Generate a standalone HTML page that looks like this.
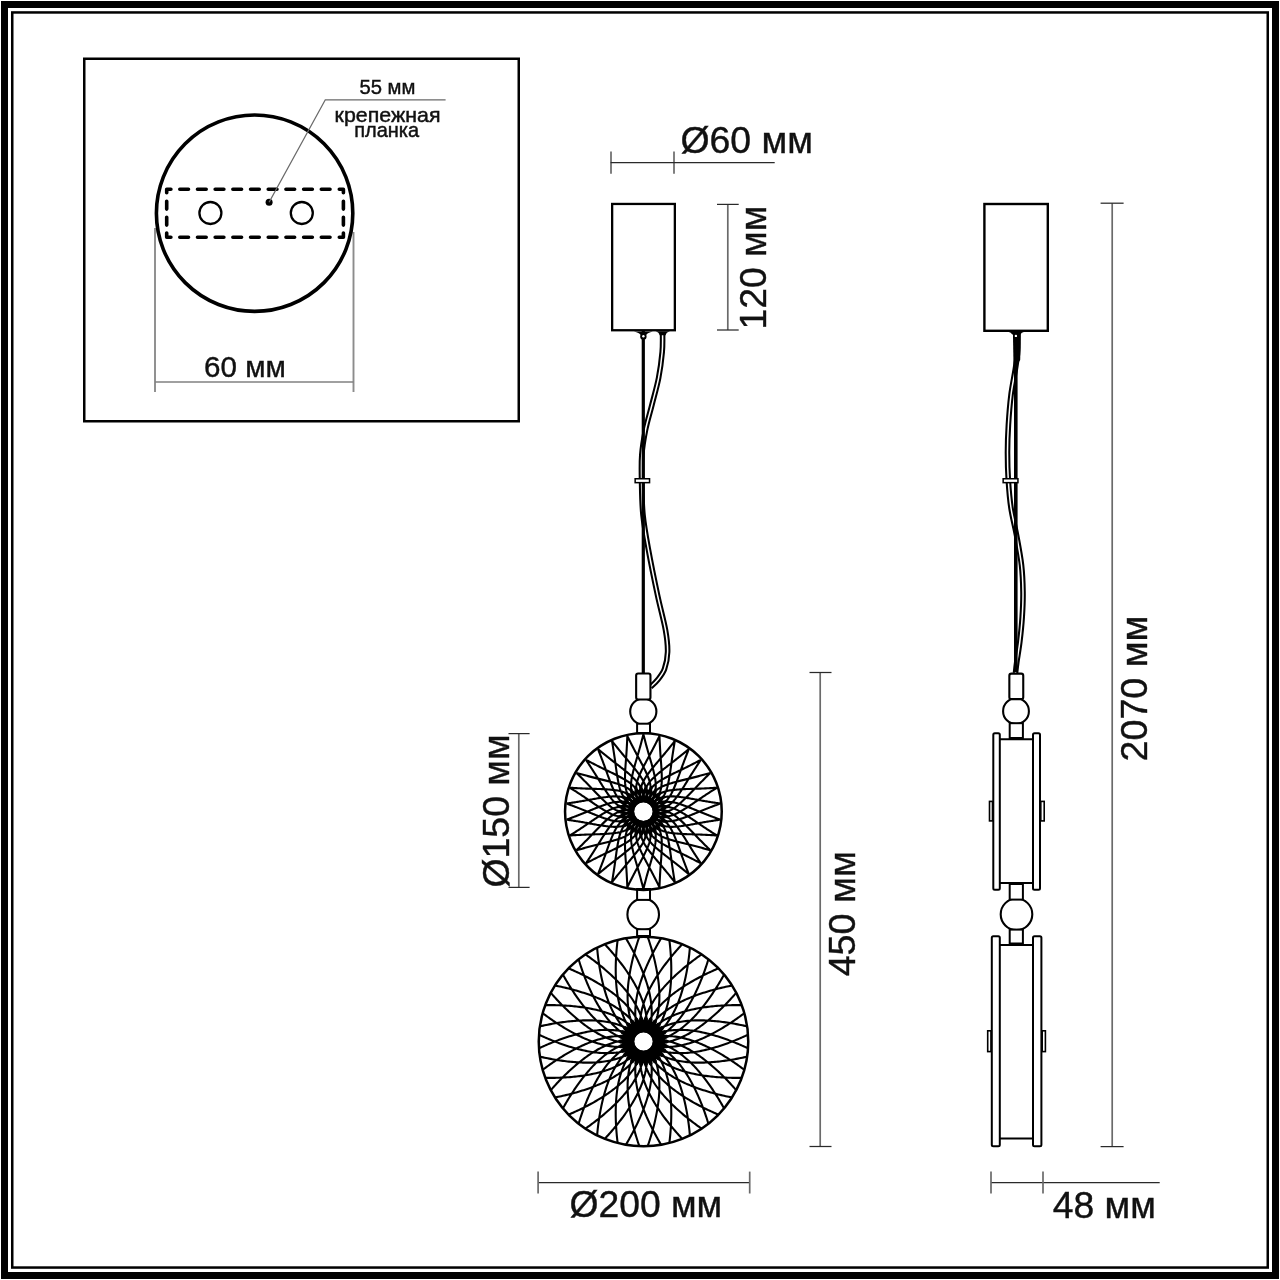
<!DOCTYPE html>
<html><head><meta charset="utf-8"><style>
html,body{margin:0;padding:0;background:#fff;width:1280px;height:1280px;overflow:hidden}
svg{display:block}
text{font-family:"Liberation Sans",sans-serif;fill:#111}
svg{will-change:transform}
</style></head><body>
<svg width="1280" height="1280" viewBox="0 0 1280 1280">
<rect width="1280" height="1280" fill="#fff"/>
<rect x="4.50" y="4.50" width="1271.00" height="1271.00" rx="0" fill="none" stroke="#000" stroke-width="7"/>
<rect x="12.25" y="12.45" width="1255.50" height="1255.10" rx="0" fill="none" stroke="#000" stroke-width="2.5"/>
<rect x="84.25" y="58.75" width="434.50" height="362.50" rx="0" fill="none" stroke="#000" stroke-width="2.5"/>
<line x1="155" y1="228" x2="155" y2="392" stroke="#8c8c8c" stroke-width="1.9" stroke-linecap="butt"/>
<line x1="353.5" y1="232" x2="353.5" y2="392" stroke="#8c8c8c" stroke-width="1.9" stroke-linecap="butt"/>
<line x1="155" y1="382" x2="353.5" y2="382" stroke="#808080" stroke-width="1.5" stroke-linecap="butt"/>
<circle cx="254.6" cy="213.2" r="98.2" fill="none" stroke="#000" stroke-width="3.6"/>
<path d="M179.80,189.2H188.50M179.80,237.3H188.50M197.49,189.2H206.19M197.49,237.3H206.19M215.18,189.2H223.88M215.18,237.3H223.88M232.87,189.2H241.57M232.87,237.3H241.57M250.56,189.2H259.26M250.56,237.3H259.26M268.25,189.2H276.95M268.25,237.3H276.95M285.94,189.2H294.64M285.94,237.3H294.64M303.63,189.2H312.33M303.63,237.3H312.33M321.32,189.2H330.02M321.32,237.3H330.02M166.7,201.30V209.10M343.4,201.30V209.10M166.7,217.30V225.10M343.4,217.30V225.10M170.89999999999998,189.2H166.7V192.79999999999998M339.3,189.2H343.4V192.79999999999998M170.89999999999998,237.3H166.7V233.0M339.3,237.3H343.4V233.0" fill="none" stroke="#000" stroke-width="3.6" stroke-linecap="round" stroke-linejoin="round"/>
<circle cx="210.4" cy="213" r="11" fill="none" stroke="#000" stroke-width="2.3"/>
<circle cx="301.8" cy="213" r="11" fill="none" stroke="#000" stroke-width="2.3"/>
<circle cx="269.1" cy="202.3" r="3.5" fill="#000"/>
<polyline points="269.1,202.3 325.3,99.8 445.6,99.8" fill="none" stroke="#6a6a6a" stroke-width="1.3"/>
<text transform="translate(359.49,94.00) scale(0.9724,1)" font-size="20.80" stroke="#111" stroke-width="0.45">55 мм</text>
<text transform="translate(334.60,121.60) scale(1.0794,1)" font-size="19.80" stroke="#111" stroke-width="0.45">крепежная</text>
<text transform="translate(354.20,136.80) scale(0.9852,1)" font-size="20.30" stroke="#111" stroke-width="0.45">планка</text>
<text transform="translate(204.12,376.90) scale(0.9928,1)" font-size="29.80" stroke="#111" stroke-width="0.4">60 мм</text>
<line x1="611" y1="151.4" x2="611" y2="173.8" stroke="#6a6a6a" stroke-width="1.7" stroke-linecap="butt"/>
<line x1="674" y1="151.4" x2="674" y2="173.8" stroke="#6a6a6a" stroke-width="1.7" stroke-linecap="butt"/>
<line x1="610.6" y1="162.5" x2="774.7" y2="162.5" stroke="#2a2a2a" stroke-width="1.25" stroke-linecap="butt"/>
<text transform="translate(680.40,152.75) scale(0.9903,1)" font-size="37.80" stroke="#111" stroke-width="0.4">Ø60 мм</text>
<rect x="612.15" y="203.95" width="62.70" height="126.30" rx="0" fill="none" stroke="#000" stroke-width="2.3"/>
<line x1="727.8" y1="204.4" x2="727.8" y2="330" stroke="#6a6a6a" stroke-width="1.7" stroke-linecap="butt"/>
<line x1="717" y1="204.4" x2="738.7" y2="204.4" stroke="#2a2a2a" stroke-width="1.25" stroke-linecap="butt"/>
<line x1="717" y1="330" x2="738.7" y2="330" stroke="#2a2a2a" stroke-width="1.25" stroke-linecap="butt"/>
<text transform="translate(765.90,329.49) rotate(-90) scale(0.9873,1)" font-size="37.80" stroke="#111" stroke-width="0.4">120 мм</text>
<path d="M633.9,331.4 Q639.5,332.59999999999997 640.3,334.79999999999995 L646.5,334.79999999999995 Q647.3,332.59999999999997 652.9,331.4 Z" fill="#000"/>
<circle cx="643.4" cy="336.4" r="3.2" fill="#000"/>
<path d="M662.60,334.00C662.53,337.00 662.87,344.67 662.20,352.00C661.53,359.33 660.32,369.17 658.60,378.00C656.88,386.83 654.08,396.33 651.90,405.00C649.72,413.67 647.18,421.67 645.50,430.00C643.82,438.33 642.45,446.33 641.80,455.00C641.15,463.67 641.40,472.00 641.60,482.00C641.80,492.00 641.85,503.67 643.00,515.00C644.15,526.33 646.08,536.67 648.50,550.00C650.92,563.33 654.67,581.67 657.50,595.00C660.33,608.33 663.82,620.50 665.50,630.00C667.18,639.50 667.77,645.50 667.60,652.00C667.43,658.50 666.18,664.33 664.50,669.00C662.82,673.67 659.83,677.00 657.50,680.00C655.17,683.00 651.67,685.83 650.50,687.00" fill="none" stroke="#000" stroke-width="5.6"/>
<path d="M662.60,334.00C662.53,337.00 662.87,344.67 662.20,352.00C661.53,359.33 660.32,369.17 658.60,378.00C656.88,386.83 654.08,396.33 651.90,405.00C649.72,413.67 647.18,421.67 645.50,430.00C643.82,438.33 642.45,446.33 641.80,455.00C641.15,463.67 641.40,472.00 641.60,482.00C641.80,492.00 641.85,503.67 643.00,515.00C644.15,526.33 646.08,536.67 648.50,550.00C650.92,563.33 654.67,581.67 657.50,595.00C660.33,608.33 663.82,620.50 665.50,630.00C667.18,639.50 667.77,645.50 667.60,652.00C667.43,658.50 666.18,664.33 664.50,669.00C662.82,673.67 659.83,677.00 657.50,680.00C655.17,683.00 651.67,685.83 650.50,687.00" fill="none" stroke="#fff" stroke-width="1.5"/>
<line x1="643.3" y1="331" x2="643.3" y2="673" stroke="#000" stroke-width="3.2" stroke-linecap="butt"/>
<path d="M655.5,331.2 Q659.2,332.2 659.6,335.2 L665.6,335.2 Q666.1,332.2 670,331.2 Z" fill="#000"/>
<circle cx="643.4" cy="336.2" r="1.2" fill="#fff"/>
<rect x="635.15" y="478.75" width="14.40" height="3.90" rx="0" fill="#fff" stroke="#000" stroke-width="1.5"/>
<circle cx="643.3" cy="711.6" r="13.1" fill="#fff" stroke="#000" stroke-width="2.1"/>
<circle cx="643.2" cy="914.4" r="15.8" fill="#fff" stroke="#000" stroke-width="2.1"/>
<rect x="636.15" y="673.45" width="14.30" height="26.10" rx="2" fill="#fff" stroke="#000" stroke-width="2.1"/>
<rect x="637.10" y="723.70" width="12.90" height="9.30" rx="0" fill="#fff" stroke="#000" stroke-width="2.0"/>
<rect x="637.10" y="889.00" width="12.90" height="10.90" rx="0" fill="#fff" stroke="#000" stroke-width="2.0"/>
<rect x="637.10" y="929.20" width="12.90" height="6.80" rx="0" fill="#fff" stroke="#000" stroke-width="2.0"/>
<clipPath id="clip643811"><circle cx="643.4" cy="811.6" r="78.35"/></clipPath>
<g clip-path="url(#clip643811)" fill="none" stroke="#000" stroke-width="2.1" stroke-linejoin="round"><path d="M643.40,734.30 L643.64,735.26 L643.88,736.22 L644.13,737.18 L644.38,738.15 L644.63,739.11 L644.88,740.08 L645.14,741.04 L645.39,742.01 L645.65,742.98 L645.91,743.95 L646.17,744.92 L646.44,745.89 L646.70,746.86 L646.97,747.84 L647.24,748.82 L647.52,749.80 L647.79,750.78 L648.07,751.76 L648.36,752.75 L648.64,753.74 L648.93,754.73 L649.22,755.72 L649.51,756.72 L649.80,757.72 L650.10,758.72 L650.39,759.73 L650.69,760.74 L650.98,761.75 L651.28,762.77 L651.57,763.79 L651.86,764.82 L652.15,765.85 L652.43,766.88 L652.71,767.92 L652.98,768.96 L653.25,770.01 L653.51,771.06 L653.76,772.12 L654.01,773.18 L654.25,774.24 L654.49,775.32 L654.71,776.39 L654.93,777.47 L655.14,778.56 L655.32,779.65 L655.47,780.74 L655.59,781.82 L655.68,782.90 L655.74,783.97 L655.77,785.04 L655.77,786.10 L655.74,787.16 L655.69,788.21 L655.60,789.25 L655.48,790.28 L655.33,791.31 L655.15,792.32 L654.92,793.31 L654.66,794.28 L654.37,795.23 L654.03,796.17 L653.67,797.08 L653.28,797.98 L652.85,798.86 L652.39,799.72 L651.91,800.56 L651.40,801.37 L650.86,802.17 L650.29,802.95 L649.71,803.71 L649.11,804.46 L648.51,805.21 L647.91,805.96 L647.31,806.71 L646.71,807.46 L646.11,808.21 L645.51,808.96 L644.91,809.71 L644.31,810.46 L643.71,811.21M643.40,734.30 L643.16,735.26 L642.92,736.22 L642.67,737.18 L642.42,738.15 L642.17,739.11 L641.92,740.08 L641.66,741.04 L641.41,742.01 L641.15,742.98 L640.89,743.95 L640.63,744.92 L640.36,745.89 L640.10,746.86 L639.83,747.84 L639.56,748.82 L639.28,749.80 L639.01,750.78 L638.73,751.76 L638.44,752.75 L638.16,753.74 L637.87,754.73 L637.58,755.72 L637.29,756.72 L637.00,757.72 L636.70,758.72 L636.41,759.73 L636.11,760.74 L635.82,761.75 L635.52,762.77 L635.23,763.79 L634.94,764.82 L634.65,765.85 L634.37,766.88 L634.09,767.92 L633.82,768.96 L633.55,770.01 L633.29,771.06 L633.04,772.12 L632.79,773.18 L632.55,774.24 L632.31,775.32 L632.09,776.39 L631.87,777.47 L631.66,778.56 L631.48,779.65 L631.33,780.74 L631.21,781.82 L631.12,782.90 L631.06,783.97 L631.03,785.04 L631.03,786.10 L631.06,787.16 L631.11,788.21 L631.20,789.25 L631.32,790.28 L631.47,791.31 L631.65,792.32 L631.88,793.31 L632.14,794.28 L632.43,795.23 L632.77,796.17 L633.13,797.08 L633.52,797.98 L633.95,798.86 L634.41,799.72 L634.89,800.56 L635.40,801.37 L635.94,802.17 L636.51,802.95 L637.09,803.71 L637.69,804.46 L638.29,805.21 L638.89,805.96 L639.49,806.71 L640.09,807.46 L640.69,808.21 L641.29,808.96 L641.89,809.71 L642.49,810.46 L643.09,811.21M659.47,735.99 L659.51,736.98 L659.55,737.97 L659.59,738.96 L659.63,739.95 L659.67,740.95 L659.72,741.95 L659.77,742.94 L659.82,743.94 L659.87,744.94 L659.92,745.95 L659.98,746.95 L660.03,747.96 L660.09,748.96 L660.15,749.98 L660.21,750.99 L660.28,752.00 L660.34,753.02 L660.41,754.04 L660.48,755.06 L660.56,756.09 L660.63,757.12 L660.71,758.15 L660.79,759.19 L660.87,760.23 L660.95,761.27 L661.02,762.32 L661.10,763.37 L661.18,764.42 L661.26,765.48 L661.33,766.54 L661.40,767.60 L661.47,768.67 L661.53,769.74 L661.58,770.81 L661.63,771.89 L661.68,772.96 L661.72,774.05 L661.75,775.13 L661.77,776.22 L661.78,777.32 L661.79,778.41 L661.79,779.51 L661.77,780.62 L661.75,781.72 L661.70,782.83 L661.63,783.92 L661.52,785.00 L661.38,786.08 L661.22,787.14 L661.03,788.19 L660.80,789.23 L660.56,790.26 L660.28,791.27 L659.98,792.27 L659.65,793.26 L659.29,794.23 L658.90,795.18 L658.48,796.10 L658.02,797.00 L657.53,797.87 L657.01,798.72 L656.46,799.54 L655.89,800.33 L655.29,801.10 L654.67,801.85 L654.02,802.57 L653.35,803.26 L652.65,803.93 L651.94,804.57 L651.21,805.19 L650.47,805.80 L649.72,806.41 L648.98,807.02 L648.24,807.63 L647.50,808.24 L646.76,808.85 L646.01,809.45 L645.27,810.06 L644.53,810.67 L643.79,811.28M659.47,735.99 L659.04,736.88 L658.60,737.77 L658.16,738.66 L657.72,739.55 L657.27,740.44 L656.82,741.33 L656.37,742.22 L655.92,743.11 L655.47,744.01 L655.01,744.90 L654.55,745.80 L654.09,746.69 L653.63,747.59 L653.16,748.49 L652.70,749.39 L652.22,750.29 L651.75,751.19 L651.27,752.10 L650.79,753.00 L650.30,753.91 L649.82,754.82 L649.33,755.73 L648.83,756.65 L648.34,757.56 L647.84,758.48 L647.34,759.41 L646.85,760.33 L646.34,761.27 L645.84,762.20 L645.35,763.14 L644.85,764.08 L644.36,765.03 L643.87,765.98 L643.38,766.94 L642.90,767.90 L642.42,768.87 L641.94,769.84 L641.47,770.82 L641.01,771.81 L640.55,772.80 L640.10,773.80 L639.65,774.81 L639.22,775.82 L638.79,776.84 L638.38,777.87 L638.01,778.90 L637.66,779.93 L637.35,780.97 L637.07,782.01 L636.82,783.05 L636.60,784.09 L636.41,785.13 L636.25,786.17 L636.12,787.20 L636.02,788.24 L635.95,789.27 L635.92,790.29 L635.93,791.31 L635.99,792.31 L636.08,793.31 L636.21,794.29 L636.37,795.27 L636.57,796.23 L636.80,797.17 L637.07,798.11 L637.37,799.03 L637.71,799.93 L638.07,800.83 L638.46,801.70 L638.87,802.57 L639.30,803.43 L639.73,804.29 L640.16,805.14 L640.59,806.00 L641.02,806.86 L641.45,807.72 L641.88,808.58 L642.31,809.43 L642.74,810.29 L643.18,811.15M674.84,740.98 L674.67,741.96 L674.50,742.94 L674.33,743.91 L674.17,744.89 L674.01,745.88 L673.84,746.86 L673.68,747.85 L673.53,748.84 L673.37,749.83 L673.21,750.82 L673.06,751.81 L672.90,752.81 L672.75,753.80 L672.59,754.80 L672.45,755.81 L672.30,756.81 L672.15,757.82 L672.01,758.84 L671.87,759.85 L671.72,760.87 L671.58,761.89 L671.44,762.92 L671.30,763.95 L671.17,764.98 L671.03,766.02 L670.89,767.06 L670.75,768.10 L670.60,769.15 L670.46,770.20 L670.31,771.25 L670.16,772.30 L670.00,773.36 L669.84,774.42 L669.67,775.48 L669.49,776.54 L669.31,777.61 L669.12,778.68 L668.93,779.75 L668.72,780.82 L668.51,781.89 L668.29,782.96 L668.06,784.04 L667.81,785.11 L667.56,786.19 L667.28,787.26 L666.98,788.31 L666.65,789.35 L666.30,790.38 L665.91,791.38 L665.51,792.37 L665.07,793.34 L664.62,794.29 L664.14,795.23 L663.63,796.14 L663.11,797.04 L662.56,797.92 L661.98,798.76 L661.37,799.57 L660.73,800.36 L660.07,801.11 L659.39,801.83 L658.69,802.52 L657.96,803.18 L657.21,803.81 L656.45,804.40 L655.67,804.97 L654.86,805.51 L654.05,806.02 L653.22,806.50 L652.37,806.95 L651.52,807.40 L650.67,807.84 L649.81,808.28 L648.96,808.72 L648.11,809.16 L647.26,809.60 L646.40,810.04 L645.55,810.49 L644.70,810.93 L643.85,811.37M674.84,740.98 L674.23,741.76 L673.62,742.54 L673.00,743.32 L672.38,744.10 L671.76,744.88 L671.14,745.66 L670.51,746.44 L669.89,747.21 L669.26,747.99 L668.62,748.77 L667.99,749.55 L667.35,750.34 L666.71,751.12 L666.07,751.90 L665.43,752.68 L664.78,753.47 L664.12,754.25 L663.47,755.03 L662.81,755.82 L662.15,756.61 L661.48,757.40 L660.81,758.19 L660.14,758.98 L659.47,759.77 L658.79,760.57 L658.11,761.37 L657.43,762.17 L656.75,762.98 L656.06,763.79 L655.38,764.60 L654.70,765.42 L654.02,766.25 L653.34,767.08 L652.67,767.91 L651.99,768.75 L651.32,769.60 L650.66,770.45 L649.99,771.31 L649.33,772.18 L648.68,773.06 L648.03,773.94 L647.39,774.83 L646.75,775.73 L646.12,776.64 L645.51,777.56 L644.92,778.49 L644.37,779.43 L643.85,780.38 L643.36,781.34 L642.90,782.30 L642.47,783.27 L642.06,784.25 L641.69,785.23 L641.35,786.22 L641.03,787.21 L640.75,788.21 L640.51,789.20 L640.31,790.20 L640.16,791.19 L640.04,792.19 L639.96,793.18 L639.92,794.16 L639.92,795.14 L639.95,796.12 L640.02,797.09 L640.12,798.05 L640.26,799.01 L640.42,799.95 L640.62,800.89 L640.85,801.83 L641.09,802.75 L641.33,803.68 L641.58,804.61 L641.82,805.54 L642.06,806.47 L642.30,807.40 L642.55,808.33 L642.79,809.26 L643.03,810.19 L643.27,811.11M688.84,749.06 L688.47,749.98 L688.10,750.90 L687.73,751.82 L687.37,752.75 L687.00,753.68 L686.64,754.61 L686.28,755.54 L685.92,756.47 L685.56,757.41 L685.20,758.34 L684.84,759.28 L684.48,760.22 L684.12,761.17 L683.77,762.11 L683.41,763.07 L683.06,764.02 L682.70,764.98 L682.35,765.94 L682.00,766.90 L681.65,767.87 L681.30,768.84 L680.95,769.81 L680.60,770.79 L680.25,771.77 L679.90,772.76 L679.55,773.75 L679.19,774.74 L678.84,775.73 L678.48,776.73 L678.11,777.73 L677.74,778.73 L677.37,779.73 L676.99,780.73 L676.60,781.73 L676.21,782.74 L675.81,783.74 L675.41,784.74 L674.99,785.75 L674.57,786.75 L674.14,787.76 L673.70,788.76 L673.25,789.77 L672.79,790.77 L672.31,791.77 L671.82,792.76 L671.31,793.73 L670.77,794.67 L670.21,795.60 L669.63,796.50 L669.02,797.39 L668.40,798.25 L667.75,799.08 L667.09,799.90 L666.40,800.69 L665.70,801.46 L664.98,802.20 L664.24,802.90 L663.48,803.57 L662.69,804.21 L661.89,804.80 L661.07,805.37 L660.24,805.89 L659.39,806.39 L658.53,806.85 L657.66,807.27 L656.78,807.67 L655.88,808.03 L654.98,808.35 L654.06,808.65 L653.14,808.92 L652.21,809.18 L651.29,809.43 L650.36,809.68 L649.44,809.94 L648.51,810.19 L647.59,810.45 L646.66,810.70 L645.74,810.96 L644.81,811.21 L643.88,811.47M688.84,749.06 L688.08,749.70 L687.31,750.33 L686.55,750.97 L685.78,751.60 L685.01,752.23 L684.24,752.86 L683.47,753.50 L682.69,754.13 L681.91,754.76 L681.13,755.39 L680.35,756.02 L679.57,756.65 L678.78,757.29 L677.99,757.92 L677.20,758.55 L676.40,759.18 L675.60,759.81 L674.79,760.44 L673.98,761.07 L673.17,761.71 L672.35,762.34 L671.54,762.97 L670.71,763.61 L669.89,764.24 L669.06,764.88 L668.23,765.52 L667.40,766.17 L666.56,766.81 L665.73,767.46 L664.89,768.12 L664.05,768.78 L663.22,769.44 L662.38,770.12 L661.55,770.79 L660.71,771.47 L659.88,772.16 L659.05,772.86 L658.22,773.57 L657.40,774.28 L656.58,775.00 L655.76,775.73 L654.94,776.47 L654.13,777.21 L653.32,777.97 L652.54,778.75 L651.77,779.53 L651.04,780.34 L650.33,781.16 L649.65,781.99 L649.00,782.84 L648.38,783.70 L647.78,784.57 L647.21,785.45 L646.67,786.35 L646.16,787.25 L645.67,788.17 L645.23,789.09 L644.83,790.03 L644.47,790.97 L644.15,791.91 L643.87,792.86 L643.62,793.82 L643.41,794.78 L643.24,795.74 L643.11,796.70 L643.01,797.66 L642.94,798.63 L642.91,799.59 L642.91,800.55 L642.94,801.51 L642.98,802.47 L643.03,803.43 L643.07,804.39 L643.11,805.34 L643.16,806.30 L643.20,807.26 L643.25,808.22 L643.29,809.18 L643.33,810.14 L643.38,811.10M700.85,759.88 L700.29,760.70 L699.74,761.52 L699.19,762.35 L698.64,763.18 L698.09,764.01 L697.54,764.84 L697.00,765.68 L696.45,766.51 L695.90,767.36 L695.36,768.20 L694.81,769.04 L694.26,769.89 L693.72,770.74 L693.17,771.59 L692.63,772.44 L692.08,773.30 L691.54,774.17 L691.00,775.03 L690.45,775.90 L689.91,776.78 L689.36,777.65 L688.82,778.53 L688.27,779.42 L687.73,780.31 L687.18,781.20 L686.63,782.09 L686.07,782.98 L685.52,783.88 L684.96,784.78 L684.40,785.68 L683.83,786.58 L683.25,787.49 L682.67,788.39 L682.09,789.29 L681.50,790.19 L680.90,791.09 L680.29,791.98 L679.68,792.88 L679.05,793.78 L678.42,794.67 L677.78,795.56 L677.13,796.45 L676.48,797.33 L675.81,798.21 L675.12,799.08 L674.41,799.92 L673.69,800.73 L672.95,801.52 L672.19,802.29 L671.42,803.02 L670.63,803.73 L669.82,804.42 L669.00,805.08 L668.17,805.71 L667.32,806.31 L666.47,806.89 L665.59,807.43 L664.71,807.92 L663.81,808.38 L662.90,808.80 L661.98,809.18 L661.06,809.52 L660.13,809.83 L659.19,810.10 L658.25,810.33 L657.30,810.53 L656.35,810.70 L655.40,810.83 L654.44,810.93 L653.48,811.00 L652.53,811.06 L651.57,811.12 L650.61,811.17 L649.65,811.23 L648.69,811.29 L647.73,811.34 L646.78,811.40 L645.82,811.46 L644.86,811.51 L643.90,811.57M700.85,759.88 L699.97,760.34 L699.09,760.80 L698.21,761.26 L697.33,761.72 L696.45,762.18 L695.56,762.64 L694.67,763.10 L693.78,763.55 L692.89,764.01 L692.00,764.46 L691.10,764.92 L690.20,765.37 L689.30,765.83 L688.39,766.28 L687.49,766.74 L686.57,767.19 L685.66,767.64 L684.74,768.09 L683.82,768.54 L682.89,768.99 L681.96,769.44 L681.03,769.89 L680.10,770.34 L679.16,770.79 L678.21,771.24 L677.27,771.69 L676.32,772.15 L675.37,772.61 L674.41,773.07 L673.46,773.54 L672.50,774.01 L671.55,774.49 L670.59,774.97 L669.63,775.46 L668.68,775.95 L667.72,776.45 L666.76,776.96 L665.81,777.48 L664.85,778.00 L663.90,778.54 L662.95,779.08 L661.99,779.63 L661.05,780.20 L660.10,780.77 L659.17,781.36 L658.26,781.98 L657.37,782.61 L656.51,783.27 L655.67,783.94 L654.86,784.63 L654.07,785.34 L653.30,786.07 L652.56,786.82 L651.85,787.58 L651.16,788.36 L650.50,789.15 L649.87,789.97 L649.28,790.79 L648.74,791.64 L648.23,792.50 L647.75,793.37 L647.31,794.25 L646.91,795.15 L646.54,796.05 L646.21,796.97 L645.91,797.89 L645.65,798.81 L645.42,799.75 L645.22,800.69 L645.05,801.63 L644.89,802.58 L644.73,803.53 L644.58,804.47 L644.42,805.42 L644.26,806.37 L644.11,807.32 L643.95,808.26 L643.79,809.21 L643.64,810.16 L643.48,811.10M710.34,772.95 L709.63,773.64 L708.92,774.33 L708.21,775.02 L707.50,775.72 L706.79,776.42 L706.08,777.12 L705.37,777.82 L704.66,778.53 L703.96,779.24 L703.25,779.95 L702.54,780.66 L701.83,781.37 L701.11,782.09 L700.40,782.81 L699.69,783.54 L698.98,784.26 L698.27,784.99 L697.56,785.73 L696.85,786.47 L696.13,787.21 L695.42,787.95 L694.70,788.70 L693.98,789.45 L693.26,790.21 L692.54,790.96 L691.82,791.72 L691.09,792.48 L690.36,793.24 L689.63,794.01 L688.89,794.77 L688.14,795.54 L687.40,796.30 L686.64,797.06 L685.88,797.82 L685.12,798.58 L684.34,799.33 L683.56,800.08 L682.78,800.83 L681.98,801.58 L681.18,802.32 L680.37,803.06 L679.55,803.79 L678.72,804.52 L677.88,805.24 L677.03,805.95 L676.17,806.62 L675.29,807.27 L674.40,807.89 L673.50,808.48 L672.59,809.04 L671.67,809.57 L670.74,810.07 L669.80,810.54 L668.85,810.99 L667.90,811.40 L666.94,811.79 L665.98,812.13 L665.01,812.43 L664.03,812.69 L663.06,812.91 L662.08,813.09 L661.11,813.24 L660.13,813.34 L659.16,813.41 L658.19,813.45 L657.22,813.45 L656.25,813.41 L655.29,813.34 L654.34,813.24 L653.39,813.11 L652.44,812.97 L651.49,812.83 L650.54,812.68 L649.59,812.54 L648.64,812.39 L647.69,812.25 L646.74,812.11 L645.79,811.96 L644.85,811.82 L643.90,811.68M710.34,772.95 L709.39,773.22 L708.44,773.49 L707.48,773.76 L706.52,774.03 L705.56,774.29 L704.60,774.55 L703.64,774.82 L702.67,775.08 L701.70,775.34 L700.73,775.60 L699.76,775.86 L698.79,776.12 L697.81,776.37 L696.83,776.63 L695.85,776.88 L694.87,777.13 L693.88,777.38 L692.88,777.63 L691.89,777.88 L690.89,778.13 L689.89,778.37 L688.88,778.62 L687.87,778.87 L686.86,779.11 L685.84,779.36 L684.83,779.61 L683.80,779.86 L682.78,780.11 L681.75,780.36 L680.72,780.62 L679.68,780.88 L678.65,781.15 L677.61,781.42 L676.58,781.70 L675.54,781.99 L674.50,782.28 L673.45,782.58 L672.41,782.88 L671.37,783.20 L670.32,783.52 L669.28,783.86 L668.23,784.20 L667.19,784.55 L666.14,784.92 L665.11,785.30 L664.09,785.71 L663.09,786.15 L662.12,786.61 L661.16,787.10 L660.21,787.60 L659.29,788.14 L658.39,788.69 L657.52,789.27 L656.66,789.86 L655.82,790.48 L655.01,791.12 L654.23,791.78 L653.48,792.47 L652.77,793.19 L652.09,793.92 L651.45,794.67 L650.84,795.45 L650.26,796.24 L649.71,797.05 L649.19,797.87 L648.71,798.71 L648.26,799.56 L647.84,800.43 L647.45,801.31 L647.08,802.19 L646.73,803.09 L646.38,803.98 L646.03,804.88 L645.68,805.77 L645.33,806.66 L644.98,807.56 L644.63,808.45 L644.28,809.34 L643.93,810.24 L643.58,811.13M716.92,787.71 L716.08,788.24 L715.24,788.77 L714.40,789.30 L713.56,789.83 L712.72,790.37 L711.88,790.91 L711.04,791.45 L710.20,791.99 L709.36,792.54 L708.52,793.08 L707.68,793.63 L706.83,794.18 L705.99,794.74 L705.14,795.29 L704.30,795.85 L703.45,796.42 L702.60,796.98 L701.75,797.55 L700.90,798.13 L700.05,798.70 L699.20,799.28 L698.34,799.87 L697.48,800.45 L696.62,801.04 L695.76,801.63 L694.89,802.22 L694.02,802.81 L693.15,803.41 L692.27,804.01 L691.39,804.60 L690.51,805.19 L689.62,805.78 L688.72,806.37 L687.82,806.95 L686.91,807.53 L686.00,808.11 L685.08,808.69 L684.15,809.25 L683.22,809.82 L682.28,810.38 L681.34,810.93 L680.38,811.48 L679.42,812.02 L678.45,812.55 L677.47,813.06 L676.48,813.54 L675.49,813.99 L674.49,814.41 L673.49,814.80 L672.48,815.16 L671.47,815.49 L670.46,815.79 L669.44,816.06 L668.42,816.29 L667.41,816.50 L666.39,816.68 L665.37,816.81 L664.36,816.91 L663.35,816.96 L662.36,816.97 L661.36,816.95 L660.38,816.88 L659.40,816.78 L658.44,816.65 L657.48,816.48 L656.53,816.28 L655.60,816.04 L654.67,815.78 L653.76,815.48 L652.85,815.16 L651.96,814.82 L651.06,814.48 L650.16,814.14 L649.26,813.81 L648.36,813.47 L647.46,813.13 L646.57,812.79 L645.67,812.45 L644.77,812.11 L643.87,811.78M716.92,787.71 L715.93,787.78 L714.94,787.85 L713.95,787.91 L712.96,787.97 L711.96,788.03 L710.97,788.09 L709.97,788.15 L708.97,788.20 L707.97,788.25 L706.97,788.31 L705.96,788.36 L704.96,788.41 L703.95,788.46 L702.94,788.50 L701.92,788.55 L700.91,788.59 L699.89,788.63 L698.87,788.66 L697.84,788.70 L696.81,788.73 L695.78,788.77 L694.75,788.80 L693.71,788.83 L692.67,788.86 L691.62,788.89 L690.57,788.92 L689.52,788.95 L688.46,788.98 L687.40,789.02 L686.34,789.05 L685.28,789.10 L684.21,789.14 L683.14,789.19 L682.07,789.25 L680.99,789.31 L679.91,789.38 L678.83,789.46 L677.75,789.54 L676.66,789.63 L675.57,789.73 L674.48,789.84 L673.39,789.96 L672.29,790.09 L671.19,790.23 L670.10,790.39 L669.02,790.58 L667.96,790.80 L666.90,791.05 L665.86,791.32 L664.84,791.62 L663.83,791.95 L662.83,792.31 L661.85,792.69 L660.89,793.09 L659.94,793.52 L659.01,793.98 L658.11,794.47 L657.24,794.99 L656.39,795.54 L655.58,796.11 L654.79,796.72 L654.03,797.35 L653.30,798.00 L652.60,798.68 L651.92,799.37 L651.27,800.09 L650.66,800.84 L650.06,801.59 L649.50,802.37 L648.96,803.16 L648.43,803.97 L647.90,804.77 L647.37,805.57 L646.85,806.37 L646.32,807.17 L645.79,807.97 L645.26,808.78 L644.73,809.58 L644.20,810.38 L643.68,811.18M720.28,803.52 L719.35,803.86 L718.42,804.20 L717.49,804.55 L716.55,804.89 L715.62,805.24 L714.69,805.60 L713.75,805.95 L712.82,806.31 L711.88,806.67 L710.95,807.03 L710.01,807.39 L709.07,807.75 L708.13,808.12 L707.18,808.49 L706.24,808.86 L705.30,809.23 L704.35,809.61 L703.40,809.99 L702.45,810.38 L701.49,810.77 L700.54,811.15 L699.58,811.55 L698.62,811.94 L697.66,812.34 L696.69,812.73 L695.72,813.13 L694.74,813.53 L693.77,813.93 L692.79,814.33 L691.80,814.73 L690.81,815.13 L689.82,815.52 L688.82,815.90 L687.81,816.29 L686.81,816.67 L685.79,817.04 L684.77,817.41 L683.75,817.78 L682.72,818.14 L681.69,818.49 L680.64,818.83 L679.60,819.17 L678.54,819.50 L677.48,819.82 L676.42,820.12 L675.36,820.38 L674.29,820.61 L673.23,820.82 L672.17,820.99 L671.11,821.13 L670.05,821.24 L669.00,821.32 L667.95,821.37 L666.90,821.39 L665.86,821.39 L664.83,821.35 L663.81,821.27 L662.80,821.15 L661.80,820.99 L660.82,820.79 L659.86,820.56 L658.91,820.30 L657.98,820.00 L657.06,819.67 L656.16,819.30 L655.27,818.91 L654.41,818.48 L653.56,818.03 L652.73,817.55 L651.91,817.05 L651.10,816.53 L650.29,816.01 L649.48,815.49 L648.67,814.98 L647.87,814.46 L647.06,813.94 L646.25,813.42 L645.44,812.91 L644.63,812.39 L643.82,811.87M720.28,803.52 L719.30,803.38 L718.31,803.24 L717.33,803.10 L716.35,802.95 L715.36,802.80 L714.38,802.65 L713.39,802.50 L712.40,802.34 L711.41,802.19 L710.42,802.03 L709.43,801.87 L708.43,801.71 L707.44,801.55 L706.44,801.39 L705.44,801.22 L704.43,801.05 L703.43,800.87 L702.42,800.70 L701.41,800.52 L700.40,800.34 L699.38,800.16 L698.36,799.97 L697.34,799.79 L696.32,799.60 L695.29,799.41 L694.26,799.22 L693.22,799.03 L692.18,798.85 L691.14,798.66 L690.09,798.48 L689.04,798.29 L687.99,798.12 L686.93,797.95 L685.87,797.78 L684.80,797.62 L683.73,797.46 L682.66,797.31 L681.58,797.17 L680.50,797.03 L679.42,796.90 L678.33,796.78 L677.23,796.67 L676.13,796.57 L675.03,796.47 L673.93,796.41 L672.83,796.37 L671.74,796.36 L670.66,796.38 L669.59,796.44 L668.52,796.52 L667.46,796.63 L666.42,796.77 L665.38,796.94 L664.35,797.13 L663.34,797.36 L662.33,797.61 L661.35,797.90 L660.39,798.23 L659.45,798.59 L658.53,798.98 L657.64,799.41 L656.76,799.87 L655.91,800.36 L655.08,800.87 L654.28,801.41 L653.49,801.98 L652.74,802.58 L652.00,803.20 L651.28,803.84 L650.59,804.50 L649.91,805.18 L649.22,805.85 L648.54,806.53 L647.86,807.20 L647.17,807.88 L646.49,808.55 L645.81,809.22 L645.12,809.90 L644.44,810.57 L643.76,811.25M720.28,819.68 L719.30,819.82 L718.31,819.96 L717.33,820.10 L716.35,820.25 L715.36,820.40 L714.38,820.55 L713.39,820.70 L712.40,820.86 L711.41,821.01 L710.42,821.17 L709.43,821.33 L708.43,821.49 L707.44,821.65 L706.44,821.81 L705.44,821.98 L704.43,822.15 L703.43,822.33 L702.42,822.50 L701.41,822.68 L700.40,822.86 L699.38,823.04 L698.36,823.23 L697.34,823.41 L696.32,823.60 L695.29,823.79 L694.26,823.98 L693.22,824.17 L692.18,824.35 L691.14,824.54 L690.09,824.72 L689.04,824.91 L687.99,825.08 L686.93,825.25 L685.87,825.42 L684.80,825.58 L683.73,825.74 L682.66,825.89 L681.58,826.03 L680.50,826.17 L679.42,826.30 L678.33,826.42 L677.23,826.53 L676.13,826.63 L675.03,826.73 L673.93,826.79 L672.83,826.83 L671.74,826.84 L670.66,826.82 L669.59,826.76 L668.52,826.68 L667.46,826.57 L666.42,826.43 L665.38,826.26 L664.35,826.07 L663.34,825.84 L662.33,825.59 L661.35,825.30 L660.39,824.97 L659.45,824.61 L658.53,824.22 L657.64,823.79 L656.76,823.33 L655.91,822.84 L655.08,822.33 L654.28,821.79 L653.49,821.22 L652.74,820.62 L652.00,820.00 L651.28,819.36 L650.59,818.70 L649.91,818.02 L649.22,817.35 L648.54,816.67 L647.86,816.00 L647.17,815.32 L646.49,814.65 L645.81,813.98 L645.12,813.30 L644.44,812.63 L643.76,811.95M720.28,819.68 L719.35,819.34 L718.42,819.00 L717.49,818.65 L716.55,818.31 L715.62,817.96 L714.69,817.60 L713.75,817.25 L712.82,816.89 L711.88,816.53 L710.95,816.17 L710.01,815.81 L709.07,815.45 L708.13,815.08 L707.18,814.71 L706.24,814.34 L705.30,813.97 L704.35,813.59 L703.40,813.21 L702.45,812.82 L701.49,812.43 L700.54,812.05 L699.58,811.65 L698.62,811.26 L697.66,810.86 L696.69,810.47 L695.72,810.07 L694.74,809.67 L693.77,809.27 L692.79,808.87 L691.80,808.47 L690.81,808.07 L689.82,807.68 L688.82,807.30 L687.81,806.91 L686.81,806.53 L685.79,806.16 L684.77,805.79 L683.75,805.42 L682.72,805.06 L681.69,804.71 L680.64,804.37 L679.60,804.03 L678.54,803.70 L677.48,803.38 L676.42,803.08 L675.36,802.82 L674.29,802.59 L673.23,802.38 L672.17,802.21 L671.11,802.07 L670.05,801.96 L669.00,801.88 L667.95,801.83 L666.90,801.81 L665.86,801.81 L664.83,801.85 L663.81,801.93 L662.80,802.05 L661.80,802.21 L660.82,802.41 L659.86,802.64 L658.91,802.90 L657.98,803.20 L657.06,803.53 L656.16,803.90 L655.27,804.29 L654.41,804.72 L653.56,805.17 L652.73,805.65 L651.91,806.15 L651.10,806.67 L650.29,807.19 L649.48,807.71 L648.67,808.22 L647.87,808.74 L647.06,809.26 L646.25,809.78 L645.44,810.29 L644.63,810.81 L643.82,811.33M716.92,835.49 L715.93,835.42 L714.94,835.35 L713.95,835.29 L712.96,835.23 L711.96,835.17 L710.97,835.11 L709.97,835.05 L708.97,835.00 L707.97,834.95 L706.97,834.89 L705.96,834.84 L704.96,834.79 L703.95,834.74 L702.94,834.70 L701.92,834.65 L700.91,834.61 L699.89,834.57 L698.87,834.54 L697.84,834.50 L696.81,834.47 L695.78,834.43 L694.75,834.40 L693.71,834.37 L692.67,834.34 L691.62,834.31 L690.57,834.28 L689.52,834.25 L688.46,834.22 L687.40,834.18 L686.34,834.15 L685.28,834.10 L684.21,834.06 L683.14,834.01 L682.07,833.95 L680.99,833.89 L679.91,833.82 L678.83,833.74 L677.75,833.66 L676.66,833.57 L675.57,833.47 L674.48,833.36 L673.39,833.24 L672.29,833.11 L671.19,832.97 L670.10,832.81 L669.02,832.62 L667.96,832.40 L666.90,832.15 L665.86,831.88 L664.84,831.58 L663.83,831.25 L662.83,830.89 L661.85,830.51 L660.89,830.11 L659.94,829.68 L659.01,829.22 L658.11,828.73 L657.24,828.21 L656.39,827.66 L655.58,827.09 L654.79,826.48 L654.03,825.85 L653.30,825.20 L652.60,824.52 L651.92,823.83 L651.27,823.11 L650.66,822.36 L650.06,821.61 L649.50,820.83 L648.96,820.04 L648.43,819.23 L647.90,818.43 L647.37,817.63 L646.85,816.83 L646.32,816.03 L645.79,815.23 L645.26,814.42 L644.73,813.62 L644.20,812.82 L643.68,812.02M716.92,835.49 L716.08,834.96 L715.24,834.43 L714.40,833.90 L713.56,833.37 L712.72,832.83 L711.88,832.29 L711.04,831.75 L710.20,831.21 L709.36,830.66 L708.52,830.12 L707.68,829.57 L706.83,829.02 L705.99,828.46 L705.14,827.91 L704.30,827.35 L703.45,826.78 L702.60,826.22 L701.75,825.65 L700.90,825.07 L700.05,824.50 L699.20,823.92 L698.34,823.33 L697.48,822.75 L696.62,822.16 L695.76,821.57 L694.89,820.98 L694.02,820.39 L693.15,819.79 L692.27,819.19 L691.39,818.60 L690.51,818.01 L689.62,817.42 L688.72,816.83 L687.82,816.25 L686.91,815.67 L686.00,815.09 L685.08,814.51 L684.15,813.95 L683.22,813.38 L682.28,812.82 L681.34,812.27 L680.38,811.72 L679.42,811.18 L678.45,810.65 L677.47,810.14 L676.48,809.66 L675.49,809.21 L674.49,808.79 L673.49,808.40 L672.48,808.04 L671.47,807.71 L670.46,807.41 L669.44,807.14 L668.42,806.91 L667.41,806.70 L666.39,806.52 L665.37,806.39 L664.36,806.29 L663.35,806.24 L662.36,806.23 L661.36,806.25 L660.38,806.32 L659.40,806.42 L658.44,806.55 L657.48,806.72 L656.53,806.92 L655.60,807.16 L654.67,807.42 L653.76,807.72 L652.85,808.04 L651.96,808.38 L651.06,808.72 L650.16,809.06 L649.26,809.39 L648.36,809.73 L647.46,810.07 L646.57,810.41 L645.67,810.75 L644.77,811.09 L643.87,811.42M710.34,850.25 L709.39,849.98 L708.44,849.71 L707.48,849.44 L706.52,849.17 L705.56,848.91 L704.60,848.65 L703.64,848.38 L702.67,848.12 L701.70,847.86 L700.73,847.60 L699.76,847.34 L698.79,847.08 L697.81,846.83 L696.83,846.57 L695.85,846.32 L694.87,846.07 L693.88,845.82 L692.88,845.57 L691.89,845.32 L690.89,845.07 L689.89,844.83 L688.88,844.58 L687.87,844.33 L686.86,844.09 L685.84,843.84 L684.83,843.59 L683.80,843.34 L682.78,843.09 L681.75,842.84 L680.72,842.58 L679.68,842.32 L678.65,842.05 L677.61,841.78 L676.58,841.50 L675.54,841.21 L674.50,840.92 L673.45,840.62 L672.41,840.32 L671.37,840.00 L670.32,839.68 L669.28,839.34 L668.23,839.00 L667.19,838.65 L666.14,838.28 L665.11,837.90 L664.09,837.49 L663.09,837.05 L662.12,836.59 L661.16,836.10 L660.21,835.60 L659.29,835.06 L658.39,834.51 L657.52,833.93 L656.66,833.34 L655.82,832.72 L655.01,832.08 L654.23,831.42 L653.48,830.73 L652.77,830.01 L652.09,829.28 L651.45,828.53 L650.84,827.75 L650.26,826.96 L649.71,826.15 L649.19,825.33 L648.71,824.49 L648.26,823.64 L647.84,822.77 L647.45,821.89 L647.08,821.01 L646.73,820.11 L646.38,819.22 L646.03,818.32 L645.68,817.43 L645.33,816.54 L644.98,815.64 L644.63,814.75 L644.28,813.86 L643.93,812.96 L643.58,812.07M710.34,850.25 L709.63,849.56 L708.92,848.87 L708.21,848.18 L707.50,847.48 L706.79,846.78 L706.08,846.08 L705.37,845.38 L704.66,844.67 L703.96,843.96 L703.25,843.25 L702.54,842.54 L701.83,841.83 L701.11,841.11 L700.40,840.39 L699.69,839.66 L698.98,838.94 L698.27,838.21 L697.56,837.47 L696.85,836.73 L696.13,835.99 L695.42,835.25 L694.70,834.50 L693.98,833.75 L693.26,832.99 L692.54,832.24 L691.82,831.48 L691.09,830.72 L690.36,829.96 L689.63,829.19 L688.89,828.43 L688.14,827.66 L687.40,826.90 L686.64,826.14 L685.88,825.38 L685.12,824.62 L684.34,823.87 L683.56,823.12 L682.78,822.37 L681.98,821.62 L681.18,820.88 L680.37,820.14 L679.55,819.41 L678.72,818.68 L677.88,817.96 L677.03,817.25 L676.17,816.58 L675.29,815.93 L674.40,815.31 L673.50,814.72 L672.59,814.16 L671.67,813.63 L670.74,813.13 L669.80,812.66 L668.85,812.21 L667.90,811.80 L666.94,811.41 L665.98,811.07 L665.01,810.77 L664.03,810.51 L663.06,810.29 L662.08,810.11 L661.11,809.96 L660.13,809.86 L659.16,809.79 L658.19,809.75 L657.22,809.75 L656.25,809.79 L655.29,809.86 L654.34,809.96 L653.39,810.09 L652.44,810.23 L651.49,810.37 L650.54,810.52 L649.59,810.66 L648.64,810.81 L647.69,810.95 L646.74,811.09 L645.79,811.24 L644.85,811.38 L643.90,811.52M700.85,863.32 L699.97,862.86 L699.09,862.40 L698.21,861.94 L697.33,861.48 L696.45,861.02 L695.56,860.56 L694.67,860.10 L693.78,859.65 L692.89,859.19 L692.00,858.74 L691.10,858.28 L690.20,857.83 L689.30,857.37 L688.39,856.92 L687.49,856.46 L686.57,856.01 L685.66,855.56 L684.74,855.11 L683.82,854.66 L682.89,854.21 L681.96,853.76 L681.03,853.31 L680.10,852.86 L679.16,852.41 L678.21,851.96 L677.27,851.51 L676.32,851.05 L675.37,850.59 L674.41,850.13 L673.46,849.66 L672.50,849.19 L671.55,848.71 L670.59,848.23 L669.63,847.74 L668.68,847.25 L667.72,846.75 L666.76,846.24 L665.81,845.72 L664.85,845.20 L663.90,844.66 L662.95,844.12 L661.99,843.57 L661.05,843.00 L660.10,842.43 L659.17,841.84 L658.26,841.22 L657.37,840.59 L656.51,839.93 L655.67,839.26 L654.86,838.57 L654.07,837.86 L653.30,837.13 L652.56,836.38 L651.85,835.62 L651.16,834.84 L650.50,834.05 L649.87,833.23 L649.28,832.41 L648.74,831.56 L648.23,830.70 L647.75,829.83 L647.31,828.95 L646.91,828.05 L646.54,827.15 L646.21,826.23 L645.91,825.31 L645.65,824.39 L645.42,823.45 L645.22,822.51 L645.05,821.57 L644.89,820.62 L644.73,819.67 L644.58,818.73 L644.42,817.78 L644.26,816.83 L644.11,815.88 L643.95,814.94 L643.79,813.99 L643.64,813.04 L643.48,812.10M700.85,863.32 L700.29,862.50 L699.74,861.68 L699.19,860.85 L698.64,860.02 L698.09,859.19 L697.54,858.36 L697.00,857.52 L696.45,856.69 L695.90,855.84 L695.36,855.00 L694.81,854.16 L694.26,853.31 L693.72,852.46 L693.17,851.61 L692.63,850.76 L692.08,849.90 L691.54,849.03 L691.00,848.17 L690.45,847.30 L689.91,846.42 L689.36,845.55 L688.82,844.67 L688.27,843.78 L687.73,842.89 L687.18,842.00 L686.63,841.11 L686.07,840.22 L685.52,839.32 L684.96,838.42 L684.40,837.52 L683.83,836.62 L683.25,835.71 L682.67,834.81 L682.09,833.91 L681.50,833.01 L680.90,832.11 L680.29,831.22 L679.68,830.32 L679.05,829.42 L678.42,828.53 L677.78,827.64 L677.13,826.75 L676.48,825.87 L675.81,824.99 L675.12,824.12 L674.41,823.28 L673.69,822.47 L672.95,821.68 L672.19,820.91 L671.42,820.18 L670.63,819.47 L669.82,818.78 L669.00,818.12 L668.17,817.49 L667.32,816.89 L666.47,816.31 L665.59,815.77 L664.71,815.28 L663.81,814.82 L662.90,814.40 L661.98,814.02 L661.06,813.68 L660.13,813.37 L659.19,813.10 L658.25,812.87 L657.30,812.67 L656.35,812.50 L655.40,812.37 L654.44,812.27 L653.48,812.20 L652.53,812.14 L651.57,812.08 L650.61,812.03 L649.65,811.97 L648.69,811.91 L647.73,811.86 L646.78,811.80 L645.82,811.74 L644.86,811.69 L643.90,811.63M688.84,874.14 L688.08,873.50 L687.31,872.87 L686.55,872.23 L685.78,871.60 L685.01,870.97 L684.24,870.34 L683.47,869.70 L682.69,869.07 L681.91,868.44 L681.13,867.81 L680.35,867.18 L679.57,866.55 L678.78,865.91 L677.99,865.28 L677.20,864.65 L676.40,864.02 L675.60,863.39 L674.79,862.76 L673.98,862.13 L673.17,861.49 L672.35,860.86 L671.54,860.23 L670.71,859.59 L669.89,858.96 L669.06,858.32 L668.23,857.68 L667.40,857.03 L666.56,856.39 L665.73,855.74 L664.89,855.08 L664.05,854.42 L663.22,853.76 L662.38,853.08 L661.55,852.41 L660.71,851.73 L659.88,851.04 L659.05,850.34 L658.22,849.63 L657.40,848.92 L656.58,848.20 L655.76,847.47 L654.94,846.73 L654.13,845.99 L653.32,845.23 L652.54,844.45 L651.77,843.67 L651.04,842.86 L650.33,842.04 L649.65,841.21 L649.00,840.36 L648.38,839.50 L647.78,838.63 L647.21,837.75 L646.67,836.85 L646.16,835.95 L645.67,835.03 L645.23,834.11 L644.83,833.17 L644.47,832.23 L644.15,831.29 L643.87,830.34 L643.62,829.38 L643.41,828.42 L643.24,827.46 L643.11,826.50 L643.01,825.54 L642.94,824.57 L642.91,823.61 L642.91,822.65 L642.94,821.69 L642.98,820.73 L643.03,819.77 L643.07,818.81 L643.11,817.86 L643.16,816.90 L643.20,815.94 L643.25,814.98 L643.29,814.02 L643.33,813.06 L643.38,812.10M688.84,874.14 L688.47,873.22 L688.10,872.30 L687.73,871.38 L687.37,870.45 L687.00,869.52 L686.64,868.59 L686.28,867.66 L685.92,866.73 L685.56,865.79 L685.20,864.86 L684.84,863.92 L684.48,862.98 L684.12,862.03 L683.77,861.09 L683.41,860.13 L683.06,859.18 L682.70,858.22 L682.35,857.26 L682.00,856.30 L681.65,855.33 L681.30,854.36 L680.95,853.39 L680.60,852.41 L680.25,851.43 L679.90,850.44 L679.55,849.45 L679.19,848.46 L678.84,847.47 L678.48,846.47 L678.11,845.47 L677.74,844.47 L677.37,843.47 L676.99,842.47 L676.60,841.47 L676.21,840.46 L675.81,839.46 L675.41,838.46 L674.99,837.45 L674.57,836.45 L674.14,835.44 L673.70,834.44 L673.25,833.43 L672.79,832.43 L672.31,831.43 L671.82,830.44 L671.31,829.47 L670.77,828.53 L670.21,827.60 L669.63,826.70 L669.02,825.81 L668.40,824.95 L667.75,824.12 L667.09,823.30 L666.40,822.51 L665.70,821.74 L664.98,821.00 L664.24,820.30 L663.48,819.63 L662.69,818.99 L661.89,818.40 L661.07,817.83 L660.24,817.31 L659.39,816.81 L658.53,816.35 L657.66,815.93 L656.78,815.53 L655.88,815.17 L654.98,814.85 L654.06,814.55 L653.14,814.28 L652.21,814.02 L651.29,813.77 L650.36,813.52 L649.44,813.26 L648.51,813.01 L647.59,812.75 L646.66,812.50 L645.74,812.24 L644.81,811.99 L643.88,811.73M674.84,882.22 L674.23,881.44 L673.62,880.66 L673.00,879.88 L672.38,879.10 L671.76,878.32 L671.14,877.54 L670.51,876.76 L669.89,875.99 L669.26,875.21 L668.62,874.43 L667.99,873.65 L667.35,872.86 L666.71,872.08 L666.07,871.30 L665.43,870.52 L664.78,869.73 L664.12,868.95 L663.47,868.17 L662.81,867.38 L662.15,866.59 L661.48,865.80 L660.81,865.01 L660.14,864.22 L659.47,863.43 L658.79,862.63 L658.11,861.83 L657.43,861.03 L656.75,860.22 L656.06,859.41 L655.38,858.60 L654.70,857.78 L654.02,856.95 L653.34,856.12 L652.67,855.29 L651.99,854.45 L651.32,853.60 L650.66,852.75 L649.99,851.89 L649.33,851.02 L648.68,850.14 L648.03,849.26 L647.39,848.37 L646.75,847.47 L646.12,846.56 L645.51,845.64 L644.92,844.71 L644.37,843.77 L643.85,842.82 L643.36,841.86 L642.90,840.90 L642.47,839.93 L642.06,838.95 L641.69,837.97 L641.35,836.98 L641.03,835.99 L640.75,834.99 L640.51,834.00 L640.31,833.00 L640.16,832.01 L640.04,831.01 L639.96,830.02 L639.92,829.04 L639.92,828.06 L639.95,827.08 L640.02,826.11 L640.12,825.15 L640.26,824.19 L640.42,823.25 L640.62,822.31 L640.85,821.37 L641.09,820.45 L641.33,819.52 L641.58,818.59 L641.82,817.66 L642.06,816.73 L642.30,815.80 L642.55,814.87 L642.79,813.94 L643.03,813.01 L643.27,812.09M674.84,882.22 L674.67,881.24 L674.50,880.26 L674.33,879.29 L674.17,878.31 L674.01,877.32 L673.84,876.34 L673.68,875.35 L673.53,874.36 L673.37,873.37 L673.21,872.38 L673.06,871.39 L672.90,870.39 L672.75,869.40 L672.59,868.40 L672.45,867.39 L672.30,866.39 L672.15,865.38 L672.01,864.36 L671.87,863.35 L671.72,862.33 L671.58,861.31 L671.44,860.28 L671.30,859.25 L671.17,858.22 L671.03,857.18 L670.89,856.14 L670.75,855.10 L670.60,854.05 L670.46,853.00 L670.31,851.95 L670.16,850.90 L670.00,849.84 L669.84,848.78 L669.67,847.72 L669.49,846.66 L669.31,845.59 L669.12,844.52 L668.93,843.45 L668.72,842.38 L668.51,841.31 L668.29,840.24 L668.06,839.16 L667.81,838.09 L667.56,837.01 L667.28,835.94 L666.98,834.89 L666.65,833.85 L666.30,832.82 L665.91,831.82 L665.51,830.83 L665.07,829.86 L664.62,828.91 L664.14,827.97 L663.63,827.06 L663.11,826.16 L662.56,825.28 L661.98,824.44 L661.37,823.63 L660.73,822.84 L660.07,822.09 L659.39,821.37 L658.69,820.68 L657.96,820.02 L657.21,819.39 L656.45,818.80 L655.67,818.23 L654.86,817.69 L654.05,817.18 L653.22,816.70 L652.37,816.25 L651.52,815.80 L650.67,815.36 L649.81,814.92 L648.96,814.48 L648.11,814.04 L647.26,813.60 L646.40,813.16 L645.55,812.71 L644.70,812.27 L643.85,811.83M659.47,887.21 L659.04,886.32 L658.60,885.43 L658.16,884.54 L657.72,883.65 L657.27,882.76 L656.82,881.87 L656.37,880.98 L655.92,880.09 L655.47,879.19 L655.01,878.30 L654.55,877.40 L654.09,876.51 L653.63,875.61 L653.16,874.71 L652.70,873.81 L652.22,872.91 L651.75,872.01 L651.27,871.10 L650.79,870.20 L650.30,869.29 L649.82,868.38 L649.33,867.47 L648.83,866.55 L648.34,865.64 L647.84,864.72 L647.34,863.79 L646.85,862.87 L646.34,861.93 L645.84,861.00 L645.35,860.06 L644.85,859.12 L644.36,858.17 L643.87,857.22 L643.38,856.26 L642.90,855.30 L642.42,854.33 L641.94,853.36 L641.47,852.38 L641.01,851.39 L640.55,850.40 L640.10,849.40 L639.65,848.39 L639.22,847.38 L638.79,846.36 L638.38,845.33 L638.01,844.30 L637.66,843.27 L637.35,842.23 L637.07,841.19 L636.82,840.15 L636.60,839.11 L636.41,838.07 L636.25,837.03 L636.12,836.00 L636.02,834.96 L635.95,833.93 L635.92,832.91 L635.93,831.89 L635.99,830.89 L636.08,829.89 L636.21,828.91 L636.37,827.93 L636.57,826.97 L636.80,826.03 L637.07,825.09 L637.37,824.17 L637.71,823.27 L638.07,822.37 L638.46,821.50 L638.87,820.63 L639.30,819.77 L639.73,818.91 L640.16,818.06 L640.59,817.20 L641.02,816.34 L641.45,815.48 L641.88,814.62 L642.31,813.77 L642.74,812.91 L643.18,812.05M659.47,887.21 L659.51,886.22 L659.55,885.23 L659.59,884.24 L659.63,883.25 L659.67,882.25 L659.72,881.25 L659.77,880.26 L659.82,879.26 L659.87,878.26 L659.92,877.25 L659.98,876.25 L660.03,875.24 L660.09,874.24 L660.15,873.22 L660.21,872.21 L660.28,871.20 L660.34,870.18 L660.41,869.16 L660.48,868.14 L660.56,867.11 L660.63,866.08 L660.71,865.05 L660.79,864.01 L660.87,862.97 L660.95,861.93 L661.02,860.88 L661.10,859.83 L661.18,858.78 L661.26,857.72 L661.33,856.66 L661.40,855.60 L661.47,854.53 L661.53,853.46 L661.58,852.39 L661.63,851.31 L661.68,850.24 L661.72,849.15 L661.75,848.07 L661.77,846.98 L661.78,845.88 L661.79,844.79 L661.79,843.69 L661.77,842.58 L661.75,841.48 L661.70,840.37 L661.63,839.28 L661.52,838.20 L661.38,837.12 L661.22,836.06 L661.03,835.01 L660.80,833.97 L660.56,832.94 L660.28,831.93 L659.98,830.93 L659.65,829.94 L659.29,828.97 L658.90,828.02 L658.48,827.10 L658.02,826.20 L657.53,825.33 L657.01,824.48 L656.46,823.66 L655.89,822.87 L655.29,822.10 L654.67,821.35 L654.02,820.63 L653.35,819.94 L652.65,819.27 L651.94,818.63 L651.21,818.01 L650.47,817.40 L649.72,816.79 L648.98,816.18 L648.24,815.57 L647.50,814.96 L646.76,814.35 L646.01,813.75 L645.27,813.14 L644.53,812.53 L643.79,811.92M643.40,888.90 L643.16,887.94 L642.92,886.98 L642.67,886.02 L642.42,885.05 L642.17,884.09 L641.92,883.12 L641.66,882.16 L641.41,881.19 L641.15,880.22 L640.89,879.25 L640.63,878.28 L640.36,877.31 L640.10,876.34 L639.83,875.36 L639.56,874.38 L639.28,873.40 L639.01,872.42 L638.73,871.44 L638.44,870.45 L638.16,869.46 L637.87,868.47 L637.58,867.48 L637.29,866.48 L637.00,865.48 L636.70,864.48 L636.41,863.47 L636.11,862.46 L635.82,861.45 L635.52,860.43 L635.23,859.41 L634.94,858.38 L634.65,857.35 L634.37,856.32 L634.09,855.28 L633.82,854.24 L633.55,853.19 L633.29,852.14 L633.04,851.08 L632.79,850.02 L632.55,848.96 L632.31,847.88 L632.09,846.81 L631.87,845.73 L631.66,844.64 L631.48,843.55 L631.33,842.46 L631.21,841.38 L631.12,840.30 L631.06,839.23 L631.03,838.16 L631.03,837.10 L631.06,836.04 L631.11,834.99 L631.20,833.95 L631.32,832.92 L631.47,831.89 L631.65,830.88 L631.88,829.89 L632.14,828.92 L632.43,827.97 L632.77,827.03 L633.13,826.12 L633.52,825.22 L633.95,824.34 L634.41,823.48 L634.89,822.64 L635.40,821.83 L635.94,821.03 L636.51,820.25 L637.09,819.49 L637.69,818.74 L638.29,817.99 L638.89,817.24 L639.49,816.49 L640.09,815.74 L640.69,814.99 L641.29,814.24 L641.89,813.49 L642.49,812.74 L643.09,811.99M643.40,888.90 L643.64,887.94 L643.88,886.98 L644.13,886.02 L644.38,885.05 L644.63,884.09 L644.88,883.12 L645.14,882.16 L645.39,881.19 L645.65,880.22 L645.91,879.25 L646.17,878.28 L646.44,877.31 L646.70,876.34 L646.97,875.36 L647.24,874.38 L647.52,873.40 L647.79,872.42 L648.07,871.44 L648.36,870.45 L648.64,869.46 L648.93,868.47 L649.22,867.48 L649.51,866.48 L649.80,865.48 L650.10,864.48 L650.39,863.47 L650.69,862.46 L650.98,861.45 L651.28,860.43 L651.57,859.41 L651.86,858.38 L652.15,857.35 L652.43,856.32 L652.71,855.28 L652.98,854.24 L653.25,853.19 L653.51,852.14 L653.76,851.08 L654.01,850.02 L654.25,848.96 L654.49,847.88 L654.71,846.81 L654.93,845.73 L655.14,844.64 L655.32,843.55 L655.47,842.46 L655.59,841.38 L655.68,840.30 L655.74,839.23 L655.77,838.16 L655.77,837.10 L655.74,836.04 L655.69,834.99 L655.60,833.95 L655.48,832.92 L655.33,831.89 L655.15,830.88 L654.92,829.89 L654.66,828.92 L654.37,827.97 L654.03,827.03 L653.67,826.12 L653.28,825.22 L652.85,824.34 L652.39,823.48 L651.91,822.64 L651.40,821.83 L650.86,821.03 L650.29,820.25 L649.71,819.49 L649.11,818.74 L648.51,817.99 L647.91,817.24 L647.31,816.49 L646.71,815.74 L646.11,814.99 L645.51,814.24 L644.91,813.49 L644.31,812.74 L643.71,811.99M627.33,887.21 L627.29,886.22 L627.25,885.23 L627.21,884.24 L627.17,883.25 L627.13,882.25 L627.08,881.25 L627.03,880.26 L626.98,879.26 L626.93,878.26 L626.88,877.25 L626.82,876.25 L626.77,875.24 L626.71,874.24 L626.65,873.22 L626.59,872.21 L626.52,871.20 L626.46,870.18 L626.39,869.16 L626.32,868.14 L626.24,867.11 L626.17,866.08 L626.09,865.05 L626.01,864.01 L625.93,862.97 L625.85,861.93 L625.78,860.88 L625.70,859.83 L625.62,858.78 L625.54,857.72 L625.47,856.66 L625.40,855.60 L625.33,854.53 L625.27,853.46 L625.22,852.39 L625.17,851.31 L625.12,850.24 L625.08,849.15 L625.05,848.07 L625.03,846.98 L625.02,845.88 L625.01,844.79 L625.01,843.69 L625.03,842.58 L625.05,841.48 L625.10,840.37 L625.17,839.28 L625.28,838.20 L625.42,837.12 L625.58,836.06 L625.77,835.01 L626.00,833.97 L626.24,832.94 L626.52,831.93 L626.82,830.93 L627.15,829.94 L627.51,828.97 L627.90,828.02 L628.32,827.10 L628.78,826.20 L629.27,825.33 L629.79,824.48 L630.34,823.66 L630.91,822.87 L631.51,822.10 L632.13,821.35 L632.78,820.63 L633.45,819.94 L634.15,819.27 L634.86,818.63 L635.59,818.01 L636.33,817.40 L637.08,816.79 L637.82,816.18 L638.56,815.57 L639.30,814.96 L640.04,814.35 L640.79,813.75 L641.53,813.14 L642.27,812.53 L643.01,811.92M627.33,887.21 L627.76,886.32 L628.20,885.43 L628.64,884.54 L629.08,883.65 L629.53,882.76 L629.98,881.87 L630.43,880.98 L630.88,880.09 L631.33,879.19 L631.79,878.30 L632.25,877.40 L632.71,876.51 L633.17,875.61 L633.64,874.71 L634.10,873.81 L634.58,872.91 L635.05,872.01 L635.53,871.10 L636.01,870.20 L636.50,869.29 L636.98,868.38 L637.47,867.47 L637.97,866.55 L638.46,865.64 L638.96,864.72 L639.46,863.79 L639.95,862.87 L640.46,861.93 L640.96,861.00 L641.45,860.06 L641.95,859.12 L642.44,858.17 L642.93,857.22 L643.42,856.26 L643.90,855.30 L644.38,854.33 L644.86,853.36 L645.33,852.38 L645.79,851.39 L646.25,850.40 L646.70,849.40 L647.15,848.39 L647.58,847.38 L648.01,846.36 L648.42,845.33 L648.79,844.30 L649.14,843.27 L649.45,842.23 L649.73,841.19 L649.98,840.15 L650.20,839.11 L650.39,838.07 L650.55,837.03 L650.68,836.00 L650.78,834.96 L650.85,833.93 L650.88,832.91 L650.87,831.89 L650.81,830.89 L650.72,829.89 L650.59,828.91 L650.43,827.93 L650.23,826.97 L650.00,826.03 L649.73,825.09 L649.43,824.17 L649.09,823.27 L648.73,822.37 L648.34,821.50 L647.93,820.63 L647.50,819.77 L647.07,818.91 L646.64,818.06 L646.21,817.20 L645.78,816.34 L645.35,815.48 L644.92,814.62 L644.49,813.77 L644.06,812.91 L643.62,812.05M611.96,882.22 L612.13,881.24 L612.30,880.26 L612.47,879.29 L612.63,878.31 L612.79,877.32 L612.96,876.34 L613.12,875.35 L613.27,874.36 L613.43,873.37 L613.59,872.38 L613.74,871.39 L613.90,870.39 L614.05,869.40 L614.21,868.40 L614.35,867.39 L614.50,866.39 L614.65,865.38 L614.79,864.36 L614.93,863.35 L615.08,862.33 L615.22,861.31 L615.36,860.28 L615.50,859.25 L615.63,858.22 L615.77,857.18 L615.91,856.14 L616.05,855.10 L616.20,854.05 L616.34,853.00 L616.49,851.95 L616.64,850.90 L616.80,849.84 L616.96,848.78 L617.13,847.72 L617.31,846.66 L617.49,845.59 L617.68,844.52 L617.87,843.45 L618.08,842.38 L618.29,841.31 L618.51,840.24 L618.74,839.16 L618.99,838.09 L619.24,837.01 L619.52,835.94 L619.82,834.89 L620.15,833.85 L620.50,832.82 L620.89,831.82 L621.29,830.83 L621.73,829.86 L622.18,828.91 L622.66,827.97 L623.17,827.06 L623.69,826.16 L624.24,825.28 L624.82,824.44 L625.43,823.63 L626.07,822.84 L626.73,822.09 L627.41,821.37 L628.11,820.68 L628.84,820.02 L629.59,819.39 L630.35,818.80 L631.13,818.23 L631.94,817.69 L632.75,817.18 L633.58,816.70 L634.43,816.25 L635.28,815.80 L636.13,815.36 L636.99,814.92 L637.84,814.48 L638.69,814.04 L639.54,813.60 L640.40,813.16 L641.25,812.71 L642.10,812.27 L642.95,811.83M611.96,882.22 L612.57,881.44 L613.18,880.66 L613.80,879.88 L614.42,879.10 L615.04,878.32 L615.66,877.54 L616.29,876.76 L616.91,875.99 L617.54,875.21 L618.18,874.43 L618.81,873.65 L619.45,872.86 L620.09,872.08 L620.73,871.30 L621.37,870.52 L622.02,869.73 L622.68,868.95 L623.33,868.17 L623.99,867.38 L624.65,866.59 L625.32,865.80 L625.99,865.01 L626.66,864.22 L627.33,863.43 L628.01,862.63 L628.69,861.83 L629.37,861.03 L630.05,860.22 L630.74,859.41 L631.42,858.60 L632.10,857.78 L632.78,856.95 L633.46,856.12 L634.13,855.29 L634.81,854.45 L635.48,853.60 L636.14,852.75 L636.81,851.89 L637.47,851.02 L638.12,850.14 L638.77,849.26 L639.41,848.37 L640.05,847.47 L640.68,846.56 L641.29,845.64 L641.88,844.71 L642.43,843.77 L642.95,842.82 L643.44,841.86 L643.90,840.90 L644.33,839.93 L644.74,838.95 L645.11,837.97 L645.45,836.98 L645.77,835.99 L646.05,834.99 L646.29,834.00 L646.49,833.00 L646.64,832.01 L646.76,831.01 L646.84,830.02 L646.88,829.04 L646.88,828.06 L646.85,827.08 L646.78,826.11 L646.68,825.15 L646.54,824.19 L646.38,823.25 L646.18,822.31 L645.95,821.37 L645.71,820.45 L645.47,819.52 L645.22,818.59 L644.98,817.66 L644.74,816.73 L644.50,815.80 L644.25,814.87 L644.01,813.94 L643.77,813.01 L643.53,812.09M597.96,874.14 L598.33,873.22 L598.70,872.30 L599.07,871.38 L599.43,870.45 L599.80,869.52 L600.16,868.59 L600.52,867.66 L600.88,866.73 L601.24,865.79 L601.60,864.86 L601.96,863.92 L602.32,862.98 L602.68,862.03 L603.03,861.09 L603.39,860.13 L603.74,859.18 L604.10,858.22 L604.45,857.26 L604.80,856.30 L605.15,855.33 L605.50,854.36 L605.85,853.39 L606.20,852.41 L606.55,851.43 L606.90,850.44 L607.25,849.45 L607.61,848.46 L607.96,847.47 L608.32,846.47 L608.69,845.47 L609.06,844.47 L609.43,843.47 L609.81,842.47 L610.20,841.47 L610.59,840.46 L610.99,839.46 L611.39,838.46 L611.81,837.45 L612.23,836.45 L612.66,835.44 L613.10,834.44 L613.55,833.43 L614.01,832.43 L614.49,831.43 L614.98,830.44 L615.49,829.47 L616.03,828.53 L616.59,827.60 L617.17,826.70 L617.78,825.81 L618.40,824.95 L619.05,824.12 L619.71,823.30 L620.40,822.51 L621.10,821.74 L621.82,821.00 L622.56,820.30 L623.32,819.63 L624.11,818.99 L624.91,818.40 L625.73,817.83 L626.56,817.31 L627.41,816.81 L628.27,816.35 L629.14,815.93 L630.02,815.53 L630.92,815.17 L631.82,814.85 L632.74,814.55 L633.66,814.28 L634.59,814.02 L635.51,813.77 L636.44,813.52 L637.36,813.26 L638.29,813.01 L639.21,812.75 L640.14,812.50 L641.06,812.24 L641.99,811.99 L642.92,811.73M597.96,874.14 L598.72,873.50 L599.49,872.87 L600.25,872.23 L601.02,871.60 L601.79,870.97 L602.56,870.34 L603.33,869.70 L604.11,869.07 L604.89,868.44 L605.67,867.81 L606.45,867.18 L607.23,866.55 L608.02,865.91 L608.81,865.28 L609.60,864.65 L610.40,864.02 L611.20,863.39 L612.01,862.76 L612.82,862.13 L613.63,861.49 L614.45,860.86 L615.26,860.23 L616.09,859.59 L616.91,858.96 L617.74,858.32 L618.57,857.68 L619.40,857.03 L620.24,856.39 L621.07,855.74 L621.91,855.08 L622.75,854.42 L623.58,853.76 L624.42,853.08 L625.25,852.41 L626.09,851.73 L626.92,851.04 L627.75,850.34 L628.58,849.63 L629.40,848.92 L630.22,848.20 L631.04,847.47 L631.86,846.73 L632.67,845.99 L633.48,845.23 L634.26,844.45 L635.03,843.67 L635.76,842.86 L636.47,842.04 L637.15,841.21 L637.80,840.36 L638.42,839.50 L639.02,838.63 L639.59,837.75 L640.13,836.85 L640.64,835.95 L641.13,835.03 L641.57,834.11 L641.97,833.17 L642.33,832.23 L642.65,831.29 L642.93,830.34 L643.18,829.38 L643.39,828.42 L643.56,827.46 L643.69,826.50 L643.79,825.54 L643.86,824.57 L643.89,823.61 L643.89,822.65 L643.86,821.69 L643.82,820.73 L643.77,819.77 L643.73,818.81 L643.69,817.86 L643.64,816.90 L643.60,815.94 L643.55,814.98 L643.51,814.02 L643.47,813.06 L643.42,812.10M585.95,863.32 L586.51,862.50 L587.06,861.68 L587.61,860.85 L588.16,860.02 L588.71,859.19 L589.26,858.36 L589.80,857.52 L590.35,856.69 L590.90,855.84 L591.44,855.00 L591.99,854.16 L592.54,853.31 L593.08,852.46 L593.63,851.61 L594.17,850.76 L594.72,849.90 L595.26,849.03 L595.80,848.17 L596.35,847.30 L596.89,846.42 L597.44,845.55 L597.98,844.67 L598.53,843.78 L599.07,842.89 L599.62,842.00 L600.17,841.11 L600.73,840.22 L601.28,839.32 L601.84,838.42 L602.40,837.52 L602.97,836.62 L603.55,835.71 L604.13,834.81 L604.71,833.91 L605.30,833.01 L605.90,832.11 L606.51,831.22 L607.12,830.32 L607.75,829.42 L608.38,828.53 L609.02,827.64 L609.67,826.75 L610.32,825.87 L610.99,824.99 L611.68,824.12 L612.39,823.28 L613.11,822.47 L613.85,821.68 L614.61,820.91 L615.38,820.18 L616.17,819.47 L616.98,818.78 L617.80,818.12 L618.63,817.49 L619.48,816.89 L620.33,816.31 L621.21,815.77 L622.09,815.28 L622.99,814.82 L623.90,814.40 L624.82,814.02 L625.74,813.68 L626.67,813.37 L627.61,813.10 L628.55,812.87 L629.50,812.67 L630.45,812.50 L631.40,812.37 L632.36,812.27 L633.32,812.20 L634.27,812.14 L635.23,812.08 L636.19,812.03 L637.15,811.97 L638.11,811.91 L639.07,811.86 L640.02,811.80 L640.98,811.74 L641.94,811.69 L642.90,811.63M585.95,863.32 L586.83,862.86 L587.71,862.40 L588.59,861.94 L589.47,861.48 L590.35,861.02 L591.24,860.56 L592.13,860.10 L593.02,859.65 L593.91,859.19 L594.80,858.74 L595.70,858.28 L596.60,857.83 L597.50,857.37 L598.41,856.92 L599.31,856.46 L600.23,856.01 L601.14,855.56 L602.06,855.11 L602.98,854.66 L603.91,854.21 L604.84,853.76 L605.77,853.31 L606.70,852.86 L607.64,852.41 L608.59,851.96 L609.53,851.51 L610.48,851.05 L611.43,850.59 L612.39,850.13 L613.34,849.66 L614.30,849.19 L615.25,848.71 L616.21,848.23 L617.17,847.74 L618.12,847.25 L619.08,846.75 L620.04,846.24 L620.99,845.72 L621.95,845.20 L622.90,844.66 L623.85,844.12 L624.81,843.57 L625.75,843.00 L626.70,842.43 L627.63,841.84 L628.54,841.22 L629.43,840.59 L630.29,839.93 L631.13,839.26 L631.94,838.57 L632.73,837.86 L633.50,837.13 L634.24,836.38 L634.95,835.62 L635.64,834.84 L636.30,834.05 L636.93,833.23 L637.52,832.41 L638.06,831.56 L638.57,830.70 L639.05,829.83 L639.49,828.95 L639.89,828.05 L640.26,827.15 L640.59,826.23 L640.89,825.31 L641.15,824.39 L641.38,823.45 L641.58,822.51 L641.75,821.57 L641.91,820.62 L642.07,819.67 L642.22,818.73 L642.38,817.78 L642.54,816.83 L642.69,815.88 L642.85,814.94 L643.01,813.99 L643.16,813.04 L643.32,812.10M576.46,850.25 L577.17,849.56 L577.88,848.87 L578.59,848.18 L579.30,847.48 L580.01,846.78 L580.72,846.08 L581.43,845.38 L582.14,844.67 L582.84,843.96 L583.55,843.25 L584.26,842.54 L584.97,841.83 L585.69,841.11 L586.40,840.39 L587.11,839.66 L587.82,838.94 L588.53,838.21 L589.24,837.47 L589.95,836.73 L590.67,835.99 L591.38,835.25 L592.10,834.50 L592.82,833.75 L593.54,832.99 L594.26,832.24 L594.98,831.48 L595.71,830.72 L596.44,829.96 L597.17,829.19 L597.91,828.43 L598.66,827.66 L599.40,826.90 L600.16,826.14 L600.92,825.38 L601.68,824.62 L602.46,823.87 L603.24,823.12 L604.02,822.37 L604.82,821.62 L605.62,820.88 L606.43,820.14 L607.25,819.41 L608.08,818.68 L608.92,817.96 L609.77,817.25 L610.63,816.58 L611.51,815.93 L612.40,815.31 L613.30,814.72 L614.21,814.16 L615.13,813.63 L616.06,813.13 L617.00,812.66 L617.95,812.21 L618.90,811.80 L619.86,811.41 L620.82,811.07 L621.79,810.77 L622.77,810.51 L623.74,810.29 L624.72,810.11 L625.69,809.96 L626.67,809.86 L627.64,809.79 L628.61,809.75 L629.58,809.75 L630.55,809.79 L631.51,809.86 L632.46,809.96 L633.41,810.09 L634.36,810.23 L635.31,810.37 L636.26,810.52 L637.21,810.66 L638.16,810.81 L639.11,810.95 L640.06,811.09 L641.01,811.24 L641.95,811.38 L642.90,811.52M576.46,850.25 L577.41,849.98 L578.36,849.71 L579.32,849.44 L580.28,849.17 L581.24,848.91 L582.20,848.65 L583.16,848.38 L584.13,848.12 L585.10,847.86 L586.07,847.60 L587.04,847.34 L588.01,847.08 L588.99,846.83 L589.97,846.57 L590.95,846.32 L591.93,846.07 L592.92,845.82 L593.92,845.57 L594.91,845.32 L595.91,845.07 L596.91,844.83 L597.92,844.58 L598.93,844.33 L599.94,844.09 L600.96,843.84 L601.97,843.59 L603.00,843.34 L604.02,843.09 L605.05,842.84 L606.08,842.58 L607.12,842.32 L608.15,842.05 L609.19,841.78 L610.22,841.50 L611.26,841.21 L612.30,840.92 L613.35,840.62 L614.39,840.32 L615.43,840.00 L616.48,839.68 L617.52,839.34 L618.57,839.00 L619.61,838.65 L620.66,838.28 L621.69,837.90 L622.71,837.49 L623.71,837.05 L624.68,836.59 L625.64,836.10 L626.59,835.60 L627.51,835.06 L628.41,834.51 L629.28,833.93 L630.14,833.34 L630.98,832.72 L631.79,832.08 L632.57,831.42 L633.32,830.73 L634.03,830.01 L634.71,829.28 L635.35,828.53 L635.96,827.75 L636.54,826.96 L637.09,826.15 L637.61,825.33 L638.09,824.49 L638.54,823.64 L638.96,822.77 L639.35,821.89 L639.72,821.01 L640.07,820.11 L640.42,819.22 L640.77,818.32 L641.12,817.43 L641.47,816.54 L641.82,815.64 L642.17,814.75 L642.52,813.86 L642.87,812.96 L643.22,812.07M569.88,835.49 L570.72,834.96 L571.56,834.43 L572.40,833.90 L573.24,833.37 L574.08,832.83 L574.92,832.29 L575.76,831.75 L576.60,831.21 L577.44,830.66 L578.28,830.12 L579.12,829.57 L579.97,829.02 L580.81,828.46 L581.66,827.91 L582.50,827.35 L583.35,826.78 L584.20,826.22 L585.05,825.65 L585.90,825.07 L586.75,824.50 L587.60,823.92 L588.46,823.33 L589.32,822.75 L590.18,822.16 L591.04,821.57 L591.91,820.98 L592.78,820.39 L593.65,819.79 L594.53,819.19 L595.41,818.60 L596.29,818.01 L597.18,817.42 L598.08,816.83 L598.98,816.25 L599.89,815.67 L600.80,815.09 L601.72,814.51 L602.65,813.95 L603.58,813.38 L604.52,812.82 L605.46,812.27 L606.42,811.72 L607.38,811.18 L608.35,810.65 L609.33,810.14 L610.32,809.66 L611.31,809.21 L612.31,808.79 L613.31,808.40 L614.32,808.04 L615.33,807.71 L616.34,807.41 L617.36,807.14 L618.38,806.91 L619.39,806.70 L620.41,806.52 L621.43,806.39 L622.44,806.29 L623.45,806.24 L624.44,806.23 L625.44,806.25 L626.42,806.32 L627.40,806.42 L628.36,806.55 L629.32,806.72 L630.27,806.92 L631.20,807.16 L632.13,807.42 L633.04,807.72 L633.95,808.04 L634.84,808.38 L635.74,808.72 L636.64,809.06 L637.54,809.39 L638.44,809.73 L639.34,810.07 L640.23,810.41 L641.13,810.75 L642.03,811.09 L642.93,811.42M569.88,835.49 L570.87,835.42 L571.86,835.35 L572.85,835.29 L573.84,835.23 L574.84,835.17 L575.83,835.11 L576.83,835.05 L577.83,835.00 L578.83,834.95 L579.83,834.89 L580.84,834.84 L581.84,834.79 L582.85,834.74 L583.86,834.70 L584.88,834.65 L585.89,834.61 L586.91,834.57 L587.93,834.54 L588.96,834.50 L589.99,834.47 L591.02,834.43 L592.05,834.40 L593.09,834.37 L594.13,834.34 L595.18,834.31 L596.23,834.28 L597.28,834.25 L598.34,834.22 L599.40,834.18 L600.46,834.15 L601.52,834.10 L602.59,834.06 L603.66,834.01 L604.73,833.95 L605.81,833.89 L606.89,833.82 L607.97,833.74 L609.05,833.66 L610.14,833.57 L611.23,833.47 L612.32,833.36 L613.41,833.24 L614.51,833.11 L615.61,832.97 L616.70,832.81 L617.78,832.62 L618.84,832.40 L619.90,832.15 L620.94,831.88 L621.96,831.58 L622.97,831.25 L623.97,830.89 L624.95,830.51 L625.91,830.11 L626.86,829.68 L627.79,829.22 L628.69,828.73 L629.56,828.21 L630.41,827.66 L631.22,827.09 L632.01,826.48 L632.77,825.85 L633.50,825.20 L634.20,824.52 L634.88,823.83 L635.53,823.11 L636.14,822.36 L636.74,821.61 L637.30,820.83 L637.84,820.04 L638.37,819.23 L638.90,818.43 L639.43,817.63 L639.95,816.83 L640.48,816.03 L641.01,815.23 L641.54,814.42 L642.07,813.62 L642.60,812.82 L643.12,812.02M566.52,819.68 L567.45,819.34 L568.38,819.00 L569.31,818.65 L570.25,818.31 L571.18,817.96 L572.11,817.60 L573.05,817.25 L573.98,816.89 L574.92,816.53 L575.85,816.17 L576.79,815.81 L577.73,815.45 L578.67,815.08 L579.62,814.71 L580.56,814.34 L581.50,813.97 L582.45,813.59 L583.40,813.21 L584.35,812.82 L585.31,812.43 L586.26,812.05 L587.22,811.65 L588.18,811.26 L589.14,810.86 L590.11,810.47 L591.08,810.07 L592.06,809.67 L593.03,809.27 L594.01,808.87 L595.00,808.47 L595.99,808.07 L596.98,807.68 L597.98,807.30 L598.99,806.91 L599.99,806.53 L601.01,806.16 L602.03,805.79 L603.05,805.42 L604.08,805.06 L605.11,804.71 L606.16,804.37 L607.20,804.03 L608.26,803.70 L609.32,803.38 L610.38,803.08 L611.44,802.82 L612.51,802.59 L613.57,802.38 L614.63,802.21 L615.69,802.07 L616.75,801.96 L617.80,801.88 L618.85,801.83 L619.90,801.81 L620.94,801.81 L621.97,801.85 L622.99,801.93 L624.00,802.05 L625.00,802.21 L625.98,802.41 L626.94,802.64 L627.89,802.90 L628.82,803.20 L629.74,803.53 L630.64,803.90 L631.53,804.29 L632.39,804.72 L633.24,805.17 L634.07,805.65 L634.89,806.15 L635.70,806.67 L636.51,807.19 L637.32,807.71 L638.13,808.22 L638.93,808.74 L639.74,809.26 L640.55,809.78 L641.36,810.29 L642.17,810.81 L642.98,811.33M566.52,819.68 L567.50,819.82 L568.49,819.96 L569.47,820.10 L570.45,820.25 L571.44,820.40 L572.42,820.55 L573.41,820.70 L574.40,820.86 L575.39,821.01 L576.38,821.17 L577.37,821.33 L578.37,821.49 L579.36,821.65 L580.36,821.81 L581.36,821.98 L582.37,822.15 L583.37,822.33 L584.38,822.50 L585.39,822.68 L586.40,822.86 L587.42,823.04 L588.44,823.23 L589.46,823.41 L590.48,823.60 L591.51,823.79 L592.54,823.98 L593.58,824.17 L594.62,824.35 L595.66,824.54 L596.71,824.72 L597.76,824.91 L598.81,825.08 L599.87,825.25 L600.93,825.42 L602.00,825.58 L603.07,825.74 L604.14,825.89 L605.22,826.03 L606.30,826.17 L607.38,826.30 L608.47,826.42 L609.57,826.53 L610.67,826.63 L611.77,826.73 L612.87,826.79 L613.97,826.83 L615.06,826.84 L616.14,826.82 L617.21,826.76 L618.28,826.68 L619.34,826.57 L620.38,826.43 L621.42,826.26 L622.45,826.07 L623.46,825.84 L624.47,825.59 L625.45,825.30 L626.41,824.97 L627.35,824.61 L628.27,824.22 L629.16,823.79 L630.04,823.33 L630.89,822.84 L631.72,822.33 L632.52,821.79 L633.31,821.22 L634.06,820.62 L634.80,820.00 L635.52,819.36 L636.21,818.70 L636.89,818.02 L637.58,817.35 L638.26,816.67 L638.94,816.00 L639.63,815.32 L640.31,814.65 L640.99,813.98 L641.68,813.30 L642.36,812.63 L643.04,811.95M566.52,803.52 L567.50,803.38 L568.49,803.24 L569.47,803.10 L570.45,802.95 L571.44,802.80 L572.42,802.65 L573.41,802.50 L574.40,802.34 L575.39,802.19 L576.38,802.03 L577.37,801.87 L578.37,801.71 L579.36,801.55 L580.36,801.39 L581.36,801.22 L582.37,801.05 L583.37,800.87 L584.38,800.70 L585.39,800.52 L586.40,800.34 L587.42,800.16 L588.44,799.97 L589.46,799.79 L590.48,799.60 L591.51,799.41 L592.54,799.22 L593.58,799.03 L594.62,798.85 L595.66,798.66 L596.71,798.48 L597.76,798.29 L598.81,798.12 L599.87,797.95 L600.93,797.78 L602.00,797.62 L603.07,797.46 L604.14,797.31 L605.22,797.17 L606.30,797.03 L607.38,796.90 L608.47,796.78 L609.57,796.67 L610.67,796.57 L611.77,796.47 L612.87,796.41 L613.97,796.37 L615.06,796.36 L616.14,796.38 L617.21,796.44 L618.28,796.52 L619.34,796.63 L620.38,796.77 L621.42,796.94 L622.45,797.13 L623.46,797.36 L624.47,797.61 L625.45,797.90 L626.41,798.23 L627.35,798.59 L628.27,798.98 L629.16,799.41 L630.04,799.87 L630.89,800.36 L631.72,800.87 L632.52,801.41 L633.31,801.98 L634.06,802.58 L634.80,803.20 L635.52,803.84 L636.21,804.50 L636.89,805.18 L637.58,805.85 L638.26,806.53 L638.94,807.20 L639.63,807.88 L640.31,808.55 L640.99,809.22 L641.68,809.90 L642.36,810.57 L643.04,811.25M566.52,803.52 L567.45,803.86 L568.38,804.20 L569.31,804.55 L570.25,804.89 L571.18,805.24 L572.11,805.60 L573.05,805.95 L573.98,806.31 L574.92,806.67 L575.85,807.03 L576.79,807.39 L577.73,807.75 L578.67,808.12 L579.62,808.49 L580.56,808.86 L581.50,809.23 L582.45,809.61 L583.40,809.99 L584.35,810.38 L585.31,810.77 L586.26,811.15 L587.22,811.55 L588.18,811.94 L589.14,812.34 L590.11,812.73 L591.08,813.13 L592.06,813.53 L593.03,813.93 L594.01,814.33 L595.00,814.73 L595.99,815.13 L596.98,815.52 L597.98,815.90 L598.99,816.29 L599.99,816.67 L601.01,817.04 L602.03,817.41 L603.05,817.78 L604.08,818.14 L605.11,818.49 L606.16,818.83 L607.20,819.17 L608.26,819.50 L609.32,819.82 L610.38,820.12 L611.44,820.38 L612.51,820.61 L613.57,820.82 L614.63,820.99 L615.69,821.13 L616.75,821.24 L617.80,821.32 L618.85,821.37 L619.90,821.39 L620.94,821.39 L621.97,821.35 L622.99,821.27 L624.00,821.15 L625.00,820.99 L625.98,820.79 L626.94,820.56 L627.89,820.30 L628.82,820.00 L629.74,819.67 L630.64,819.30 L631.53,818.91 L632.39,818.48 L633.24,818.03 L634.07,817.55 L634.89,817.05 L635.70,816.53 L636.51,816.01 L637.32,815.49 L638.13,814.98 L638.93,814.46 L639.74,813.94 L640.55,813.42 L641.36,812.91 L642.17,812.39 L642.98,811.87M569.88,787.71 L570.87,787.78 L571.86,787.85 L572.85,787.91 L573.84,787.97 L574.84,788.03 L575.83,788.09 L576.83,788.15 L577.83,788.20 L578.83,788.25 L579.83,788.31 L580.84,788.36 L581.84,788.41 L582.85,788.46 L583.86,788.50 L584.88,788.55 L585.89,788.59 L586.91,788.63 L587.93,788.66 L588.96,788.70 L589.99,788.73 L591.02,788.77 L592.05,788.80 L593.09,788.83 L594.13,788.86 L595.18,788.89 L596.23,788.92 L597.28,788.95 L598.34,788.98 L599.40,789.02 L600.46,789.05 L601.52,789.10 L602.59,789.14 L603.66,789.19 L604.73,789.25 L605.81,789.31 L606.89,789.38 L607.97,789.46 L609.05,789.54 L610.14,789.63 L611.23,789.73 L612.32,789.84 L613.41,789.96 L614.51,790.09 L615.61,790.23 L616.70,790.39 L617.78,790.58 L618.84,790.80 L619.90,791.05 L620.94,791.32 L621.96,791.62 L622.97,791.95 L623.97,792.31 L624.95,792.69 L625.91,793.09 L626.86,793.52 L627.79,793.98 L628.69,794.47 L629.56,794.99 L630.41,795.54 L631.22,796.11 L632.01,796.72 L632.77,797.35 L633.50,798.00 L634.20,798.68 L634.88,799.37 L635.53,800.09 L636.14,800.84 L636.74,801.59 L637.30,802.37 L637.84,803.16 L638.37,803.97 L638.90,804.77 L639.43,805.57 L639.95,806.37 L640.48,807.17 L641.01,807.97 L641.54,808.78 L642.07,809.58 L642.60,810.38 L643.12,811.18M569.88,787.71 L570.72,788.24 L571.56,788.77 L572.40,789.30 L573.24,789.83 L574.08,790.37 L574.92,790.91 L575.76,791.45 L576.60,791.99 L577.44,792.54 L578.28,793.08 L579.12,793.63 L579.97,794.18 L580.81,794.74 L581.66,795.29 L582.50,795.85 L583.35,796.42 L584.20,796.98 L585.05,797.55 L585.90,798.13 L586.75,798.70 L587.60,799.28 L588.46,799.87 L589.32,800.45 L590.18,801.04 L591.04,801.63 L591.91,802.22 L592.78,802.81 L593.65,803.41 L594.53,804.01 L595.41,804.60 L596.29,805.19 L597.18,805.78 L598.08,806.37 L598.98,806.95 L599.89,807.53 L600.80,808.11 L601.72,808.69 L602.65,809.25 L603.58,809.82 L604.52,810.38 L605.46,810.93 L606.42,811.48 L607.38,812.02 L608.35,812.55 L609.33,813.06 L610.32,813.54 L611.31,813.99 L612.31,814.41 L613.31,814.80 L614.32,815.16 L615.33,815.49 L616.34,815.79 L617.36,816.06 L618.38,816.29 L619.39,816.50 L620.41,816.68 L621.43,816.81 L622.44,816.91 L623.45,816.96 L624.44,816.97 L625.44,816.95 L626.42,816.88 L627.40,816.78 L628.36,816.65 L629.32,816.48 L630.27,816.28 L631.20,816.04 L632.13,815.78 L633.04,815.48 L633.95,815.16 L634.84,814.82 L635.74,814.48 L636.64,814.14 L637.54,813.81 L638.44,813.47 L639.34,813.13 L640.23,812.79 L641.13,812.45 L642.03,812.11 L642.93,811.78M576.46,772.95 L577.41,773.22 L578.36,773.49 L579.32,773.76 L580.28,774.03 L581.24,774.29 L582.20,774.55 L583.16,774.82 L584.13,775.08 L585.10,775.34 L586.07,775.60 L587.04,775.86 L588.01,776.12 L588.99,776.37 L589.97,776.63 L590.95,776.88 L591.93,777.13 L592.92,777.38 L593.92,777.63 L594.91,777.88 L595.91,778.13 L596.91,778.37 L597.92,778.62 L598.93,778.87 L599.94,779.11 L600.96,779.36 L601.97,779.61 L603.00,779.86 L604.02,780.11 L605.05,780.36 L606.08,780.62 L607.12,780.88 L608.15,781.15 L609.19,781.42 L610.22,781.70 L611.26,781.99 L612.30,782.28 L613.35,782.58 L614.39,782.88 L615.43,783.20 L616.48,783.52 L617.52,783.86 L618.57,784.20 L619.61,784.55 L620.66,784.92 L621.69,785.30 L622.71,785.71 L623.71,786.15 L624.68,786.61 L625.64,787.10 L626.59,787.60 L627.51,788.14 L628.41,788.69 L629.28,789.27 L630.14,789.86 L630.98,790.48 L631.79,791.12 L632.57,791.78 L633.32,792.47 L634.03,793.19 L634.71,793.92 L635.35,794.67 L635.96,795.45 L636.54,796.24 L637.09,797.05 L637.61,797.87 L638.09,798.71 L638.54,799.56 L638.96,800.43 L639.35,801.31 L639.72,802.19 L640.07,803.09 L640.42,803.98 L640.77,804.88 L641.12,805.77 L641.47,806.66 L641.82,807.56 L642.17,808.45 L642.52,809.34 L642.87,810.24 L643.22,811.13M576.46,772.95 L577.17,773.64 L577.88,774.33 L578.59,775.02 L579.30,775.72 L580.01,776.42 L580.72,777.12 L581.43,777.82 L582.14,778.53 L582.84,779.24 L583.55,779.95 L584.26,780.66 L584.97,781.37 L585.69,782.09 L586.40,782.81 L587.11,783.54 L587.82,784.26 L588.53,784.99 L589.24,785.73 L589.95,786.47 L590.67,787.21 L591.38,787.95 L592.10,788.70 L592.82,789.45 L593.54,790.21 L594.26,790.96 L594.98,791.72 L595.71,792.48 L596.44,793.24 L597.17,794.01 L597.91,794.77 L598.66,795.54 L599.40,796.30 L600.16,797.06 L600.92,797.82 L601.68,798.58 L602.46,799.33 L603.24,800.08 L604.02,800.83 L604.82,801.58 L605.62,802.32 L606.43,803.06 L607.25,803.79 L608.08,804.52 L608.92,805.24 L609.77,805.95 L610.63,806.62 L611.51,807.27 L612.40,807.89 L613.30,808.48 L614.21,809.04 L615.13,809.57 L616.06,810.07 L617.00,810.54 L617.95,810.99 L618.90,811.40 L619.86,811.79 L620.82,812.13 L621.79,812.43 L622.77,812.69 L623.74,812.91 L624.72,813.09 L625.69,813.24 L626.67,813.34 L627.64,813.41 L628.61,813.45 L629.58,813.45 L630.55,813.41 L631.51,813.34 L632.46,813.24 L633.41,813.11 L634.36,812.97 L635.31,812.83 L636.26,812.68 L637.21,812.54 L638.16,812.39 L639.11,812.25 L640.06,812.11 L641.01,811.96 L641.95,811.82 L642.90,811.68M585.95,759.88 L586.83,760.34 L587.71,760.80 L588.59,761.26 L589.47,761.72 L590.35,762.18 L591.24,762.64 L592.13,763.10 L593.02,763.55 L593.91,764.01 L594.80,764.46 L595.70,764.92 L596.60,765.37 L597.50,765.83 L598.41,766.28 L599.31,766.74 L600.23,767.19 L601.14,767.64 L602.06,768.09 L602.98,768.54 L603.91,768.99 L604.84,769.44 L605.77,769.89 L606.70,770.34 L607.64,770.79 L608.59,771.24 L609.53,771.69 L610.48,772.15 L611.43,772.61 L612.39,773.07 L613.34,773.54 L614.30,774.01 L615.25,774.49 L616.21,774.97 L617.17,775.46 L618.12,775.95 L619.08,776.45 L620.04,776.96 L620.99,777.48 L621.95,778.00 L622.90,778.54 L623.85,779.08 L624.81,779.63 L625.75,780.20 L626.70,780.77 L627.63,781.36 L628.54,781.98 L629.43,782.61 L630.29,783.27 L631.13,783.94 L631.94,784.63 L632.73,785.34 L633.50,786.07 L634.24,786.82 L634.95,787.58 L635.64,788.36 L636.30,789.15 L636.93,789.97 L637.52,790.79 L638.06,791.64 L638.57,792.50 L639.05,793.37 L639.49,794.25 L639.89,795.15 L640.26,796.05 L640.59,796.97 L640.89,797.89 L641.15,798.81 L641.38,799.75 L641.58,800.69 L641.75,801.63 L641.91,802.58 L642.07,803.53 L642.22,804.47 L642.38,805.42 L642.54,806.37 L642.69,807.32 L642.85,808.26 L643.01,809.21 L643.16,810.16 L643.32,811.10M585.95,759.88 L586.51,760.70 L587.06,761.52 L587.61,762.35 L588.16,763.18 L588.71,764.01 L589.26,764.84 L589.80,765.68 L590.35,766.51 L590.90,767.36 L591.44,768.20 L591.99,769.04 L592.54,769.89 L593.08,770.74 L593.63,771.59 L594.17,772.44 L594.72,773.30 L595.26,774.17 L595.80,775.03 L596.35,775.90 L596.89,776.78 L597.44,777.65 L597.98,778.53 L598.53,779.42 L599.07,780.31 L599.62,781.20 L600.17,782.09 L600.73,782.98 L601.28,783.88 L601.84,784.78 L602.40,785.68 L602.97,786.58 L603.55,787.49 L604.13,788.39 L604.71,789.29 L605.30,790.19 L605.90,791.09 L606.51,791.98 L607.12,792.88 L607.75,793.78 L608.38,794.67 L609.02,795.56 L609.67,796.45 L610.32,797.33 L610.99,798.21 L611.68,799.08 L612.39,799.92 L613.11,800.73 L613.85,801.52 L614.61,802.29 L615.38,803.02 L616.17,803.73 L616.98,804.42 L617.80,805.08 L618.63,805.71 L619.48,806.31 L620.33,806.89 L621.21,807.43 L622.09,807.92 L622.99,808.38 L623.90,808.80 L624.82,809.18 L625.74,809.52 L626.67,809.83 L627.61,810.10 L628.55,810.33 L629.50,810.53 L630.45,810.70 L631.40,810.83 L632.36,810.93 L633.32,811.00 L634.27,811.06 L635.23,811.12 L636.19,811.17 L637.15,811.23 L638.11,811.29 L639.07,811.34 L640.02,811.40 L640.98,811.46 L641.94,811.51 L642.90,811.57M597.96,749.06 L598.72,749.70 L599.49,750.33 L600.25,750.97 L601.02,751.60 L601.79,752.23 L602.56,752.86 L603.33,753.50 L604.11,754.13 L604.89,754.76 L605.67,755.39 L606.45,756.02 L607.23,756.65 L608.02,757.29 L608.81,757.92 L609.60,758.55 L610.40,759.18 L611.20,759.81 L612.01,760.44 L612.82,761.07 L613.63,761.71 L614.45,762.34 L615.26,762.97 L616.09,763.61 L616.91,764.24 L617.74,764.88 L618.57,765.52 L619.40,766.17 L620.24,766.81 L621.07,767.46 L621.91,768.12 L622.75,768.78 L623.58,769.44 L624.42,770.12 L625.25,770.79 L626.09,771.47 L626.92,772.16 L627.75,772.86 L628.58,773.57 L629.40,774.28 L630.22,775.00 L631.04,775.73 L631.86,776.47 L632.67,777.21 L633.48,777.97 L634.26,778.75 L635.03,779.53 L635.76,780.34 L636.47,781.16 L637.15,781.99 L637.80,782.84 L638.42,783.70 L639.02,784.57 L639.59,785.45 L640.13,786.35 L640.64,787.25 L641.13,788.17 L641.57,789.09 L641.97,790.03 L642.33,790.97 L642.65,791.91 L642.93,792.86 L643.18,793.82 L643.39,794.78 L643.56,795.74 L643.69,796.70 L643.79,797.66 L643.86,798.63 L643.89,799.59 L643.89,800.55 L643.86,801.51 L643.82,802.47 L643.77,803.43 L643.73,804.39 L643.69,805.34 L643.64,806.30 L643.60,807.26 L643.55,808.22 L643.51,809.18 L643.47,810.14 L643.42,811.10M597.96,749.06 L598.33,749.98 L598.70,750.90 L599.07,751.82 L599.43,752.75 L599.80,753.68 L600.16,754.61 L600.52,755.54 L600.88,756.47 L601.24,757.41 L601.60,758.34 L601.96,759.28 L602.32,760.22 L602.68,761.17 L603.03,762.11 L603.39,763.07 L603.74,764.02 L604.10,764.98 L604.45,765.94 L604.80,766.90 L605.15,767.87 L605.50,768.84 L605.85,769.81 L606.20,770.79 L606.55,771.77 L606.90,772.76 L607.25,773.75 L607.61,774.74 L607.96,775.73 L608.32,776.73 L608.69,777.73 L609.06,778.73 L609.43,779.73 L609.81,780.73 L610.20,781.73 L610.59,782.74 L610.99,783.74 L611.39,784.74 L611.81,785.75 L612.23,786.75 L612.66,787.76 L613.10,788.76 L613.55,789.77 L614.01,790.77 L614.49,791.77 L614.98,792.76 L615.49,793.73 L616.03,794.67 L616.59,795.60 L617.17,796.50 L617.78,797.39 L618.40,798.25 L619.05,799.08 L619.71,799.90 L620.40,800.69 L621.10,801.46 L621.82,802.20 L622.56,802.90 L623.32,803.57 L624.11,804.21 L624.91,804.80 L625.73,805.37 L626.56,805.89 L627.41,806.39 L628.27,806.85 L629.14,807.27 L630.02,807.67 L630.92,808.03 L631.82,808.35 L632.74,808.65 L633.66,808.92 L634.59,809.18 L635.51,809.43 L636.44,809.68 L637.36,809.94 L638.29,810.19 L639.21,810.45 L640.14,810.70 L641.06,810.96 L641.99,811.21 L642.92,811.47M611.96,740.98 L612.57,741.76 L613.18,742.54 L613.80,743.32 L614.42,744.10 L615.04,744.88 L615.66,745.66 L616.29,746.44 L616.91,747.21 L617.54,747.99 L618.18,748.77 L618.81,749.55 L619.45,750.34 L620.09,751.12 L620.73,751.90 L621.37,752.68 L622.02,753.47 L622.68,754.25 L623.33,755.03 L623.99,755.82 L624.65,756.61 L625.32,757.40 L625.99,758.19 L626.66,758.98 L627.33,759.77 L628.01,760.57 L628.69,761.37 L629.37,762.17 L630.05,762.98 L630.74,763.79 L631.42,764.60 L632.10,765.42 L632.78,766.25 L633.46,767.08 L634.13,767.91 L634.81,768.75 L635.48,769.60 L636.14,770.45 L636.81,771.31 L637.47,772.18 L638.12,773.06 L638.77,773.94 L639.41,774.83 L640.05,775.73 L640.68,776.64 L641.29,777.56 L641.88,778.49 L642.43,779.43 L642.95,780.38 L643.44,781.34 L643.90,782.30 L644.33,783.27 L644.74,784.25 L645.11,785.23 L645.45,786.22 L645.77,787.21 L646.05,788.21 L646.29,789.20 L646.49,790.20 L646.64,791.19 L646.76,792.19 L646.84,793.18 L646.88,794.16 L646.88,795.14 L646.85,796.12 L646.78,797.09 L646.68,798.05 L646.54,799.01 L646.38,799.95 L646.18,800.89 L645.95,801.83 L645.71,802.75 L645.47,803.68 L645.22,804.61 L644.98,805.54 L644.74,806.47 L644.50,807.40 L644.25,808.33 L644.01,809.26 L643.77,810.19 L643.53,811.11M611.96,740.98 L612.13,741.96 L612.30,742.94 L612.47,743.91 L612.63,744.89 L612.79,745.88 L612.96,746.86 L613.12,747.85 L613.27,748.84 L613.43,749.83 L613.59,750.82 L613.74,751.81 L613.90,752.81 L614.05,753.80 L614.21,754.80 L614.35,755.81 L614.50,756.81 L614.65,757.82 L614.79,758.84 L614.93,759.85 L615.08,760.87 L615.22,761.89 L615.36,762.92 L615.50,763.95 L615.63,764.98 L615.77,766.02 L615.91,767.06 L616.05,768.10 L616.20,769.15 L616.34,770.20 L616.49,771.25 L616.64,772.30 L616.80,773.36 L616.96,774.42 L617.13,775.48 L617.31,776.54 L617.49,777.61 L617.68,778.68 L617.87,779.75 L618.08,780.82 L618.29,781.89 L618.51,782.96 L618.74,784.04 L618.99,785.11 L619.24,786.19 L619.52,787.26 L619.82,788.31 L620.15,789.35 L620.50,790.38 L620.89,791.38 L621.29,792.37 L621.73,793.34 L622.18,794.29 L622.66,795.23 L623.17,796.14 L623.69,797.04 L624.24,797.92 L624.82,798.76 L625.43,799.57 L626.07,800.36 L626.73,801.11 L627.41,801.83 L628.11,802.52 L628.84,803.18 L629.59,803.81 L630.35,804.40 L631.13,804.97 L631.94,805.51 L632.75,806.02 L633.58,806.50 L634.43,806.95 L635.28,807.40 L636.13,807.84 L636.99,808.28 L637.84,808.72 L638.69,809.16 L639.54,809.60 L640.40,810.04 L641.25,810.49 L642.10,810.93 L642.95,811.37M627.33,735.99 L627.76,736.88 L628.20,737.77 L628.64,738.66 L629.08,739.55 L629.53,740.44 L629.98,741.33 L630.43,742.22 L630.88,743.11 L631.33,744.01 L631.79,744.90 L632.25,745.80 L632.71,746.69 L633.17,747.59 L633.64,748.49 L634.10,749.39 L634.58,750.29 L635.05,751.19 L635.53,752.10 L636.01,753.00 L636.50,753.91 L636.98,754.82 L637.47,755.73 L637.97,756.65 L638.46,757.56 L638.96,758.48 L639.46,759.41 L639.95,760.33 L640.46,761.27 L640.96,762.20 L641.45,763.14 L641.95,764.08 L642.44,765.03 L642.93,765.98 L643.42,766.94 L643.90,767.90 L644.38,768.87 L644.86,769.84 L645.33,770.82 L645.79,771.81 L646.25,772.80 L646.70,773.80 L647.15,774.81 L647.58,775.82 L648.01,776.84 L648.42,777.87 L648.79,778.90 L649.14,779.93 L649.45,780.97 L649.73,782.01 L649.98,783.05 L650.20,784.09 L650.39,785.13 L650.55,786.17 L650.68,787.20 L650.78,788.24 L650.85,789.27 L650.88,790.29 L650.87,791.31 L650.81,792.31 L650.72,793.31 L650.59,794.29 L650.43,795.27 L650.23,796.23 L650.00,797.17 L649.73,798.11 L649.43,799.03 L649.09,799.93 L648.73,800.83 L648.34,801.70 L647.93,802.57 L647.50,803.43 L647.07,804.29 L646.64,805.14 L646.21,806.00 L645.78,806.86 L645.35,807.72 L644.92,808.58 L644.49,809.43 L644.06,810.29 L643.62,811.15M627.33,735.99 L627.29,736.98 L627.25,737.97 L627.21,738.96 L627.17,739.95 L627.13,740.95 L627.08,741.95 L627.03,742.94 L626.98,743.94 L626.93,744.94 L626.88,745.95 L626.82,746.95 L626.77,747.96 L626.71,748.96 L626.65,749.98 L626.59,750.99 L626.52,752.00 L626.46,753.02 L626.39,754.04 L626.32,755.06 L626.24,756.09 L626.17,757.12 L626.09,758.15 L626.01,759.19 L625.93,760.23 L625.85,761.27 L625.78,762.32 L625.70,763.37 L625.62,764.42 L625.54,765.48 L625.47,766.54 L625.40,767.60 L625.33,768.67 L625.27,769.74 L625.22,770.81 L625.17,771.89 L625.12,772.96 L625.08,774.05 L625.05,775.13 L625.03,776.22 L625.02,777.32 L625.01,778.41 L625.01,779.51 L625.03,780.62 L625.05,781.72 L625.10,782.83 L625.17,783.92 L625.28,785.00 L625.42,786.08 L625.58,787.14 L625.77,788.19 L626.00,789.23 L626.24,790.26 L626.52,791.27 L626.82,792.27 L627.15,793.26 L627.51,794.23 L627.90,795.18 L628.32,796.10 L628.78,797.00 L629.27,797.87 L629.79,798.72 L630.34,799.54 L630.91,800.33 L631.51,801.10 L632.13,801.85 L632.78,802.57 L633.45,803.26 L634.15,803.93 L634.86,804.57 L635.59,805.19 L636.33,805.80 L637.08,806.41 L637.82,807.02 L638.56,807.63 L639.30,808.24 L640.04,808.85 L640.79,809.45 L641.53,810.06 L642.27,810.67 L643.01,811.28"/><path d="M655.60,789.25 L655.48,790.28 L655.33,791.31 L655.15,792.32 L654.92,793.31 L654.66,794.28 L654.37,795.23 L654.03,796.17 L653.67,797.08 L653.28,797.98 L652.85,798.86 L652.39,799.72 L651.91,800.56 L651.40,801.37 L650.86,802.17 L650.29,802.95 L649.71,803.71 L649.11,804.46 L648.51,805.21 L647.91,805.96 L647.31,806.71 L646.71,807.46 L646.11,808.21 L645.51,808.96 L644.91,809.71 L644.31,810.46 L643.71,811.21M631.20,789.25 L631.32,790.28 L631.47,791.31 L631.65,792.32 L631.88,793.31 L632.14,794.28 L632.43,795.23 L632.77,796.17 L633.13,797.08 L633.52,797.98 L633.95,798.86 L634.41,799.72 L634.89,800.56 L635.40,801.37 L635.94,802.17 L636.51,802.95 L637.09,803.71 L637.69,804.46 L638.29,805.21 L638.89,805.96 L639.49,806.71 L640.09,807.46 L640.69,808.21 L641.29,808.96 L641.89,809.71 L642.49,810.46 L643.09,811.21M659.98,792.27 L659.65,793.26 L659.29,794.23 L658.90,795.18 L658.48,796.10 L658.02,797.00 L657.53,797.87 L657.01,798.72 L656.46,799.54 L655.89,800.33 L655.29,801.10 L654.67,801.85 L654.02,802.57 L653.35,803.26 L652.65,803.93 L651.94,804.57 L651.21,805.19 L650.47,805.80 L649.72,806.41 L648.98,807.02 L648.24,807.63 L647.50,808.24 L646.76,808.85 L646.01,809.45 L645.27,810.06 L644.53,810.67 L643.79,811.28M636.12,787.20 L636.02,788.24 L635.95,789.27 L635.92,790.29 L635.93,791.31 L635.99,792.31 L636.08,793.31 L636.21,794.29 L636.37,795.27 L636.57,796.23 L636.80,797.17 L637.07,798.11 L637.37,799.03 L637.71,799.93 L638.07,800.83 L638.46,801.70 L638.87,802.57 L639.30,803.43 L639.73,804.29 L640.16,805.14 L640.59,806.00 L641.02,806.86 L641.45,807.72 L641.88,808.58 L642.31,809.43 L642.74,810.29 L643.18,811.15M663.63,796.14 L663.11,797.04 L662.56,797.92 L661.98,798.76 L661.37,799.57 L660.73,800.36 L660.07,801.11 L659.39,801.83 L658.69,802.52 L657.96,803.18 L657.21,803.81 L656.45,804.40 L655.67,804.97 L654.86,805.51 L654.05,806.02 L653.22,806.50 L652.37,806.95 L651.52,807.40 L650.67,807.84 L649.81,808.28 L648.96,808.72 L648.11,809.16 L647.26,809.60 L646.40,810.04 L645.55,810.49 L644.70,810.93 L643.85,811.37M641.35,786.22 L641.03,787.21 L640.75,788.21 L640.51,789.20 L640.31,790.20 L640.16,791.19 L640.04,792.19 L639.96,793.18 L639.92,794.16 L639.92,795.14 L639.95,796.12 L640.02,797.09 L640.12,798.05 L640.26,799.01 L640.42,799.95 L640.62,800.89 L640.85,801.83 L641.09,802.75 L641.33,803.68 L641.58,804.61 L641.82,805.54 L642.06,806.47 L642.30,807.40 L642.55,808.33 L642.79,809.26 L643.03,810.19 L643.27,811.11M666.40,800.69 L665.70,801.46 L664.98,802.20 L664.24,802.90 L663.48,803.57 L662.69,804.21 L661.89,804.80 L661.07,805.37 L660.24,805.89 L659.39,806.39 L658.53,806.85 L657.66,807.27 L656.78,807.67 L655.88,808.03 L654.98,808.35 L654.06,808.65 L653.14,808.92 L652.21,809.18 L651.29,809.43 L650.36,809.68 L649.44,809.94 L648.51,810.19 L647.59,810.45 L646.66,810.70 L645.74,810.96 L644.81,811.21 L643.88,811.47M646.67,786.35 L646.16,787.25 L645.67,788.17 L645.23,789.09 L644.83,790.03 L644.47,790.97 L644.15,791.91 L643.87,792.86 L643.62,793.82 L643.41,794.78 L643.24,795.74 L643.11,796.70 L643.01,797.66 L642.94,798.63 L642.91,799.59 L642.91,800.55 L642.94,801.51 L642.98,802.47 L643.03,803.43 L643.07,804.39 L643.11,805.34 L643.16,806.30 L643.20,807.26 L643.25,808.22 L643.29,809.18 L643.33,810.14 L643.38,811.10M668.17,805.71 L667.32,806.31 L666.47,806.89 L665.59,807.43 L664.71,807.92 L663.81,808.38 L662.90,808.80 L661.98,809.18 L661.06,809.52 L660.13,809.83 L659.19,810.10 L658.25,810.33 L657.30,810.53 L656.35,810.70 L655.40,810.83 L654.44,810.93 L653.48,811.00 L652.53,811.06 L651.57,811.12 L650.61,811.17 L649.65,811.23 L648.69,811.29 L647.73,811.34 L646.78,811.40 L645.82,811.46 L644.86,811.51 L643.90,811.57M651.85,787.58 L651.16,788.36 L650.50,789.15 L649.87,789.97 L649.28,790.79 L648.74,791.64 L648.23,792.50 L647.75,793.37 L647.31,794.25 L646.91,795.15 L646.54,796.05 L646.21,796.97 L645.91,797.89 L645.65,798.81 L645.42,799.75 L645.22,800.69 L645.05,801.63 L644.89,802.58 L644.73,803.53 L644.58,804.47 L644.42,805.42 L644.26,806.37 L644.11,807.32 L643.95,808.26 L643.79,809.21 L643.64,810.16 L643.48,811.10M668.85,810.99 L667.90,811.40 L666.94,811.79 L665.98,812.13 L665.01,812.43 L664.03,812.69 L663.06,812.91 L662.08,813.09 L661.11,813.24 L660.13,813.34 L659.16,813.41 L658.19,813.45 L657.22,813.45 L656.25,813.41 L655.29,813.34 L654.34,813.24 L653.39,813.11 L652.44,812.97 L651.49,812.83 L650.54,812.68 L649.59,812.54 L648.64,812.39 L647.69,812.25 L646.74,812.11 L645.79,811.96 L644.85,811.82 L643.90,811.68M656.66,789.86 L655.82,790.48 L655.01,791.12 L654.23,791.78 L653.48,792.47 L652.77,793.19 L652.09,793.92 L651.45,794.67 L650.84,795.45 L650.26,796.24 L649.71,797.05 L649.19,797.87 L648.71,798.71 L648.26,799.56 L647.84,800.43 L647.45,801.31 L647.08,802.19 L646.73,803.09 L646.38,803.98 L646.03,804.88 L645.68,805.77 L645.33,806.66 L644.98,807.56 L644.63,808.45 L644.28,809.34 L643.93,810.24 L643.58,811.13M668.42,816.29 L667.41,816.50 L666.39,816.68 L665.37,816.81 L664.36,816.91 L663.35,816.96 L662.36,816.97 L661.36,816.95 L660.38,816.88 L659.40,816.78 L658.44,816.65 L657.48,816.48 L656.53,816.28 L655.60,816.04 L654.67,815.78 L653.76,815.48 L652.85,815.16 L651.96,814.82 L651.06,814.48 L650.16,814.14 L649.26,813.81 L648.36,813.47 L647.46,813.13 L646.57,812.79 L645.67,812.45 L644.77,812.11 L643.87,811.78M660.89,793.09 L659.94,793.52 L659.01,793.98 L658.11,794.47 L657.24,794.99 L656.39,795.54 L655.58,796.11 L654.79,796.72 L654.03,797.35 L653.30,798.00 L652.60,798.68 L651.92,799.37 L651.27,800.09 L650.66,800.84 L650.06,801.59 L649.50,802.37 L648.96,803.16 L648.43,803.97 L647.90,804.77 L647.37,805.57 L646.85,806.37 L646.32,807.17 L645.79,807.97 L645.26,808.78 L644.73,809.58 L644.20,810.38 L643.68,811.18M666.90,821.39 L665.86,821.39 L664.83,821.35 L663.81,821.27 L662.80,821.15 L661.80,820.99 L660.82,820.79 L659.86,820.56 L658.91,820.30 L657.98,820.00 L657.06,819.67 L656.16,819.30 L655.27,818.91 L654.41,818.48 L653.56,818.03 L652.73,817.55 L651.91,817.05 L651.10,816.53 L650.29,816.01 L649.48,815.49 L648.67,814.98 L647.87,814.46 L647.06,813.94 L646.25,813.42 L645.44,812.91 L644.63,812.39 L643.82,811.87M664.35,797.13 L663.34,797.36 L662.33,797.61 L661.35,797.90 L660.39,798.23 L659.45,798.59 L658.53,798.98 L657.64,799.41 L656.76,799.87 L655.91,800.36 L655.08,800.87 L654.28,801.41 L653.49,801.98 L652.74,802.58 L652.00,803.20 L651.28,803.84 L650.59,804.50 L649.91,805.18 L649.22,805.85 L648.54,806.53 L647.86,807.20 L647.17,807.88 L646.49,808.55 L645.81,809.22 L645.12,809.90 L644.44,810.57 L643.76,811.25M664.35,826.07 L663.34,825.84 L662.33,825.59 L661.35,825.30 L660.39,824.97 L659.45,824.61 L658.53,824.22 L657.64,823.79 L656.76,823.33 L655.91,822.84 L655.08,822.33 L654.28,821.79 L653.49,821.22 L652.74,820.62 L652.00,820.00 L651.28,819.36 L650.59,818.70 L649.91,818.02 L649.22,817.35 L648.54,816.67 L647.86,816.00 L647.17,815.32 L646.49,814.65 L645.81,813.98 L645.12,813.30 L644.44,812.63 L643.76,811.95M666.90,801.81 L665.86,801.81 L664.83,801.85 L663.81,801.93 L662.80,802.05 L661.80,802.21 L660.82,802.41 L659.86,802.64 L658.91,802.90 L657.98,803.20 L657.06,803.53 L656.16,803.90 L655.27,804.29 L654.41,804.72 L653.56,805.17 L652.73,805.65 L651.91,806.15 L651.10,806.67 L650.29,807.19 L649.48,807.71 L648.67,808.22 L647.87,808.74 L647.06,809.26 L646.25,809.78 L645.44,810.29 L644.63,810.81 L643.82,811.33M660.89,830.11 L659.94,829.68 L659.01,829.22 L658.11,828.73 L657.24,828.21 L656.39,827.66 L655.58,827.09 L654.79,826.48 L654.03,825.85 L653.30,825.20 L652.60,824.52 L651.92,823.83 L651.27,823.11 L650.66,822.36 L650.06,821.61 L649.50,820.83 L648.96,820.04 L648.43,819.23 L647.90,818.43 L647.37,817.63 L646.85,816.83 L646.32,816.03 L645.79,815.23 L645.26,814.42 L644.73,813.62 L644.20,812.82 L643.68,812.02M668.42,806.91 L667.41,806.70 L666.39,806.52 L665.37,806.39 L664.36,806.29 L663.35,806.24 L662.36,806.23 L661.36,806.25 L660.38,806.32 L659.40,806.42 L658.44,806.55 L657.48,806.72 L656.53,806.92 L655.60,807.16 L654.67,807.42 L653.76,807.72 L652.85,808.04 L651.96,808.38 L651.06,808.72 L650.16,809.06 L649.26,809.39 L648.36,809.73 L647.46,810.07 L646.57,810.41 L645.67,810.75 L644.77,811.09 L643.87,811.42M656.66,833.34 L655.82,832.72 L655.01,832.08 L654.23,831.42 L653.48,830.73 L652.77,830.01 L652.09,829.28 L651.45,828.53 L650.84,827.75 L650.26,826.96 L649.71,826.15 L649.19,825.33 L648.71,824.49 L648.26,823.64 L647.84,822.77 L647.45,821.89 L647.08,821.01 L646.73,820.11 L646.38,819.22 L646.03,818.32 L645.68,817.43 L645.33,816.54 L644.98,815.64 L644.63,814.75 L644.28,813.86 L643.93,812.96 L643.58,812.07M668.85,812.21 L667.90,811.80 L666.94,811.41 L665.98,811.07 L665.01,810.77 L664.03,810.51 L663.06,810.29 L662.08,810.11 L661.11,809.96 L660.13,809.86 L659.16,809.79 L658.19,809.75 L657.22,809.75 L656.25,809.79 L655.29,809.86 L654.34,809.96 L653.39,810.09 L652.44,810.23 L651.49,810.37 L650.54,810.52 L649.59,810.66 L648.64,810.81 L647.69,810.95 L646.74,811.09 L645.79,811.24 L644.85,811.38 L643.90,811.52M651.85,835.62 L651.16,834.84 L650.50,834.05 L649.87,833.23 L649.28,832.41 L648.74,831.56 L648.23,830.70 L647.75,829.83 L647.31,828.95 L646.91,828.05 L646.54,827.15 L646.21,826.23 L645.91,825.31 L645.65,824.39 L645.42,823.45 L645.22,822.51 L645.05,821.57 L644.89,820.62 L644.73,819.67 L644.58,818.73 L644.42,817.78 L644.26,816.83 L644.11,815.88 L643.95,814.94 L643.79,813.99 L643.64,813.04 L643.48,812.10M668.17,817.49 L667.32,816.89 L666.47,816.31 L665.59,815.77 L664.71,815.28 L663.81,814.82 L662.90,814.40 L661.98,814.02 L661.06,813.68 L660.13,813.37 L659.19,813.10 L658.25,812.87 L657.30,812.67 L656.35,812.50 L655.40,812.37 L654.44,812.27 L653.48,812.20 L652.53,812.14 L651.57,812.08 L650.61,812.03 L649.65,811.97 L648.69,811.91 L647.73,811.86 L646.78,811.80 L645.82,811.74 L644.86,811.69 L643.90,811.63M646.67,836.85 L646.16,835.95 L645.67,835.03 L645.23,834.11 L644.83,833.17 L644.47,832.23 L644.15,831.29 L643.87,830.34 L643.62,829.38 L643.41,828.42 L643.24,827.46 L643.11,826.50 L643.01,825.54 L642.94,824.57 L642.91,823.61 L642.91,822.65 L642.94,821.69 L642.98,820.73 L643.03,819.77 L643.07,818.81 L643.11,817.86 L643.16,816.90 L643.20,815.94 L643.25,814.98 L643.29,814.02 L643.33,813.06 L643.38,812.10M666.40,822.51 L665.70,821.74 L664.98,821.00 L664.24,820.30 L663.48,819.63 L662.69,818.99 L661.89,818.40 L661.07,817.83 L660.24,817.31 L659.39,816.81 L658.53,816.35 L657.66,815.93 L656.78,815.53 L655.88,815.17 L654.98,814.85 L654.06,814.55 L653.14,814.28 L652.21,814.02 L651.29,813.77 L650.36,813.52 L649.44,813.26 L648.51,813.01 L647.59,812.75 L646.66,812.50 L645.74,812.24 L644.81,811.99 L643.88,811.73M641.35,836.98 L641.03,835.99 L640.75,834.99 L640.51,834.00 L640.31,833.00 L640.16,832.01 L640.04,831.01 L639.96,830.02 L639.92,829.04 L639.92,828.06 L639.95,827.08 L640.02,826.11 L640.12,825.15 L640.26,824.19 L640.42,823.25 L640.62,822.31 L640.85,821.37 L641.09,820.45 L641.33,819.52 L641.58,818.59 L641.82,817.66 L642.06,816.73 L642.30,815.80 L642.55,814.87 L642.79,813.94 L643.03,813.01 L643.27,812.09M663.63,827.06 L663.11,826.16 L662.56,825.28 L661.98,824.44 L661.37,823.63 L660.73,822.84 L660.07,822.09 L659.39,821.37 L658.69,820.68 L657.96,820.02 L657.21,819.39 L656.45,818.80 L655.67,818.23 L654.86,817.69 L654.05,817.18 L653.22,816.70 L652.37,816.25 L651.52,815.80 L650.67,815.36 L649.81,814.92 L648.96,814.48 L648.11,814.04 L647.26,813.60 L646.40,813.16 L645.55,812.71 L644.70,812.27 L643.85,811.83M636.12,836.00 L636.02,834.96 L635.95,833.93 L635.92,832.91 L635.93,831.89 L635.99,830.89 L636.08,829.89 L636.21,828.91 L636.37,827.93 L636.57,826.97 L636.80,826.03 L637.07,825.09 L637.37,824.17 L637.71,823.27 L638.07,822.37 L638.46,821.50 L638.87,820.63 L639.30,819.77 L639.73,818.91 L640.16,818.06 L640.59,817.20 L641.02,816.34 L641.45,815.48 L641.88,814.62 L642.31,813.77 L642.74,812.91 L643.18,812.05M659.98,830.93 L659.65,829.94 L659.29,828.97 L658.90,828.02 L658.48,827.10 L658.02,826.20 L657.53,825.33 L657.01,824.48 L656.46,823.66 L655.89,822.87 L655.29,822.10 L654.67,821.35 L654.02,820.63 L653.35,819.94 L652.65,819.27 L651.94,818.63 L651.21,818.01 L650.47,817.40 L649.72,816.79 L648.98,816.18 L648.24,815.57 L647.50,814.96 L646.76,814.35 L646.01,813.75 L645.27,813.14 L644.53,812.53 L643.79,811.92M631.20,833.95 L631.32,832.92 L631.47,831.89 L631.65,830.88 L631.88,829.89 L632.14,828.92 L632.43,827.97 L632.77,827.03 L633.13,826.12 L633.52,825.22 L633.95,824.34 L634.41,823.48 L634.89,822.64 L635.40,821.83 L635.94,821.03 L636.51,820.25 L637.09,819.49 L637.69,818.74 L638.29,817.99 L638.89,817.24 L639.49,816.49 L640.09,815.74 L640.69,814.99 L641.29,814.24 L641.89,813.49 L642.49,812.74 L643.09,811.99M655.60,833.95 L655.48,832.92 L655.33,831.89 L655.15,830.88 L654.92,829.89 L654.66,828.92 L654.37,827.97 L654.03,827.03 L653.67,826.12 L653.28,825.22 L652.85,824.34 L652.39,823.48 L651.91,822.64 L651.40,821.83 L650.86,821.03 L650.29,820.25 L649.71,819.49 L649.11,818.74 L648.51,817.99 L647.91,817.24 L647.31,816.49 L646.71,815.74 L646.11,814.99 L645.51,814.24 L644.91,813.49 L644.31,812.74 L643.71,811.99M626.82,830.93 L627.15,829.94 L627.51,828.97 L627.90,828.02 L628.32,827.10 L628.78,826.20 L629.27,825.33 L629.79,824.48 L630.34,823.66 L630.91,822.87 L631.51,822.10 L632.13,821.35 L632.78,820.63 L633.45,819.94 L634.15,819.27 L634.86,818.63 L635.59,818.01 L636.33,817.40 L637.08,816.79 L637.82,816.18 L638.56,815.57 L639.30,814.96 L640.04,814.35 L640.79,813.75 L641.53,813.14 L642.27,812.53 L643.01,811.92M650.68,836.00 L650.78,834.96 L650.85,833.93 L650.88,832.91 L650.87,831.89 L650.81,830.89 L650.72,829.89 L650.59,828.91 L650.43,827.93 L650.23,826.97 L650.00,826.03 L649.73,825.09 L649.43,824.17 L649.09,823.27 L648.73,822.37 L648.34,821.50 L647.93,820.63 L647.50,819.77 L647.07,818.91 L646.64,818.06 L646.21,817.20 L645.78,816.34 L645.35,815.48 L644.92,814.62 L644.49,813.77 L644.06,812.91 L643.62,812.05M623.17,827.06 L623.69,826.16 L624.24,825.28 L624.82,824.44 L625.43,823.63 L626.07,822.84 L626.73,822.09 L627.41,821.37 L628.11,820.68 L628.84,820.02 L629.59,819.39 L630.35,818.80 L631.13,818.23 L631.94,817.69 L632.75,817.18 L633.58,816.70 L634.43,816.25 L635.28,815.80 L636.13,815.36 L636.99,814.92 L637.84,814.48 L638.69,814.04 L639.54,813.60 L640.40,813.16 L641.25,812.71 L642.10,812.27 L642.95,811.83M645.45,836.98 L645.77,835.99 L646.05,834.99 L646.29,834.00 L646.49,833.00 L646.64,832.01 L646.76,831.01 L646.84,830.02 L646.88,829.04 L646.88,828.06 L646.85,827.08 L646.78,826.11 L646.68,825.15 L646.54,824.19 L646.38,823.25 L646.18,822.31 L645.95,821.37 L645.71,820.45 L645.47,819.52 L645.22,818.59 L644.98,817.66 L644.74,816.73 L644.50,815.80 L644.25,814.87 L644.01,813.94 L643.77,813.01 L643.53,812.09M620.40,822.51 L621.10,821.74 L621.82,821.00 L622.56,820.30 L623.32,819.63 L624.11,818.99 L624.91,818.40 L625.73,817.83 L626.56,817.31 L627.41,816.81 L628.27,816.35 L629.14,815.93 L630.02,815.53 L630.92,815.17 L631.82,814.85 L632.74,814.55 L633.66,814.28 L634.59,814.02 L635.51,813.77 L636.44,813.52 L637.36,813.26 L638.29,813.01 L639.21,812.75 L640.14,812.50 L641.06,812.24 L641.99,811.99 L642.92,811.73M640.13,836.85 L640.64,835.95 L641.13,835.03 L641.57,834.11 L641.97,833.17 L642.33,832.23 L642.65,831.29 L642.93,830.34 L643.18,829.38 L643.39,828.42 L643.56,827.46 L643.69,826.50 L643.79,825.54 L643.86,824.57 L643.89,823.61 L643.89,822.65 L643.86,821.69 L643.82,820.73 L643.77,819.77 L643.73,818.81 L643.69,817.86 L643.64,816.90 L643.60,815.94 L643.55,814.98 L643.51,814.02 L643.47,813.06 L643.42,812.10M618.63,817.49 L619.48,816.89 L620.33,816.31 L621.21,815.77 L622.09,815.28 L622.99,814.82 L623.90,814.40 L624.82,814.02 L625.74,813.68 L626.67,813.37 L627.61,813.10 L628.55,812.87 L629.50,812.67 L630.45,812.50 L631.40,812.37 L632.36,812.27 L633.32,812.20 L634.27,812.14 L635.23,812.08 L636.19,812.03 L637.15,811.97 L638.11,811.91 L639.07,811.86 L640.02,811.80 L640.98,811.74 L641.94,811.69 L642.90,811.63M634.95,835.62 L635.64,834.84 L636.30,834.05 L636.93,833.23 L637.52,832.41 L638.06,831.56 L638.57,830.70 L639.05,829.83 L639.49,828.95 L639.89,828.05 L640.26,827.15 L640.59,826.23 L640.89,825.31 L641.15,824.39 L641.38,823.45 L641.58,822.51 L641.75,821.57 L641.91,820.62 L642.07,819.67 L642.22,818.73 L642.38,817.78 L642.54,816.83 L642.69,815.88 L642.85,814.94 L643.01,813.99 L643.16,813.04 L643.32,812.10M617.95,812.21 L618.90,811.80 L619.86,811.41 L620.82,811.07 L621.79,810.77 L622.77,810.51 L623.74,810.29 L624.72,810.11 L625.69,809.96 L626.67,809.86 L627.64,809.79 L628.61,809.75 L629.58,809.75 L630.55,809.79 L631.51,809.86 L632.46,809.96 L633.41,810.09 L634.36,810.23 L635.31,810.37 L636.26,810.52 L637.21,810.66 L638.16,810.81 L639.11,810.95 L640.06,811.09 L641.01,811.24 L641.95,811.38 L642.90,811.52M630.14,833.34 L630.98,832.72 L631.79,832.08 L632.57,831.42 L633.32,830.73 L634.03,830.01 L634.71,829.28 L635.35,828.53 L635.96,827.75 L636.54,826.96 L637.09,826.15 L637.61,825.33 L638.09,824.49 L638.54,823.64 L638.96,822.77 L639.35,821.89 L639.72,821.01 L640.07,820.11 L640.42,819.22 L640.77,818.32 L641.12,817.43 L641.47,816.54 L641.82,815.64 L642.17,814.75 L642.52,813.86 L642.87,812.96 L643.22,812.07M618.38,806.91 L619.39,806.70 L620.41,806.52 L621.43,806.39 L622.44,806.29 L623.45,806.24 L624.44,806.23 L625.44,806.25 L626.42,806.32 L627.40,806.42 L628.36,806.55 L629.32,806.72 L630.27,806.92 L631.20,807.16 L632.13,807.42 L633.04,807.72 L633.95,808.04 L634.84,808.38 L635.74,808.72 L636.64,809.06 L637.54,809.39 L638.44,809.73 L639.34,810.07 L640.23,810.41 L641.13,810.75 L642.03,811.09 L642.93,811.42M625.91,830.11 L626.86,829.68 L627.79,829.22 L628.69,828.73 L629.56,828.21 L630.41,827.66 L631.22,827.09 L632.01,826.48 L632.77,825.85 L633.50,825.20 L634.20,824.52 L634.88,823.83 L635.53,823.11 L636.14,822.36 L636.74,821.61 L637.30,820.83 L637.84,820.04 L638.37,819.23 L638.90,818.43 L639.43,817.63 L639.95,816.83 L640.48,816.03 L641.01,815.23 L641.54,814.42 L642.07,813.62 L642.60,812.82 L643.12,812.02M619.90,801.81 L620.94,801.81 L621.97,801.85 L622.99,801.93 L624.00,802.05 L625.00,802.21 L625.98,802.41 L626.94,802.64 L627.89,802.90 L628.82,803.20 L629.74,803.53 L630.64,803.90 L631.53,804.29 L632.39,804.72 L633.24,805.17 L634.07,805.65 L634.89,806.15 L635.70,806.67 L636.51,807.19 L637.32,807.71 L638.13,808.22 L638.93,808.74 L639.74,809.26 L640.55,809.78 L641.36,810.29 L642.17,810.81 L642.98,811.33M622.45,826.07 L623.46,825.84 L624.47,825.59 L625.45,825.30 L626.41,824.97 L627.35,824.61 L628.27,824.22 L629.16,823.79 L630.04,823.33 L630.89,822.84 L631.72,822.33 L632.52,821.79 L633.31,821.22 L634.06,820.62 L634.80,820.00 L635.52,819.36 L636.21,818.70 L636.89,818.02 L637.58,817.35 L638.26,816.67 L638.94,816.00 L639.63,815.32 L640.31,814.65 L640.99,813.98 L641.68,813.30 L642.36,812.63 L643.04,811.95M622.45,797.13 L623.46,797.36 L624.47,797.61 L625.45,797.90 L626.41,798.23 L627.35,798.59 L628.27,798.98 L629.16,799.41 L630.04,799.87 L630.89,800.36 L631.72,800.87 L632.52,801.41 L633.31,801.98 L634.06,802.58 L634.80,803.20 L635.52,803.84 L636.21,804.50 L636.89,805.18 L637.58,805.85 L638.26,806.53 L638.94,807.20 L639.63,807.88 L640.31,808.55 L640.99,809.22 L641.68,809.90 L642.36,810.57 L643.04,811.25M619.90,821.39 L620.94,821.39 L621.97,821.35 L622.99,821.27 L624.00,821.15 L625.00,820.99 L625.98,820.79 L626.94,820.56 L627.89,820.30 L628.82,820.00 L629.74,819.67 L630.64,819.30 L631.53,818.91 L632.39,818.48 L633.24,818.03 L634.07,817.55 L634.89,817.05 L635.70,816.53 L636.51,816.01 L637.32,815.49 L638.13,814.98 L638.93,814.46 L639.74,813.94 L640.55,813.42 L641.36,812.91 L642.17,812.39 L642.98,811.87M625.91,793.09 L626.86,793.52 L627.79,793.98 L628.69,794.47 L629.56,794.99 L630.41,795.54 L631.22,796.11 L632.01,796.72 L632.77,797.35 L633.50,798.00 L634.20,798.68 L634.88,799.37 L635.53,800.09 L636.14,800.84 L636.74,801.59 L637.30,802.37 L637.84,803.16 L638.37,803.97 L638.90,804.77 L639.43,805.57 L639.95,806.37 L640.48,807.17 L641.01,807.97 L641.54,808.78 L642.07,809.58 L642.60,810.38 L643.12,811.18M618.38,816.29 L619.39,816.50 L620.41,816.68 L621.43,816.81 L622.44,816.91 L623.45,816.96 L624.44,816.97 L625.44,816.95 L626.42,816.88 L627.40,816.78 L628.36,816.65 L629.32,816.48 L630.27,816.28 L631.20,816.04 L632.13,815.78 L633.04,815.48 L633.95,815.16 L634.84,814.82 L635.74,814.48 L636.64,814.14 L637.54,813.81 L638.44,813.47 L639.34,813.13 L640.23,812.79 L641.13,812.45 L642.03,812.11 L642.93,811.78M630.14,789.86 L630.98,790.48 L631.79,791.12 L632.57,791.78 L633.32,792.47 L634.03,793.19 L634.71,793.92 L635.35,794.67 L635.96,795.45 L636.54,796.24 L637.09,797.05 L637.61,797.87 L638.09,798.71 L638.54,799.56 L638.96,800.43 L639.35,801.31 L639.72,802.19 L640.07,803.09 L640.42,803.98 L640.77,804.88 L641.12,805.77 L641.47,806.66 L641.82,807.56 L642.17,808.45 L642.52,809.34 L642.87,810.24 L643.22,811.13M617.95,810.99 L618.90,811.40 L619.86,811.79 L620.82,812.13 L621.79,812.43 L622.77,812.69 L623.74,812.91 L624.72,813.09 L625.69,813.24 L626.67,813.34 L627.64,813.41 L628.61,813.45 L629.58,813.45 L630.55,813.41 L631.51,813.34 L632.46,813.24 L633.41,813.11 L634.36,812.97 L635.31,812.83 L636.26,812.68 L637.21,812.54 L638.16,812.39 L639.11,812.25 L640.06,812.11 L641.01,811.96 L641.95,811.82 L642.90,811.68M634.95,787.58 L635.64,788.36 L636.30,789.15 L636.93,789.97 L637.52,790.79 L638.06,791.64 L638.57,792.50 L639.05,793.37 L639.49,794.25 L639.89,795.15 L640.26,796.05 L640.59,796.97 L640.89,797.89 L641.15,798.81 L641.38,799.75 L641.58,800.69 L641.75,801.63 L641.91,802.58 L642.07,803.53 L642.22,804.47 L642.38,805.42 L642.54,806.37 L642.69,807.32 L642.85,808.26 L643.01,809.21 L643.16,810.16 L643.32,811.10M618.63,805.71 L619.48,806.31 L620.33,806.89 L621.21,807.43 L622.09,807.92 L622.99,808.38 L623.90,808.80 L624.82,809.18 L625.74,809.52 L626.67,809.83 L627.61,810.10 L628.55,810.33 L629.50,810.53 L630.45,810.70 L631.40,810.83 L632.36,810.93 L633.32,811.00 L634.27,811.06 L635.23,811.12 L636.19,811.17 L637.15,811.23 L638.11,811.29 L639.07,811.34 L640.02,811.40 L640.98,811.46 L641.94,811.51 L642.90,811.57M640.13,786.35 L640.64,787.25 L641.13,788.17 L641.57,789.09 L641.97,790.03 L642.33,790.97 L642.65,791.91 L642.93,792.86 L643.18,793.82 L643.39,794.78 L643.56,795.74 L643.69,796.70 L643.79,797.66 L643.86,798.63 L643.89,799.59 L643.89,800.55 L643.86,801.51 L643.82,802.47 L643.77,803.43 L643.73,804.39 L643.69,805.34 L643.64,806.30 L643.60,807.26 L643.55,808.22 L643.51,809.18 L643.47,810.14 L643.42,811.10M620.40,800.69 L621.10,801.46 L621.82,802.20 L622.56,802.90 L623.32,803.57 L624.11,804.21 L624.91,804.80 L625.73,805.37 L626.56,805.89 L627.41,806.39 L628.27,806.85 L629.14,807.27 L630.02,807.67 L630.92,808.03 L631.82,808.35 L632.74,808.65 L633.66,808.92 L634.59,809.18 L635.51,809.43 L636.44,809.68 L637.36,809.94 L638.29,810.19 L639.21,810.45 L640.14,810.70 L641.06,810.96 L641.99,811.21 L642.92,811.47M645.45,786.22 L645.77,787.21 L646.05,788.21 L646.29,789.20 L646.49,790.20 L646.64,791.19 L646.76,792.19 L646.84,793.18 L646.88,794.16 L646.88,795.14 L646.85,796.12 L646.78,797.09 L646.68,798.05 L646.54,799.01 L646.38,799.95 L646.18,800.89 L645.95,801.83 L645.71,802.75 L645.47,803.68 L645.22,804.61 L644.98,805.54 L644.74,806.47 L644.50,807.40 L644.25,808.33 L644.01,809.26 L643.77,810.19 L643.53,811.11M623.17,796.14 L623.69,797.04 L624.24,797.92 L624.82,798.76 L625.43,799.57 L626.07,800.36 L626.73,801.11 L627.41,801.83 L628.11,802.52 L628.84,803.18 L629.59,803.81 L630.35,804.40 L631.13,804.97 L631.94,805.51 L632.75,806.02 L633.58,806.50 L634.43,806.95 L635.28,807.40 L636.13,807.84 L636.99,808.28 L637.84,808.72 L638.69,809.16 L639.54,809.60 L640.40,810.04 L641.25,810.49 L642.10,810.93 L642.95,811.37M650.68,787.20 L650.78,788.24 L650.85,789.27 L650.88,790.29 L650.87,791.31 L650.81,792.31 L650.72,793.31 L650.59,794.29 L650.43,795.27 L650.23,796.23 L650.00,797.17 L649.73,798.11 L649.43,799.03 L649.09,799.93 L648.73,800.83 L648.34,801.70 L647.93,802.57 L647.50,803.43 L647.07,804.29 L646.64,805.14 L646.21,806.00 L645.78,806.86 L645.35,807.72 L644.92,808.58 L644.49,809.43 L644.06,810.29 L643.62,811.15M626.82,792.27 L627.15,793.26 L627.51,794.23 L627.90,795.18 L628.32,796.10 L628.78,797.00 L629.27,797.87 L629.79,798.72 L630.34,799.54 L630.91,800.33 L631.51,801.10 L632.13,801.85 L632.78,802.57 L633.45,803.26 L634.15,803.93 L634.86,804.57 L635.59,805.19 L636.33,805.80 L637.08,806.41 L637.82,807.02 L638.56,807.63 L639.30,808.24 L640.04,808.85 L640.79,809.45 L641.53,810.06 L642.27,810.67 L643.01,811.28" stroke-width="2.8"/></g>
<circle cx="643.4" cy="811.6" r="9.3" fill="#fff"/>
<circle cx="643.4" cy="811.6" r="78.35" fill="none" stroke="#000" stroke-width="2.5"/>
<circle cx="643.4" cy="811.6" r="10.6" fill="none" stroke="#000" stroke-width="2.6"/>
<clipPath id="clip6431041"><circle cx="643.5" cy="1041.5" r="104.75"/></clipPath>
<g clip-path="url(#clip6431041)" fill="none" stroke="#000" stroke-width="2.1" stroke-linejoin="round"><path d="M643.50,925.50 L644.06,926.94 L644.62,928.39 L645.17,929.83 L645.71,931.28 L646.24,932.74 L646.76,934.19 L647.28,935.65 L647.79,937.11 L648.29,938.58 L648.78,940.04 L649.26,941.51 L649.74,942.98 L650.20,944.46 L650.66,945.94 L651.11,947.42 L651.54,948.90 L651.97,950.38 L652.39,951.87 L652.80,953.36 L653.20,954.85 L653.59,956.35 L653.98,957.85 L654.35,959.35 L654.71,960.85 L655.05,962.35 L655.39,963.86 L655.72,965.37 L656.04,966.88 L656.34,968.40 L656.63,969.91 L656.91,971.43 L657.18,972.95 L657.44,974.47 L657.68,976.00 L657.91,977.52 L658.13,979.05 L658.33,980.58 L658.53,982.11 L658.70,983.65 L658.86,985.18 L659.00,986.71 L659.11,988.25 L659.21,989.78 L659.29,991.31 L659.35,992.84 L659.38,994.37 L659.40,995.90 L659.39,997.43 L659.37,998.95 L659.32,1000.47 L659.24,1001.99 L659.14,1003.50 L659.02,1005.01 L658.87,1006.52 L658.70,1008.02 L658.50,1009.51 L658.27,1011.00 L658.02,1012.49 L657.75,1013.96 L657.44,1015.43 L657.10,1016.88 L656.71,1018.31 L656.28,1019.73 L655.81,1021.13 L655.31,1022.51 L654.76,1023.87 L654.17,1025.20 L653.53,1026.51 L652.85,1027.78 L652.12,1029.03 L651.35,1030.25 L650.55,1031.45 L649.72,1032.63 L648.89,1033.81 L648.07,1034.99 L647.24,1036.16 L646.41,1037.34 L645.59,1038.52 L644.76,1039.70 L643.93,1040.88M643.50,925.50 L642.94,926.94 L642.38,928.39 L641.83,929.83 L641.29,931.28 L640.76,932.74 L640.24,934.19 L639.72,935.65 L639.21,937.11 L638.71,938.58 L638.22,940.04 L637.74,941.51 L637.26,942.98 L636.80,944.46 L636.34,945.94 L635.89,947.42 L635.46,948.90 L635.03,950.38 L634.61,951.87 L634.20,953.36 L633.80,954.85 L633.41,956.35 L633.02,957.85 L632.65,959.35 L632.29,960.85 L631.95,962.35 L631.61,963.86 L631.28,965.37 L630.96,966.88 L630.66,968.40 L630.37,969.91 L630.09,971.43 L629.82,972.95 L629.56,974.47 L629.32,976.00 L629.09,977.52 L628.87,979.05 L628.67,980.58 L628.47,982.11 L628.30,983.65 L628.14,985.18 L628.00,986.71 L627.89,988.25 L627.79,989.78 L627.71,991.31 L627.65,992.84 L627.62,994.37 L627.60,995.90 L627.61,997.43 L627.63,998.95 L627.68,1000.47 L627.76,1001.99 L627.86,1003.50 L627.98,1005.01 L628.13,1006.52 L628.30,1008.02 L628.50,1009.51 L628.73,1011.00 L628.98,1012.49 L629.25,1013.96 L629.56,1015.43 L629.90,1016.88 L630.29,1018.31 L630.72,1019.73 L631.19,1021.13 L631.69,1022.51 L632.24,1023.87 L632.83,1025.20 L633.47,1026.51 L634.15,1027.78 L634.88,1029.03 L635.65,1030.25 L636.45,1031.45 L637.28,1032.63 L638.11,1033.81 L638.93,1034.99 L639.76,1036.16 L640.59,1037.34 L641.41,1038.52 L642.24,1039.70 L643.07,1040.88M667.62,928.03 L667.87,929.56 L668.11,931.09 L668.35,932.62 L668.57,934.15 L668.79,935.68 L669.00,937.22 L669.20,938.75 L669.40,940.28 L669.58,941.82 L669.76,943.36 L669.92,944.89 L670.08,946.43 L670.23,947.97 L670.37,949.51 L670.50,951.05 L670.62,952.59 L670.73,954.14 L670.83,955.68 L670.93,957.22 L671.01,958.76 L671.08,960.31 L671.14,961.85 L671.19,963.40 L671.23,964.94 L671.26,966.49 L671.28,968.03 L671.28,969.57 L671.28,971.12 L671.26,972.66 L671.23,974.21 L671.19,975.75 L671.14,977.29 L671.07,978.84 L670.99,980.38 L670.90,981.92 L670.80,983.46 L670.68,985.00 L670.54,986.54 L670.40,988.07 L670.23,989.60 L670.05,991.13 L669.84,992.66 L669.62,994.18 L669.38,995.69 L669.12,997.20 L668.83,998.70 L668.53,1000.20 L668.21,1001.69 L667.87,1003.18 L667.50,1004.66 L667.11,1006.13 L666.70,1007.59 L666.27,1009.04 L665.81,1010.48 L665.33,1011.91 L664.82,1013.33 L664.29,1014.74 L663.74,1016.14 L663.16,1017.52 L662.56,1018.90 L661.92,1020.24 L661.24,1021.57 L660.53,1022.86 L659.78,1024.13 L659.00,1025.38 L658.18,1026.59 L657.33,1027.78 L656.43,1028.92 L655.49,1030.03 L654.52,1031.09 L653.52,1032.13 L652.48,1033.13 L651.43,1034.11 L650.38,1035.10 L649.32,1036.08 L648.27,1037.06 L647.21,1038.04 L646.16,1039.02 L645.11,1040.00 L644.05,1040.99M667.62,928.03 L666.77,929.33 L665.92,930.63 L665.09,931.93 L664.26,933.23 L663.44,934.54 L662.62,935.86 L661.81,937.18 L661.01,938.50 L660.22,939.83 L659.43,941.16 L658.65,942.50 L657.88,943.84 L657.12,945.19 L656.37,946.54 L655.62,947.89 L654.88,949.25 L654.16,950.61 L653.44,951.98 L652.72,953.35 L652.02,954.73 L651.33,956.11 L650.65,957.50 L649.97,958.89 L649.31,960.28 L648.65,961.68 L648.01,963.08 L647.38,964.49 L646.75,965.91 L646.14,967.32 L645.54,968.75 L644.95,970.17 L644.37,971.60 L643.80,973.04 L643.25,974.48 L642.70,975.93 L642.17,977.37 L641.65,978.83 L641.15,980.29 L640.66,981.75 L640.19,983.22 L639.73,984.69 L639.30,986.16 L638.89,987.64 L638.49,989.12 L638.12,990.61 L637.76,992.10 L637.43,993.59 L637.12,995.08 L636.83,996.58 L636.56,998.08 L636.32,999.58 L636.10,1001.08 L635.90,1002.59 L635.74,1004.09 L635.59,1005.59 L635.48,1007.10 L635.39,1008.60 L635.33,1010.10 L635.29,1011.60 L635.28,1013.10 L635.32,1014.59 L635.40,1016.08 L635.53,1017.55 L635.69,1019.01 L635.90,1020.47 L636.15,1021.91 L636.45,1023.34 L636.81,1024.75 L637.21,1026.14 L637.66,1027.51 L638.16,1028.86 L638.70,1030.20 L639.26,1031.53 L639.82,1032.85 L640.39,1034.18 L640.95,1035.50 L641.51,1036.83 L642.08,1038.16 L642.64,1039.48 L643.21,1040.81M690.68,935.53 L690.61,937.07 L690.53,938.62 L690.44,940.17 L690.34,941.71 L690.24,943.25 L690.13,944.80 L690.00,946.34 L689.87,947.88 L689.74,949.42 L689.59,950.96 L689.43,952.50 L689.27,954.04 L689.09,955.57 L688.91,957.11 L688.72,958.64 L688.51,960.18 L688.30,961.71 L688.08,963.24 L687.85,964.76 L687.61,966.29 L687.36,967.82 L687.09,969.34 L686.82,970.86 L686.54,972.38 L686.25,973.90 L685.94,975.41 L685.63,976.92 L685.30,978.43 L684.96,979.94 L684.62,981.44 L684.25,982.94 L683.88,984.44 L683.50,985.94 L683.10,987.43 L682.69,988.92 L682.27,990.40 L681.83,991.88 L681.38,993.36 L680.92,994.83 L680.44,996.30 L679.94,997.75 L679.42,999.20 L678.89,1000.64 L678.34,1002.07 L677.77,1003.49 L677.18,1004.91 L676.57,1006.31 L675.95,1007.70 L675.30,1009.08 L674.64,1010.45 L673.95,1011.81 L673.25,1013.15 L672.52,1014.48 L671.77,1015.80 L671.00,1017.10 L670.21,1018.38 L669.40,1019.65 L668.57,1020.90 L667.72,1022.14 L666.84,1023.35 L665.93,1024.54 L665.00,1025.69 L664.03,1026.81 L663.03,1027.90 L662.01,1028.95 L660.96,1029.97 L659.88,1030.95 L658.76,1031.88 L657.62,1032.77 L656.45,1033.61 L655.25,1034.42 L654.03,1035.18 L652.79,1035.92 L651.56,1036.66 L650.32,1037.41 L649.09,1038.15 L647.85,1038.89 L646.62,1039.63 L645.38,1040.37 L644.15,1041.11M690.68,935.53 L689.58,936.62 L688.49,937.71 L687.40,938.81 L686.31,939.92 L685.24,941.03 L684.17,942.14 L683.10,943.27 L682.04,944.39 L680.99,945.53 L679.95,946.67 L678.91,947.81 L677.87,948.97 L676.85,950.12 L675.83,951.29 L674.82,952.46 L673.82,953.63 L672.82,954.81 L671.83,956.00 L670.85,957.20 L669.88,958.40 L668.91,959.60 L667.96,960.82 L667.01,962.04 L666.07,963.26 L665.14,964.50 L664.21,965.74 L663.30,966.98 L662.40,968.23 L661.50,969.49 L660.62,970.76 L659.75,972.03 L658.88,973.31 L658.03,974.60 L657.19,975.89 L656.35,977.19 L655.53,978.50 L654.73,979.81 L653.93,981.14 L653.14,982.47 L652.38,983.80 L651.63,985.15 L650.90,986.50 L650.18,987.86 L649.49,989.23 L648.81,990.60 L648.16,991.99 L647.52,993.38 L646.91,994.77 L646.31,996.18 L645.74,997.59 L645.19,999.00 L644.66,1000.43 L644.16,1001.86 L643.68,1003.29 L643.23,1004.73 L642.81,1006.18 L642.41,1007.63 L642.03,1009.09 L641.69,1010.55 L641.37,1012.01 L641.09,1013.48 L640.86,1014.95 L640.68,1016.41 L640.54,1017.88 L640.44,1019.35 L640.39,1020.81 L640.38,1022.27 L640.43,1023.72 L640.54,1025.17 L640.70,1026.60 L640.90,1028.03 L641.15,1029.45 L641.43,1030.86 L641.70,1032.28 L641.98,1033.69 L642.25,1035.10 L642.53,1036.52 L642.80,1037.93 L643.08,1039.35 L643.36,1040.76M711.68,947.65 L711.29,949.15 L710.89,950.65 L710.48,952.14 L710.07,953.63 L709.64,955.12 L709.21,956.60 L708.77,958.09 L708.32,959.57 L707.87,961.05 L707.40,962.52 L706.93,963.99 L706.45,965.46 L705.96,966.93 L705.46,968.39 L704.95,969.85 L704.44,971.31 L703.91,972.77 L703.38,974.22 L702.83,975.66 L702.28,977.11 L701.72,978.54 L701.15,979.98 L700.56,981.41 L699.97,982.84 L699.37,984.26 L698.76,985.68 L698.13,987.09 L697.50,988.50 L696.86,989.91 L696.20,991.30 L695.54,992.70 L694.86,994.09 L694.17,995.47 L693.48,996.84 L692.77,998.21 L692.04,999.58 L691.31,1000.94 L690.56,1002.29 L689.80,1003.63 L689.03,1004.96 L688.24,1006.28 L687.43,1007.59 L686.61,1008.89 L685.77,1010.18 L684.92,1011.45 L684.05,1012.71 L683.17,1013.95 L682.26,1015.18 L681.35,1016.40 L680.41,1017.60 L679.46,1018.79 L678.49,1019.96 L677.50,1021.11 L676.50,1022.24 L675.47,1023.35 L674.43,1024.44 L673.38,1025.51 L672.30,1026.56 L671.21,1027.59 L670.10,1028.60 L668.97,1029.57 L667.81,1030.51 L666.63,1031.40 L665.43,1032.26 L664.21,1033.07 L662.97,1033.85 L661.71,1034.59 L660.43,1035.27 L659.13,1035.90 L657.80,1036.48 L656.46,1037.01 L655.11,1037.51 L653.75,1037.98 L652.39,1038.45 L651.02,1038.91 L649.66,1039.38 L648.30,1039.85 L646.94,1040.32 L645.57,1040.79 L644.21,1041.26M711.68,947.65 L710.38,948.49 L709.08,949.33 L707.79,950.18 L706.50,951.04 L705.21,951.90 L703.93,952.77 L702.66,953.65 L701.39,954.53 L700.12,955.42 L698.87,956.32 L697.61,957.22 L696.36,958.13 L695.12,959.05 L693.88,959.98 L692.65,960.91 L691.42,961.86 L690.20,962.80 L688.99,963.76 L687.78,964.73 L686.58,965.70 L685.38,966.68 L684.20,967.67 L683.01,968.66 L681.84,969.67 L680.67,970.68 L679.51,971.70 L678.36,972.73 L677.22,973.76 L676.08,974.81 L674.95,975.86 L673.83,976.93 L672.72,978.00 L671.62,979.08 L670.53,980.17 L669.44,981.27 L668.37,982.38 L667.30,983.50 L666.25,984.62 L665.21,985.76 L664.18,986.91 L663.17,988.07 L662.17,989.24 L661.19,990.42 L660.23,991.62 L659.28,992.82 L658.35,994.04 L657.44,995.26 L656.55,996.50 L655.67,997.75 L654.82,999.01 L653.99,1000.28 L653.18,1001.57 L652.39,1002.86 L651.62,1004.17 L650.88,1005.48 L650.17,1006.81 L649.47,1008.14 L648.80,1009.49 L648.16,1010.85 L647.55,1012.21 L646.97,1013.59 L646.44,1014.98 L645.96,1016.38 L645.51,1017.78 L645.11,1019.20 L644.75,1020.62 L644.45,1022.04 L644.20,1023.47 L644.00,1024.91 L643.86,1026.35 L643.76,1027.78 L643.71,1029.22 L643.68,1030.66 L643.66,1032.10 L643.63,1033.54 L643.61,1034.99 L643.59,1036.43 L643.56,1037.87 L643.54,1039.31 L643.51,1040.75M729.70,963.88 L729.01,965.26 L728.31,966.64 L727.60,968.02 L726.88,969.39 L726.16,970.76 L725.43,972.12 L724.69,973.48 L723.94,974.84 L723.19,976.19 L722.43,977.53 L721.66,978.88 L720.88,980.21 L720.10,981.55 L719.31,982.87 L718.51,984.20 L717.70,985.52 L716.88,986.83 L716.06,988.14 L715.23,989.44 L714.38,990.73 L713.53,992.02 L712.68,993.31 L711.81,994.59 L710.93,995.86 L710.05,997.13 L709.16,998.39 L708.25,999.64 L707.34,1000.89 L706.42,1002.13 L705.49,1003.36 L704.55,1004.58 L703.60,1005.80 L702.64,1007.01 L701.67,1008.21 L700.69,1009.40 L699.70,1010.59 L698.70,1011.76 L697.69,1012.93 L696.66,1014.08 L695.63,1015.23 L694.58,1016.36 L693.52,1017.47 L692.45,1018.57 L691.36,1019.65 L690.26,1020.72 L689.15,1021.77 L688.03,1022.80 L686.89,1023.82 L685.74,1024.82 L684.57,1025.80 L683.39,1026.76 L682.20,1027.70 L681.00,1028.62 L679.78,1029.52 L678.55,1030.39 L677.31,1031.24 L676.05,1032.07 L674.78,1032.88 L673.50,1033.66 L672.20,1034.41 L670.89,1035.13 L669.57,1035.80 L668.23,1036.43 L666.88,1037.02 L665.51,1037.56 L664.14,1038.07 L662.75,1038.52 L661.36,1038.92 L659.95,1039.27 L658.53,1039.56 L657.11,1039.81 L655.69,1040.01 L654.26,1040.19 L652.83,1040.36 L651.40,1040.53 L649.97,1040.71 L648.54,1040.88 L647.11,1041.06 L645.68,1041.23 L644.25,1041.41M729.70,963.88 L728.26,964.43 L726.81,964.98 L725.37,965.54 L723.93,966.11 L722.49,966.69 L721.06,967.27 L719.63,967.87 L718.21,968.47 L716.78,969.07 L715.37,969.69 L713.95,970.31 L712.54,970.95 L711.13,971.59 L709.73,972.24 L708.33,972.89 L706.93,973.56 L705.54,974.23 L704.16,974.92 L702.77,975.61 L701.40,976.31 L700.03,977.02 L698.66,977.74 L697.29,978.47 L695.94,979.21 L694.59,979.95 L693.24,980.71 L691.90,981.48 L690.56,982.25 L689.23,983.04 L687.91,983.84 L686.60,984.65 L685.29,985.46 L683.98,986.29 L682.69,987.13 L681.40,987.98 L680.12,988.84 L678.84,989.71 L677.58,990.60 L676.32,991.49 L675.08,992.40 L673.85,993.32 L672.63,994.26 L671.42,995.22 L670.23,996.18 L669.06,997.17 L667.90,998.16 L666.75,999.17 L665.62,1000.20 L664.50,1001.24 L663.41,1002.29 L662.33,1003.36 L661.27,1004.45 L660.23,1005.55 L659.21,1006.67 L658.21,1007.80 L657.23,1008.95 L656.28,1010.11 L655.34,1011.29 L654.43,1012.49 L653.55,1013.69 L652.70,1014.92 L651.89,1016.17 L651.13,1017.44 L650.40,1018.72 L649.71,1020.02 L649.07,1021.33 L648.47,1022.66 L647.93,1024.01 L647.44,1025.37 L647.00,1026.75 L646.61,1028.14 L646.26,1029.54 L645.93,1030.94 L645.61,1032.34 L645.29,1033.75 L644.96,1035.15 L644.64,1036.55 L644.32,1037.96 L643.99,1039.36 L643.67,1040.77M743.96,983.50 L742.99,984.71 L742.02,985.91 L741.04,987.11 L740.05,988.30 L739.06,989.49 L738.06,990.67 L737.06,991.85 L736.05,993.02 L735.03,994.18 L734.00,995.34 L732.97,996.49 L731.93,997.64 L730.89,998.78 L729.84,999.92 L728.78,1001.04 L727.72,1002.17 L726.65,1003.28 L725.57,1004.39 L724.48,1005.49 L723.39,1006.58 L722.29,1007.67 L721.18,1008.75 L720.07,1009.82 L718.95,1010.88 L717.82,1011.93 L716.68,1012.98 L715.54,1014.02 L714.39,1015.05 L713.23,1016.07 L712.06,1017.08 L710.89,1018.08 L709.71,1019.08 L708.52,1020.06 L707.32,1021.03 L706.11,1021.99 L704.90,1022.95 L703.67,1023.89 L702.44,1024.82 L701.20,1025.74 L699.95,1026.64 L698.69,1027.53 L697.43,1028.39 L696.15,1029.25 L694.86,1030.08 L693.56,1030.89 L692.26,1031.69 L690.94,1032.47 L689.62,1033.23 L688.28,1033.97 L686.94,1034.68 L685.59,1035.38 L684.23,1036.05 L682.86,1036.70 L681.48,1037.32 L680.09,1037.92 L678.70,1038.50 L677.30,1039.05 L675.89,1039.57 L674.47,1040.07 L673.05,1040.54 L671.62,1040.96 L670.18,1041.35 L668.74,1041.68 L667.30,1041.98 L665.85,1042.23 L664.40,1042.44 L662.95,1042.59 L661.50,1042.69 L660.05,1042.74 L658.61,1042.73 L657.17,1042.68 L655.73,1042.58 L654.30,1042.45 L652.86,1042.32 L651.43,1042.20 L649.99,1042.07 L648.56,1041.95 L647.12,1041.82 L645.69,1041.69 L644.25,1041.57M743.96,983.50 L742.43,983.73 L740.90,983.98 L739.37,984.22 L737.85,984.48 L736.32,984.75 L734.80,985.02 L733.28,985.30 L731.76,985.59 L730.24,985.89 L728.73,986.20 L727.21,986.52 L725.70,986.84 L724.19,987.18 L722.68,987.52 L721.18,987.87 L719.67,988.23 L718.17,988.60 L716.67,988.98 L715.18,989.37 L713.69,989.77 L712.20,990.18 L710.71,990.60 L709.22,991.03 L707.74,991.47 L706.27,991.92 L704.79,992.38 L703.32,992.85 L701.85,993.33 L700.39,993.83 L698.93,994.33 L697.47,994.85 L696.02,995.38 L694.58,995.91 L693.14,996.47 L691.70,997.03 L690.27,997.61 L688.84,998.19 L687.42,998.79 L686.00,999.41 L684.60,1000.04 L683.20,1000.69 L681.81,1001.35 L680.44,1002.03 L679.07,1002.73 L677.72,1003.45 L676.37,1004.18 L675.04,1004.93 L673.72,1005.70 L672.42,1006.48 L671.12,1007.29 L669.84,1008.11 L668.58,1008.95 L667.34,1009.82 L666.11,1010.70 L664.90,1011.60 L663.70,1012.52 L662.52,1013.46 L661.37,1014.42 L660.23,1015.39 L659.11,1016.39 L658.02,1017.42 L656.98,1018.47 L655.96,1019.55 L654.99,1020.65 L654.04,1021.78 L653.14,1022.93 L652.28,1024.11 L651.47,1025.32 L650.71,1026.55 L649.99,1027.80 L649.32,1029.08 L648.68,1030.37 L648.07,1031.68 L647.47,1032.98 L646.86,1034.29 L646.25,1035.59 L645.64,1036.90 L645.03,1038.21 L644.43,1039.51 L643.82,1040.82M753.82,1005.65 L752.63,1006.63 L751.42,1007.61 L750.22,1008.58 L749.00,1009.54 L747.79,1010.49 L746.56,1011.44 L745.34,1012.38 L744.10,1013.32 L742.87,1014.25 L741.62,1015.17 L740.37,1016.08 L739.12,1016.99 L737.86,1017.89 L736.60,1018.78 L735.33,1019.66 L734.06,1020.53 L732.78,1021.40 L731.49,1022.26 L730.20,1023.11 L728.90,1023.95 L727.60,1024.79 L726.30,1025.61 L724.98,1026.43 L723.67,1027.23 L722.34,1028.03 L721.01,1028.82 L719.68,1029.60 L718.34,1030.36 L716.99,1031.12 L715.64,1031.87 L714.29,1032.61 L712.92,1033.33 L711.55,1034.04 L710.18,1034.75 L708.80,1035.44 L707.41,1036.12 L706.02,1036.78 L704.62,1037.44 L703.22,1038.08 L701.81,1038.70 L700.39,1039.31 L698.97,1039.89 L697.54,1040.46 L696.11,1041.01 L694.67,1041.53 L693.23,1042.04 L691.78,1042.53 L690.33,1043.00 L688.87,1043.44 L687.41,1043.86 L685.94,1044.26 L684.47,1044.64 L683.00,1044.99 L681.52,1045.31 L680.04,1045.61 L678.55,1045.88 L677.07,1046.13 L675.58,1046.35 L674.09,1046.54 L672.60,1046.70 L671.12,1046.82 L669.63,1046.90 L668.15,1046.93 L666.68,1046.91 L665.21,1046.86 L663.75,1046.76 L662.30,1046.61 L660.86,1046.41 L659.43,1046.15 L658.02,1045.84 L656.62,1045.49 L655.24,1045.10 L653.86,1044.67 L652.48,1044.25 L651.11,1043.83 L649.73,1043.41 L648.35,1042.99 L646.98,1042.56 L645.60,1042.14 L644.22,1041.72M753.82,1005.65 L752.28,1005.56 L750.73,1005.48 L749.19,1005.41 L747.64,1005.34 L746.09,1005.29 L744.55,1005.24 L743.00,1005.20 L741.45,1005.17 L739.91,1005.14 L738.36,1005.13 L736.81,1005.12 L735.27,1005.13 L733.72,1005.14 L732.18,1005.16 L730.63,1005.19 L729.08,1005.23 L727.54,1005.28 L725.99,1005.34 L724.45,1005.42 L722.91,1005.50 L721.36,1005.59 L719.82,1005.69 L718.28,1005.80 L716.74,1005.92 L715.20,1006.05 L713.66,1006.20 L712.13,1006.35 L710.59,1006.52 L709.06,1006.70 L707.53,1006.89 L705.99,1007.09 L704.47,1007.30 L702.94,1007.53 L701.41,1007.77 L699.89,1008.02 L698.37,1008.29 L696.85,1008.57 L695.34,1008.86 L693.82,1009.17 L692.32,1009.49 L690.82,1009.83 L689.32,1010.19 L687.83,1010.57 L686.35,1010.97 L684.88,1011.39 L683.41,1011.83 L681.96,1012.29 L680.51,1012.77 L679.06,1013.26 L677.63,1013.78 L676.21,1014.32 L674.80,1014.88 L673.40,1015.46 L672.02,1016.07 L670.64,1016.70 L669.28,1017.35 L667.94,1018.02 L666.61,1018.72 L665.29,1019.44 L663.99,1020.19 L662.71,1020.96 L661.47,1021.77 L660.25,1022.62 L659.07,1023.50 L657.91,1024.40 L656.79,1025.34 L655.70,1026.32 L654.66,1027.33 L653.66,1028.37 L652.70,1029.45 L651.77,1030.56 L650.88,1031.69 L650.02,1032.84 L649.15,1033.99 L648.28,1035.14 L647.42,1036.29 L646.55,1037.45 L645.69,1038.60 L644.82,1039.75 L643.95,1040.90M758.86,1029.37 L757.49,1030.09 L756.11,1030.79 L754.73,1031.48 L753.34,1032.17 L751.95,1032.85 L750.56,1033.53 L749.16,1034.19 L747.76,1034.85 L746.36,1035.50 L744.95,1036.14 L743.54,1036.78 L742.13,1037.40 L740.71,1038.02 L739.29,1038.63 L737.86,1039.23 L736.44,1039.82 L735.00,1040.40 L733.57,1040.98 L732.13,1041.54 L730.69,1042.09 L729.24,1042.64 L727.79,1043.17 L726.34,1043.70 L724.88,1044.21 L723.42,1044.72 L721.96,1045.21 L720.49,1045.70 L719.02,1046.17 L717.55,1046.63 L716.07,1047.08 L714.59,1047.52 L713.10,1047.94 L711.62,1048.36 L710.13,1048.76 L708.63,1049.15 L707.14,1049.52 L705.64,1049.89 L704.13,1050.24 L702.63,1050.57 L701.12,1050.89 L699.61,1051.18 L698.09,1051.46 L696.58,1051.72 L695.06,1051.96 L693.55,1052.17 L692.03,1052.37 L690.51,1052.54 L688.99,1052.70 L687.47,1052.83 L685.96,1052.94 L684.44,1053.03 L682.92,1053.09 L681.41,1053.12 L679.89,1053.13 L678.38,1053.12 L676.88,1053.07 L675.37,1053.01 L673.87,1052.91 L672.38,1052.79 L670.89,1052.64 L669.41,1052.45 L667.94,1052.21 L666.49,1051.93 L665.05,1051.62 L663.62,1051.26 L662.21,1050.86 L660.82,1050.41 L659.46,1049.91 L658.12,1049.36 L656.80,1048.77 L655.51,1048.13 L654.24,1047.46 L652.98,1046.76 L651.72,1046.06 L650.46,1045.36 L649.20,1044.66 L647.94,1043.96 L646.68,1043.26 L645.42,1042.56 L644.16,1041.87M758.86,1029.37 L757.37,1028.97 L755.88,1028.56 L754.38,1028.17 L752.88,1027.79 L751.38,1027.41 L749.88,1027.04 L748.37,1026.68 L746.87,1026.33 L745.36,1025.98 L743.85,1025.65 L742.34,1025.32 L740.82,1025.00 L739.31,1024.69 L737.79,1024.39 L736.27,1024.10 L734.75,1023.82 L733.23,1023.55 L731.71,1023.29 L730.18,1023.03 L728.66,1022.79 L727.13,1022.56 L725.60,1022.34 L724.07,1022.13 L722.54,1021.93 L721.01,1021.74 L719.47,1021.56 L717.94,1021.39 L716.40,1021.23 L714.86,1021.09 L713.32,1020.96 L711.78,1020.83 L710.24,1020.73 L708.70,1020.63 L707.16,1020.55 L705.62,1020.48 L704.08,1020.42 L702.53,1020.38 L700.99,1020.35 L699.45,1020.34 L697.91,1020.34 L696.37,1020.36 L694.83,1020.41 L693.30,1020.47 L691.76,1020.55 L690.24,1020.65 L688.71,1020.78 L687.19,1020.92 L685.67,1021.09 L684.16,1021.27 L682.65,1021.48 L681.15,1021.71 L679.65,1021.97 L678.16,1022.25 L676.68,1022.56 L675.21,1022.89 L673.74,1023.24 L672.29,1023.62 L670.84,1024.02 L669.40,1024.45 L667.97,1024.91 L666.56,1025.41 L665.18,1025.94 L663.81,1026.51 L662.47,1027.13 L661.15,1027.77 L659.86,1028.46 L658.59,1029.18 L657.36,1029.96 L656.17,1030.77 L655.00,1031.62 L653.87,1032.51 L652.76,1033.44 L651.68,1034.39 L650.59,1035.33 L649.50,1036.28 L648.42,1037.22 L647.33,1038.17 L646.24,1039.11 L645.15,1040.06 L644.07,1041.01M758.86,1053.63 L757.37,1054.03 L755.88,1054.44 L754.38,1054.83 L752.88,1055.21 L751.38,1055.59 L749.88,1055.96 L748.37,1056.32 L746.87,1056.67 L745.36,1057.02 L743.85,1057.35 L742.34,1057.68 L740.82,1058.00 L739.31,1058.31 L737.79,1058.61 L736.27,1058.90 L734.75,1059.18 L733.23,1059.45 L731.71,1059.71 L730.18,1059.97 L728.66,1060.21 L727.13,1060.44 L725.60,1060.66 L724.07,1060.87 L722.54,1061.07 L721.01,1061.26 L719.47,1061.44 L717.94,1061.61 L716.40,1061.77 L714.86,1061.91 L713.32,1062.04 L711.78,1062.17 L710.24,1062.27 L708.70,1062.37 L707.16,1062.45 L705.62,1062.52 L704.08,1062.58 L702.53,1062.62 L700.99,1062.65 L699.45,1062.66 L697.91,1062.66 L696.37,1062.64 L694.83,1062.59 L693.30,1062.53 L691.76,1062.45 L690.24,1062.35 L688.71,1062.22 L687.19,1062.08 L685.67,1061.91 L684.16,1061.73 L682.65,1061.52 L681.15,1061.29 L679.65,1061.03 L678.16,1060.75 L676.68,1060.44 L675.21,1060.11 L673.74,1059.76 L672.29,1059.38 L670.84,1058.98 L669.40,1058.55 L667.97,1058.09 L666.56,1057.59 L665.18,1057.06 L663.81,1056.49 L662.47,1055.87 L661.15,1055.23 L659.86,1054.54 L658.59,1053.82 L657.36,1053.04 L656.17,1052.23 L655.00,1051.38 L653.87,1050.49 L652.76,1049.56 L651.68,1048.61 L650.59,1047.67 L649.50,1046.72 L648.42,1045.78 L647.33,1044.83 L646.24,1043.89 L645.15,1042.94 L644.07,1041.99M758.86,1053.63 L757.49,1052.91 L756.11,1052.21 L754.73,1051.52 L753.34,1050.83 L751.95,1050.15 L750.56,1049.47 L749.16,1048.81 L747.76,1048.15 L746.36,1047.50 L744.95,1046.86 L743.54,1046.22 L742.13,1045.60 L740.71,1044.98 L739.29,1044.37 L737.86,1043.77 L736.44,1043.18 L735.00,1042.60 L733.57,1042.02 L732.13,1041.46 L730.69,1040.91 L729.24,1040.36 L727.79,1039.83 L726.34,1039.30 L724.88,1038.79 L723.42,1038.28 L721.96,1037.79 L720.49,1037.30 L719.02,1036.83 L717.55,1036.37 L716.07,1035.92 L714.59,1035.48 L713.10,1035.06 L711.62,1034.64 L710.13,1034.24 L708.63,1033.85 L707.14,1033.48 L705.64,1033.11 L704.13,1032.76 L702.63,1032.43 L701.12,1032.11 L699.61,1031.82 L698.09,1031.54 L696.58,1031.28 L695.06,1031.04 L693.55,1030.83 L692.03,1030.63 L690.51,1030.46 L688.99,1030.30 L687.47,1030.17 L685.96,1030.06 L684.44,1029.97 L682.92,1029.91 L681.41,1029.88 L679.89,1029.87 L678.38,1029.88 L676.88,1029.93 L675.37,1029.99 L673.87,1030.09 L672.38,1030.21 L670.89,1030.36 L669.41,1030.55 L667.94,1030.79 L666.49,1031.07 L665.05,1031.38 L663.62,1031.74 L662.21,1032.14 L660.82,1032.59 L659.46,1033.09 L658.12,1033.64 L656.80,1034.23 L655.51,1034.87 L654.24,1035.54 L652.98,1036.24 L651.72,1036.94 L650.46,1037.64 L649.20,1038.34 L647.94,1039.04 L646.68,1039.74 L645.42,1040.44 L644.16,1041.13M753.82,1077.35 L752.28,1077.44 L750.73,1077.52 L749.19,1077.59 L747.64,1077.66 L746.09,1077.71 L744.55,1077.76 L743.00,1077.80 L741.45,1077.83 L739.91,1077.86 L738.36,1077.87 L736.81,1077.88 L735.27,1077.87 L733.72,1077.86 L732.18,1077.84 L730.63,1077.81 L729.08,1077.77 L727.54,1077.72 L725.99,1077.66 L724.45,1077.58 L722.91,1077.50 L721.36,1077.41 L719.82,1077.31 L718.28,1077.20 L716.74,1077.08 L715.20,1076.95 L713.66,1076.80 L712.13,1076.65 L710.59,1076.48 L709.06,1076.30 L707.53,1076.11 L705.99,1075.91 L704.47,1075.70 L702.94,1075.47 L701.41,1075.23 L699.89,1074.98 L698.37,1074.71 L696.85,1074.43 L695.34,1074.14 L693.82,1073.83 L692.32,1073.51 L690.82,1073.17 L689.32,1072.81 L687.83,1072.43 L686.35,1072.03 L684.88,1071.61 L683.41,1071.17 L681.96,1070.71 L680.51,1070.23 L679.06,1069.74 L677.63,1069.22 L676.21,1068.68 L674.80,1068.12 L673.40,1067.54 L672.02,1066.93 L670.64,1066.30 L669.28,1065.65 L667.94,1064.98 L666.61,1064.28 L665.29,1063.56 L663.99,1062.81 L662.71,1062.04 L661.47,1061.23 L660.25,1060.38 L659.07,1059.50 L657.91,1058.60 L656.79,1057.66 L655.70,1056.68 L654.66,1055.67 L653.66,1054.63 L652.70,1053.55 L651.77,1052.44 L650.88,1051.31 L650.02,1050.16 L649.15,1049.01 L648.28,1047.86 L647.42,1046.71 L646.55,1045.55 L645.69,1044.40 L644.82,1043.25 L643.95,1042.10M753.82,1077.35 L752.63,1076.37 L751.42,1075.39 L750.22,1074.42 L749.00,1073.46 L747.79,1072.51 L746.56,1071.56 L745.34,1070.62 L744.10,1069.68 L742.87,1068.75 L741.62,1067.83 L740.37,1066.92 L739.12,1066.01 L737.86,1065.11 L736.60,1064.22 L735.33,1063.34 L734.06,1062.47 L732.78,1061.60 L731.49,1060.74 L730.20,1059.89 L728.90,1059.05 L727.60,1058.21 L726.30,1057.39 L724.98,1056.57 L723.67,1055.77 L722.34,1054.97 L721.01,1054.18 L719.68,1053.40 L718.34,1052.64 L716.99,1051.88 L715.64,1051.13 L714.29,1050.39 L712.92,1049.67 L711.55,1048.96 L710.18,1048.25 L708.80,1047.56 L707.41,1046.88 L706.02,1046.22 L704.62,1045.56 L703.22,1044.92 L701.81,1044.30 L700.39,1043.69 L698.97,1043.11 L697.54,1042.54 L696.11,1041.99 L694.67,1041.47 L693.23,1040.96 L691.78,1040.47 L690.33,1040.00 L688.87,1039.56 L687.41,1039.14 L685.94,1038.74 L684.47,1038.36 L683.00,1038.01 L681.52,1037.69 L680.04,1037.39 L678.55,1037.12 L677.07,1036.87 L675.58,1036.65 L674.09,1036.46 L672.60,1036.30 L671.12,1036.18 L669.63,1036.10 L668.15,1036.07 L666.68,1036.09 L665.21,1036.14 L663.75,1036.24 L662.30,1036.39 L660.86,1036.59 L659.43,1036.85 L658.02,1037.16 L656.62,1037.51 L655.24,1037.90 L653.86,1038.33 L652.48,1038.75 L651.11,1039.17 L649.73,1039.59 L648.35,1040.01 L646.98,1040.44 L645.60,1040.86 L644.22,1041.28M743.96,1099.50 L742.43,1099.27 L740.90,1099.02 L739.37,1098.78 L737.85,1098.52 L736.32,1098.25 L734.80,1097.98 L733.28,1097.70 L731.76,1097.41 L730.24,1097.11 L728.73,1096.80 L727.21,1096.48 L725.70,1096.16 L724.19,1095.82 L722.68,1095.48 L721.18,1095.13 L719.67,1094.77 L718.17,1094.40 L716.67,1094.02 L715.18,1093.63 L713.69,1093.23 L712.20,1092.82 L710.71,1092.40 L709.22,1091.97 L707.74,1091.53 L706.27,1091.08 L704.79,1090.62 L703.32,1090.15 L701.85,1089.67 L700.39,1089.17 L698.93,1088.67 L697.47,1088.15 L696.02,1087.62 L694.58,1087.09 L693.14,1086.53 L691.70,1085.97 L690.27,1085.39 L688.84,1084.81 L687.42,1084.21 L686.00,1083.59 L684.60,1082.96 L683.20,1082.31 L681.81,1081.65 L680.44,1080.97 L679.07,1080.27 L677.72,1079.55 L676.37,1078.82 L675.04,1078.07 L673.72,1077.30 L672.42,1076.52 L671.12,1075.71 L669.84,1074.89 L668.58,1074.05 L667.34,1073.18 L666.11,1072.30 L664.90,1071.40 L663.70,1070.48 L662.52,1069.54 L661.37,1068.58 L660.23,1067.61 L659.11,1066.61 L658.02,1065.58 L656.98,1064.53 L655.96,1063.45 L654.99,1062.35 L654.04,1061.22 L653.14,1060.07 L652.28,1058.89 L651.47,1057.68 L650.71,1056.45 L649.99,1055.20 L649.32,1053.92 L648.68,1052.63 L648.07,1051.32 L647.47,1050.02 L646.86,1048.71 L646.25,1047.41 L645.64,1046.10 L645.03,1044.79 L644.43,1043.49 L643.82,1042.18M743.96,1099.50 L742.99,1098.29 L742.02,1097.09 L741.04,1095.89 L740.05,1094.70 L739.06,1093.51 L738.06,1092.33 L737.06,1091.15 L736.05,1089.98 L735.03,1088.82 L734.00,1087.66 L732.97,1086.51 L731.93,1085.36 L730.89,1084.22 L729.84,1083.08 L728.78,1081.96 L727.72,1080.83 L726.65,1079.72 L725.57,1078.61 L724.48,1077.51 L723.39,1076.42 L722.29,1075.33 L721.18,1074.25 L720.07,1073.18 L718.95,1072.12 L717.82,1071.07 L716.68,1070.02 L715.54,1068.98 L714.39,1067.95 L713.23,1066.93 L712.06,1065.92 L710.89,1064.92 L709.71,1063.92 L708.52,1062.94 L707.32,1061.97 L706.11,1061.01 L704.90,1060.05 L703.67,1059.11 L702.44,1058.18 L701.20,1057.26 L699.95,1056.36 L698.69,1055.47 L697.43,1054.61 L696.15,1053.75 L694.86,1052.92 L693.56,1052.11 L692.26,1051.31 L690.94,1050.53 L689.62,1049.77 L688.28,1049.03 L686.94,1048.32 L685.59,1047.62 L684.23,1046.95 L682.86,1046.30 L681.48,1045.68 L680.09,1045.08 L678.70,1044.50 L677.30,1043.95 L675.89,1043.43 L674.47,1042.93 L673.05,1042.46 L671.62,1042.04 L670.18,1041.65 L668.74,1041.32 L667.30,1041.02 L665.85,1040.77 L664.40,1040.56 L662.95,1040.41 L661.50,1040.31 L660.05,1040.26 L658.61,1040.27 L657.17,1040.32 L655.73,1040.42 L654.30,1040.55 L652.86,1040.68 L651.43,1040.80 L649.99,1040.93 L648.56,1041.05 L647.12,1041.18 L645.69,1041.31 L644.25,1041.43M729.70,1119.12 L728.26,1118.57 L726.81,1118.02 L725.37,1117.46 L723.93,1116.89 L722.49,1116.31 L721.06,1115.73 L719.63,1115.13 L718.21,1114.53 L716.78,1113.93 L715.37,1113.31 L713.95,1112.69 L712.54,1112.05 L711.13,1111.41 L709.73,1110.76 L708.33,1110.11 L706.93,1109.44 L705.54,1108.77 L704.16,1108.08 L702.77,1107.39 L701.40,1106.69 L700.03,1105.98 L698.66,1105.26 L697.29,1104.53 L695.94,1103.79 L694.59,1103.05 L693.24,1102.29 L691.90,1101.52 L690.56,1100.75 L689.23,1099.96 L687.91,1099.16 L686.60,1098.35 L685.29,1097.54 L683.98,1096.71 L682.69,1095.87 L681.40,1095.02 L680.12,1094.16 L678.84,1093.29 L677.58,1092.40 L676.32,1091.51 L675.08,1090.60 L673.85,1089.68 L672.63,1088.74 L671.42,1087.78 L670.23,1086.82 L669.06,1085.83 L667.90,1084.84 L666.75,1083.83 L665.62,1082.80 L664.50,1081.76 L663.41,1080.71 L662.33,1079.64 L661.27,1078.55 L660.23,1077.45 L659.21,1076.33 L658.21,1075.20 L657.23,1074.05 L656.28,1072.89 L655.34,1071.71 L654.43,1070.51 L653.55,1069.31 L652.70,1068.08 L651.89,1066.83 L651.13,1065.56 L650.40,1064.28 L649.71,1062.98 L649.07,1061.67 L648.47,1060.34 L647.93,1058.99 L647.44,1057.63 L647.00,1056.25 L646.61,1054.86 L646.26,1053.46 L645.93,1052.06 L645.61,1050.66 L645.29,1049.25 L644.96,1047.85 L644.64,1046.45 L644.32,1045.04 L643.99,1043.64 L643.67,1042.23M729.70,1119.12 L729.01,1117.74 L728.31,1116.36 L727.60,1114.98 L726.88,1113.61 L726.16,1112.24 L725.43,1110.88 L724.69,1109.52 L723.94,1108.16 L723.19,1106.81 L722.43,1105.47 L721.66,1104.12 L720.88,1102.79 L720.10,1101.45 L719.31,1100.13 L718.51,1098.80 L717.70,1097.48 L716.88,1096.17 L716.06,1094.86 L715.23,1093.56 L714.38,1092.27 L713.53,1090.98 L712.68,1089.69 L711.81,1088.41 L710.93,1087.14 L710.05,1085.87 L709.16,1084.61 L708.25,1083.36 L707.34,1082.11 L706.42,1080.87 L705.49,1079.64 L704.55,1078.42 L703.60,1077.20 L702.64,1075.99 L701.67,1074.79 L700.69,1073.60 L699.70,1072.41 L698.70,1071.24 L697.69,1070.07 L696.66,1068.92 L695.63,1067.77 L694.58,1066.64 L693.52,1065.53 L692.45,1064.43 L691.36,1063.35 L690.26,1062.28 L689.15,1061.23 L688.03,1060.20 L686.89,1059.18 L685.74,1058.18 L684.57,1057.20 L683.39,1056.24 L682.20,1055.30 L681.00,1054.38 L679.78,1053.48 L678.55,1052.61 L677.31,1051.76 L676.05,1050.93 L674.78,1050.12 L673.50,1049.34 L672.20,1048.59 L670.89,1047.87 L669.57,1047.20 L668.23,1046.57 L666.88,1045.98 L665.51,1045.44 L664.14,1044.93 L662.75,1044.48 L661.36,1044.08 L659.95,1043.73 L658.53,1043.44 L657.11,1043.19 L655.69,1042.99 L654.26,1042.81 L652.83,1042.64 L651.40,1042.47 L649.97,1042.29 L648.54,1042.12 L647.11,1041.94 L645.68,1041.77 L644.25,1041.59M711.68,1135.35 L710.38,1134.51 L709.08,1133.67 L707.79,1132.82 L706.50,1131.96 L705.21,1131.10 L703.93,1130.23 L702.66,1129.35 L701.39,1128.47 L700.12,1127.58 L698.87,1126.68 L697.61,1125.78 L696.36,1124.87 L695.12,1123.95 L693.88,1123.02 L692.65,1122.09 L691.42,1121.14 L690.20,1120.20 L688.99,1119.24 L687.78,1118.27 L686.58,1117.30 L685.38,1116.32 L684.20,1115.33 L683.01,1114.34 L681.84,1113.33 L680.67,1112.32 L679.51,1111.30 L678.36,1110.27 L677.22,1109.24 L676.08,1108.19 L674.95,1107.14 L673.83,1106.07 L672.72,1105.00 L671.62,1103.92 L670.53,1102.83 L669.44,1101.73 L668.37,1100.62 L667.30,1099.50 L666.25,1098.38 L665.21,1097.24 L664.18,1096.09 L663.17,1094.93 L662.17,1093.76 L661.19,1092.58 L660.23,1091.38 L659.28,1090.18 L658.35,1088.96 L657.44,1087.74 L656.55,1086.50 L655.67,1085.25 L654.82,1083.99 L653.99,1082.72 L653.18,1081.43 L652.39,1080.14 L651.62,1078.83 L650.88,1077.52 L650.17,1076.19 L649.47,1074.86 L648.80,1073.51 L648.16,1072.15 L647.55,1070.79 L646.97,1069.41 L646.44,1068.02 L645.96,1066.62 L645.51,1065.22 L645.11,1063.80 L644.75,1062.38 L644.45,1060.96 L644.20,1059.53 L644.00,1058.09 L643.86,1056.65 L643.76,1055.22 L643.71,1053.78 L643.68,1052.34 L643.66,1050.90 L643.63,1049.46 L643.61,1048.01 L643.59,1046.57 L643.56,1045.13 L643.54,1043.69 L643.51,1042.25M711.68,1135.35 L711.29,1133.85 L710.89,1132.35 L710.48,1130.86 L710.07,1129.37 L709.64,1127.88 L709.21,1126.40 L708.77,1124.91 L708.32,1123.43 L707.87,1121.95 L707.40,1120.48 L706.93,1119.01 L706.45,1117.54 L705.96,1116.07 L705.46,1114.61 L704.95,1113.15 L704.44,1111.69 L703.91,1110.23 L703.38,1108.78 L702.83,1107.34 L702.28,1105.89 L701.72,1104.46 L701.15,1103.02 L700.56,1101.59 L699.97,1100.16 L699.37,1098.74 L698.76,1097.32 L698.13,1095.91 L697.50,1094.50 L696.86,1093.09 L696.20,1091.70 L695.54,1090.30 L694.86,1088.91 L694.17,1087.53 L693.48,1086.16 L692.77,1084.79 L692.04,1083.42 L691.31,1082.06 L690.56,1080.71 L689.80,1079.37 L689.03,1078.04 L688.24,1076.72 L687.43,1075.41 L686.61,1074.11 L685.77,1072.82 L684.92,1071.55 L684.05,1070.29 L683.17,1069.05 L682.26,1067.82 L681.35,1066.60 L680.41,1065.40 L679.46,1064.21 L678.49,1063.04 L677.50,1061.89 L676.50,1060.76 L675.47,1059.65 L674.43,1058.56 L673.38,1057.49 L672.30,1056.44 L671.21,1055.41 L670.10,1054.40 L668.97,1053.43 L667.81,1052.49 L666.63,1051.60 L665.43,1050.74 L664.21,1049.93 L662.97,1049.15 L661.71,1048.41 L660.43,1047.73 L659.13,1047.10 L657.80,1046.52 L656.46,1045.99 L655.11,1045.49 L653.75,1045.02 L652.39,1044.55 L651.02,1044.09 L649.66,1043.62 L648.30,1043.15 L646.94,1042.68 L645.57,1042.21 L644.21,1041.74M690.68,1147.47 L689.58,1146.38 L688.49,1145.29 L687.40,1144.19 L686.31,1143.08 L685.24,1141.97 L684.17,1140.86 L683.10,1139.73 L682.04,1138.61 L680.99,1137.47 L679.95,1136.33 L678.91,1135.19 L677.87,1134.03 L676.85,1132.88 L675.83,1131.71 L674.82,1130.54 L673.82,1129.37 L672.82,1128.19 L671.83,1127.00 L670.85,1125.80 L669.88,1124.60 L668.91,1123.40 L667.96,1122.18 L667.01,1120.96 L666.07,1119.74 L665.14,1118.50 L664.21,1117.26 L663.30,1116.02 L662.40,1114.77 L661.50,1113.51 L660.62,1112.24 L659.75,1110.97 L658.88,1109.69 L658.03,1108.40 L657.19,1107.11 L656.35,1105.81 L655.53,1104.50 L654.73,1103.19 L653.93,1101.86 L653.14,1100.53 L652.38,1099.20 L651.63,1097.85 L650.90,1096.50 L650.18,1095.14 L649.49,1093.77 L648.81,1092.40 L648.16,1091.01 L647.52,1089.62 L646.91,1088.23 L646.31,1086.82 L645.74,1085.41 L645.19,1084.00 L644.66,1082.57 L644.16,1081.14 L643.68,1079.71 L643.23,1078.27 L642.81,1076.82 L642.41,1075.37 L642.03,1073.91 L641.69,1072.45 L641.37,1070.99 L641.09,1069.52 L640.86,1068.05 L640.68,1066.59 L640.54,1065.12 L640.44,1063.65 L640.39,1062.19 L640.38,1060.73 L640.43,1059.28 L640.54,1057.83 L640.70,1056.40 L640.90,1054.97 L641.15,1053.55 L641.43,1052.14 L641.70,1050.72 L641.98,1049.31 L642.25,1047.90 L642.53,1046.48 L642.80,1045.07 L643.08,1043.65 L643.36,1042.24M690.68,1147.47 L690.61,1145.93 L690.53,1144.38 L690.44,1142.83 L690.34,1141.29 L690.24,1139.75 L690.13,1138.20 L690.00,1136.66 L689.87,1135.12 L689.74,1133.58 L689.59,1132.04 L689.43,1130.50 L689.27,1128.96 L689.09,1127.43 L688.91,1125.89 L688.72,1124.36 L688.51,1122.82 L688.30,1121.29 L688.08,1119.76 L687.85,1118.24 L687.61,1116.71 L687.36,1115.18 L687.09,1113.66 L686.82,1112.14 L686.54,1110.62 L686.25,1109.10 L685.94,1107.59 L685.63,1106.08 L685.30,1104.57 L684.96,1103.06 L684.62,1101.56 L684.25,1100.06 L683.88,1098.56 L683.50,1097.06 L683.10,1095.57 L682.69,1094.08 L682.27,1092.60 L681.83,1091.12 L681.38,1089.64 L680.92,1088.17 L680.44,1086.70 L679.94,1085.25 L679.42,1083.80 L678.89,1082.36 L678.34,1080.93 L677.77,1079.51 L677.18,1078.09 L676.57,1076.69 L675.95,1075.30 L675.30,1073.92 L674.64,1072.55 L673.95,1071.19 L673.25,1069.85 L672.52,1068.52 L671.77,1067.20 L671.00,1065.90 L670.21,1064.62 L669.40,1063.35 L668.57,1062.10 L667.72,1060.86 L666.84,1059.65 L665.93,1058.46 L665.00,1057.31 L664.03,1056.19 L663.03,1055.10 L662.01,1054.05 L660.96,1053.03 L659.88,1052.05 L658.76,1051.12 L657.62,1050.23 L656.45,1049.39 L655.25,1048.58 L654.03,1047.82 L652.79,1047.08 L651.56,1046.34 L650.32,1045.59 L649.09,1044.85 L647.85,1044.11 L646.62,1043.37 L645.38,1042.63 L644.15,1041.89M667.62,1154.97 L666.77,1153.67 L665.92,1152.37 L665.09,1151.07 L664.26,1149.77 L663.44,1148.46 L662.62,1147.14 L661.81,1145.82 L661.01,1144.50 L660.22,1143.17 L659.43,1141.84 L658.65,1140.50 L657.88,1139.16 L657.12,1137.81 L656.37,1136.46 L655.62,1135.11 L654.88,1133.75 L654.16,1132.39 L653.44,1131.02 L652.72,1129.65 L652.02,1128.27 L651.33,1126.89 L650.65,1125.50 L649.97,1124.11 L649.31,1122.72 L648.65,1121.32 L648.01,1119.92 L647.38,1118.51 L646.75,1117.09 L646.14,1115.68 L645.54,1114.25 L644.95,1112.83 L644.37,1111.40 L643.80,1109.96 L643.25,1108.52 L642.70,1107.07 L642.17,1105.63 L641.65,1104.17 L641.15,1102.71 L640.66,1101.25 L640.19,1099.78 L639.73,1098.31 L639.30,1096.84 L638.89,1095.36 L638.49,1093.88 L638.12,1092.39 L637.76,1090.90 L637.43,1089.41 L637.12,1087.92 L636.83,1086.42 L636.56,1084.92 L636.32,1083.42 L636.10,1081.92 L635.90,1080.41 L635.74,1078.91 L635.59,1077.41 L635.48,1075.90 L635.39,1074.40 L635.33,1072.90 L635.29,1071.40 L635.28,1069.90 L635.32,1068.41 L635.40,1066.92 L635.53,1065.45 L635.69,1063.99 L635.90,1062.53 L636.15,1061.09 L636.45,1059.66 L636.81,1058.25 L637.21,1056.86 L637.66,1055.49 L638.16,1054.14 L638.70,1052.80 L639.26,1051.47 L639.82,1050.15 L640.39,1048.82 L640.95,1047.50 L641.51,1046.17 L642.08,1044.84 L642.64,1043.52 L643.21,1042.19M667.62,1154.97 L667.87,1153.44 L668.11,1151.91 L668.35,1150.38 L668.57,1148.85 L668.79,1147.32 L669.00,1145.78 L669.20,1144.25 L669.40,1142.72 L669.58,1141.18 L669.76,1139.64 L669.92,1138.11 L670.08,1136.57 L670.23,1135.03 L670.37,1133.49 L670.50,1131.95 L670.62,1130.41 L670.73,1128.86 L670.83,1127.32 L670.93,1125.78 L671.01,1124.24 L671.08,1122.69 L671.14,1121.15 L671.19,1119.60 L671.23,1118.06 L671.26,1116.51 L671.28,1114.97 L671.28,1113.43 L671.28,1111.88 L671.26,1110.34 L671.23,1108.79 L671.19,1107.25 L671.14,1105.71 L671.07,1104.16 L670.99,1102.62 L670.90,1101.08 L670.80,1099.54 L670.68,1098.00 L670.54,1096.46 L670.40,1094.93 L670.23,1093.40 L670.05,1091.87 L669.84,1090.34 L669.62,1088.82 L669.38,1087.31 L669.12,1085.80 L668.83,1084.30 L668.53,1082.80 L668.21,1081.31 L667.87,1079.82 L667.50,1078.34 L667.11,1076.87 L666.70,1075.41 L666.27,1073.96 L665.81,1072.52 L665.33,1071.09 L664.82,1069.67 L664.29,1068.26 L663.74,1066.86 L663.16,1065.48 L662.56,1064.10 L661.92,1062.76 L661.24,1061.43 L660.53,1060.14 L659.78,1058.87 L659.00,1057.62 L658.18,1056.41 L657.33,1055.22 L656.43,1054.08 L655.49,1052.97 L654.52,1051.91 L653.52,1050.87 L652.48,1049.87 L651.43,1048.89 L650.38,1047.90 L649.32,1046.92 L648.27,1045.94 L647.21,1044.96 L646.16,1043.98 L645.11,1043.00 L644.05,1042.01M643.50,1157.50 L642.94,1156.06 L642.38,1154.61 L641.83,1153.17 L641.29,1151.72 L640.76,1150.26 L640.24,1148.81 L639.72,1147.35 L639.21,1145.89 L638.71,1144.42 L638.22,1142.96 L637.74,1141.49 L637.26,1140.02 L636.80,1138.54 L636.34,1137.06 L635.89,1135.58 L635.46,1134.10 L635.03,1132.62 L634.61,1131.13 L634.20,1129.64 L633.80,1128.15 L633.41,1126.65 L633.02,1125.15 L632.65,1123.65 L632.29,1122.15 L631.95,1120.65 L631.61,1119.14 L631.28,1117.63 L630.96,1116.12 L630.66,1114.60 L630.37,1113.09 L630.09,1111.57 L629.82,1110.05 L629.56,1108.53 L629.32,1107.00 L629.09,1105.48 L628.87,1103.95 L628.67,1102.42 L628.47,1100.89 L628.30,1099.35 L628.14,1097.82 L628.00,1096.29 L627.89,1094.75 L627.79,1093.22 L627.71,1091.69 L627.65,1090.16 L627.62,1088.63 L627.60,1087.10 L627.61,1085.57 L627.63,1084.05 L627.68,1082.53 L627.76,1081.01 L627.86,1079.50 L627.98,1077.99 L628.13,1076.48 L628.30,1074.98 L628.50,1073.49 L628.73,1072.00 L628.98,1070.51 L629.25,1069.04 L629.56,1067.57 L629.90,1066.12 L630.29,1064.69 L630.72,1063.27 L631.19,1061.87 L631.69,1060.49 L632.24,1059.13 L632.83,1057.80 L633.47,1056.49 L634.15,1055.22 L634.88,1053.97 L635.65,1052.75 L636.45,1051.55 L637.28,1050.37 L638.11,1049.19 L638.93,1048.01 L639.76,1046.84 L640.59,1045.66 L641.41,1044.48 L642.24,1043.30 L643.07,1042.12M643.50,1157.50 L644.06,1156.06 L644.62,1154.61 L645.17,1153.17 L645.71,1151.72 L646.24,1150.26 L646.76,1148.81 L647.28,1147.35 L647.79,1145.89 L648.29,1144.42 L648.78,1142.96 L649.26,1141.49 L649.74,1140.02 L650.20,1138.54 L650.66,1137.06 L651.11,1135.58 L651.54,1134.10 L651.97,1132.62 L652.39,1131.13 L652.80,1129.64 L653.20,1128.15 L653.59,1126.65 L653.98,1125.15 L654.35,1123.65 L654.71,1122.15 L655.05,1120.65 L655.39,1119.14 L655.72,1117.63 L656.04,1116.12 L656.34,1114.60 L656.63,1113.09 L656.91,1111.57 L657.18,1110.05 L657.44,1108.53 L657.68,1107.00 L657.91,1105.48 L658.13,1103.95 L658.33,1102.42 L658.53,1100.89 L658.70,1099.35 L658.86,1097.82 L659.00,1096.29 L659.11,1094.75 L659.21,1093.22 L659.29,1091.69 L659.35,1090.16 L659.38,1088.63 L659.40,1087.10 L659.39,1085.57 L659.37,1084.05 L659.32,1082.53 L659.24,1081.01 L659.14,1079.50 L659.02,1077.99 L658.87,1076.48 L658.70,1074.98 L658.50,1073.49 L658.27,1072.00 L658.02,1070.51 L657.75,1069.04 L657.44,1067.57 L657.10,1066.12 L656.71,1064.69 L656.28,1063.27 L655.81,1061.87 L655.31,1060.49 L654.76,1059.13 L654.17,1057.80 L653.53,1056.49 L652.85,1055.22 L652.12,1053.97 L651.35,1052.75 L650.55,1051.55 L649.72,1050.37 L648.89,1049.19 L648.07,1048.01 L647.24,1046.84 L646.41,1045.66 L645.59,1044.48 L644.76,1043.30 L643.93,1042.12M619.38,1154.97 L619.13,1153.44 L618.89,1151.91 L618.65,1150.38 L618.43,1148.85 L618.21,1147.32 L618.00,1145.78 L617.80,1144.25 L617.60,1142.72 L617.42,1141.18 L617.24,1139.64 L617.08,1138.11 L616.92,1136.57 L616.77,1135.03 L616.63,1133.49 L616.50,1131.95 L616.38,1130.41 L616.27,1128.86 L616.17,1127.32 L616.07,1125.78 L615.99,1124.24 L615.92,1122.69 L615.86,1121.15 L615.81,1119.60 L615.77,1118.06 L615.74,1116.51 L615.72,1114.97 L615.72,1113.43 L615.72,1111.88 L615.74,1110.34 L615.77,1108.79 L615.81,1107.25 L615.86,1105.71 L615.93,1104.16 L616.01,1102.62 L616.10,1101.08 L616.20,1099.54 L616.32,1098.00 L616.46,1096.46 L616.60,1094.93 L616.77,1093.40 L616.95,1091.87 L617.16,1090.34 L617.38,1088.82 L617.62,1087.31 L617.88,1085.80 L618.17,1084.30 L618.47,1082.80 L618.79,1081.31 L619.13,1079.82 L619.50,1078.34 L619.89,1076.87 L620.30,1075.41 L620.73,1073.96 L621.19,1072.52 L621.67,1071.09 L622.18,1069.67 L622.71,1068.26 L623.26,1066.86 L623.84,1065.48 L624.44,1064.10 L625.08,1062.76 L625.76,1061.43 L626.47,1060.14 L627.22,1058.87 L628.00,1057.62 L628.82,1056.41 L629.67,1055.22 L630.57,1054.08 L631.51,1052.97 L632.48,1051.91 L633.48,1050.87 L634.52,1049.87 L635.57,1048.89 L636.62,1047.90 L637.68,1046.92 L638.73,1045.94 L639.79,1044.96 L640.84,1043.98 L641.89,1043.00 L642.95,1042.01M619.38,1154.97 L620.23,1153.67 L621.08,1152.37 L621.91,1151.07 L622.74,1149.77 L623.56,1148.46 L624.38,1147.14 L625.19,1145.82 L625.99,1144.50 L626.78,1143.17 L627.57,1141.84 L628.35,1140.50 L629.12,1139.16 L629.88,1137.81 L630.63,1136.46 L631.38,1135.11 L632.12,1133.75 L632.84,1132.39 L633.56,1131.02 L634.28,1129.65 L634.98,1128.27 L635.67,1126.89 L636.35,1125.50 L637.03,1124.11 L637.69,1122.72 L638.35,1121.32 L638.99,1119.92 L639.62,1118.51 L640.25,1117.09 L640.86,1115.68 L641.46,1114.25 L642.05,1112.83 L642.63,1111.40 L643.20,1109.96 L643.75,1108.52 L644.30,1107.07 L644.83,1105.63 L645.35,1104.17 L645.85,1102.71 L646.34,1101.25 L646.81,1099.78 L647.27,1098.31 L647.70,1096.84 L648.11,1095.36 L648.51,1093.88 L648.88,1092.39 L649.24,1090.90 L649.57,1089.41 L649.88,1087.92 L650.17,1086.42 L650.44,1084.92 L650.68,1083.42 L650.90,1081.92 L651.10,1080.41 L651.26,1078.91 L651.41,1077.41 L651.52,1075.90 L651.61,1074.40 L651.67,1072.90 L651.71,1071.40 L651.72,1069.90 L651.68,1068.41 L651.60,1066.92 L651.47,1065.45 L651.31,1063.99 L651.10,1062.53 L650.85,1061.09 L650.55,1059.66 L650.19,1058.25 L649.79,1056.86 L649.34,1055.49 L648.84,1054.14 L648.30,1052.80 L647.74,1051.47 L647.18,1050.15 L646.61,1048.82 L646.05,1047.50 L645.49,1046.17 L644.92,1044.84 L644.36,1043.52 L643.79,1042.19M596.32,1147.47 L596.39,1145.93 L596.47,1144.38 L596.56,1142.83 L596.66,1141.29 L596.76,1139.75 L596.87,1138.20 L597.00,1136.66 L597.13,1135.12 L597.26,1133.58 L597.41,1132.04 L597.57,1130.50 L597.73,1128.96 L597.91,1127.43 L598.09,1125.89 L598.28,1124.36 L598.49,1122.82 L598.70,1121.29 L598.92,1119.76 L599.15,1118.24 L599.39,1116.71 L599.64,1115.18 L599.91,1113.66 L600.18,1112.14 L600.46,1110.62 L600.75,1109.10 L601.06,1107.59 L601.37,1106.08 L601.70,1104.57 L602.04,1103.06 L602.38,1101.56 L602.75,1100.06 L603.12,1098.56 L603.50,1097.06 L603.90,1095.57 L604.31,1094.08 L604.73,1092.60 L605.17,1091.12 L605.62,1089.64 L606.08,1088.17 L606.56,1086.70 L607.06,1085.25 L607.58,1083.80 L608.11,1082.36 L608.66,1080.93 L609.23,1079.51 L609.82,1078.09 L610.43,1076.69 L611.05,1075.30 L611.70,1073.92 L612.36,1072.55 L613.05,1071.19 L613.75,1069.85 L614.48,1068.52 L615.23,1067.20 L616.00,1065.90 L616.79,1064.62 L617.60,1063.35 L618.43,1062.10 L619.28,1060.86 L620.16,1059.65 L621.07,1058.46 L622.00,1057.31 L622.97,1056.19 L623.97,1055.10 L624.99,1054.05 L626.04,1053.03 L627.12,1052.05 L628.24,1051.12 L629.38,1050.23 L630.55,1049.39 L631.75,1048.58 L632.97,1047.82 L634.21,1047.08 L635.44,1046.34 L636.68,1045.59 L637.91,1044.85 L639.15,1044.11 L640.38,1043.37 L641.62,1042.63 L642.85,1041.89M596.32,1147.47 L597.42,1146.38 L598.51,1145.29 L599.60,1144.19 L600.69,1143.08 L601.76,1141.97 L602.83,1140.86 L603.90,1139.73 L604.96,1138.61 L606.01,1137.47 L607.05,1136.33 L608.09,1135.19 L609.13,1134.03 L610.15,1132.88 L611.17,1131.71 L612.18,1130.54 L613.18,1129.37 L614.18,1128.19 L615.17,1127.00 L616.15,1125.80 L617.12,1124.60 L618.09,1123.40 L619.04,1122.18 L619.99,1120.96 L620.93,1119.74 L621.86,1118.50 L622.79,1117.26 L623.70,1116.02 L624.60,1114.77 L625.50,1113.51 L626.38,1112.24 L627.25,1110.97 L628.12,1109.69 L628.97,1108.40 L629.81,1107.11 L630.65,1105.81 L631.47,1104.50 L632.27,1103.19 L633.07,1101.86 L633.86,1100.53 L634.62,1099.20 L635.37,1097.85 L636.10,1096.50 L636.82,1095.14 L637.51,1093.77 L638.19,1092.40 L638.84,1091.01 L639.48,1089.62 L640.09,1088.23 L640.69,1086.82 L641.26,1085.41 L641.81,1084.00 L642.34,1082.57 L642.84,1081.14 L643.32,1079.71 L643.77,1078.27 L644.19,1076.82 L644.59,1075.37 L644.97,1073.91 L645.31,1072.45 L645.63,1070.99 L645.91,1069.52 L646.14,1068.05 L646.32,1066.59 L646.46,1065.12 L646.56,1063.65 L646.61,1062.19 L646.62,1060.73 L646.57,1059.28 L646.46,1057.83 L646.30,1056.40 L646.10,1054.97 L645.85,1053.55 L645.57,1052.14 L645.30,1050.72 L645.02,1049.31 L644.75,1047.90 L644.47,1046.48 L644.20,1045.07 L643.92,1043.65 L643.64,1042.24M575.32,1135.35 L575.71,1133.85 L576.11,1132.35 L576.52,1130.86 L576.93,1129.37 L577.36,1127.88 L577.79,1126.40 L578.23,1124.91 L578.68,1123.43 L579.13,1121.95 L579.60,1120.48 L580.07,1119.01 L580.55,1117.54 L581.04,1116.07 L581.54,1114.61 L582.05,1113.15 L582.56,1111.69 L583.09,1110.23 L583.62,1108.78 L584.17,1107.34 L584.72,1105.89 L585.28,1104.46 L585.85,1103.02 L586.44,1101.59 L587.03,1100.16 L587.63,1098.74 L588.24,1097.32 L588.87,1095.91 L589.50,1094.50 L590.14,1093.09 L590.80,1091.70 L591.46,1090.30 L592.14,1088.91 L592.83,1087.53 L593.52,1086.16 L594.23,1084.79 L594.96,1083.42 L595.69,1082.06 L596.44,1080.71 L597.20,1079.37 L597.97,1078.04 L598.76,1076.72 L599.57,1075.41 L600.39,1074.11 L601.23,1072.82 L602.08,1071.55 L602.95,1070.29 L603.83,1069.05 L604.74,1067.82 L605.65,1066.60 L606.59,1065.40 L607.54,1064.21 L608.51,1063.04 L609.50,1061.89 L610.50,1060.76 L611.53,1059.65 L612.57,1058.56 L613.62,1057.49 L614.70,1056.44 L615.79,1055.41 L616.90,1054.40 L618.03,1053.43 L619.19,1052.49 L620.37,1051.60 L621.57,1050.74 L622.79,1049.93 L624.03,1049.15 L625.29,1048.41 L626.57,1047.73 L627.87,1047.10 L629.20,1046.52 L630.54,1045.99 L631.89,1045.49 L633.25,1045.02 L634.61,1044.55 L635.98,1044.09 L637.34,1043.62 L638.70,1043.15 L640.06,1042.68 L641.43,1042.21 L642.79,1041.74M575.32,1135.35 L576.62,1134.51 L577.92,1133.67 L579.21,1132.82 L580.50,1131.96 L581.79,1131.10 L583.07,1130.23 L584.34,1129.35 L585.61,1128.47 L586.88,1127.58 L588.13,1126.68 L589.39,1125.78 L590.64,1124.87 L591.88,1123.95 L593.12,1123.02 L594.35,1122.09 L595.58,1121.14 L596.80,1120.20 L598.01,1119.24 L599.22,1118.27 L600.42,1117.30 L601.62,1116.32 L602.80,1115.33 L603.99,1114.34 L605.16,1113.33 L606.33,1112.32 L607.49,1111.30 L608.64,1110.27 L609.78,1109.24 L610.92,1108.19 L612.05,1107.14 L613.17,1106.07 L614.28,1105.00 L615.38,1103.92 L616.47,1102.83 L617.56,1101.73 L618.63,1100.62 L619.70,1099.50 L620.75,1098.38 L621.79,1097.24 L622.82,1096.09 L623.83,1094.93 L624.83,1093.76 L625.81,1092.58 L626.77,1091.38 L627.72,1090.18 L628.65,1088.96 L629.56,1087.74 L630.45,1086.50 L631.33,1085.25 L632.18,1083.99 L633.01,1082.72 L633.82,1081.43 L634.61,1080.14 L635.38,1078.83 L636.12,1077.52 L636.83,1076.19 L637.53,1074.86 L638.20,1073.51 L638.84,1072.15 L639.45,1070.79 L640.03,1069.41 L640.56,1068.02 L641.04,1066.62 L641.49,1065.22 L641.89,1063.80 L642.25,1062.38 L642.55,1060.96 L642.80,1059.53 L643.00,1058.09 L643.14,1056.65 L643.24,1055.22 L643.29,1053.78 L643.32,1052.34 L643.34,1050.90 L643.37,1049.46 L643.39,1048.01 L643.41,1046.57 L643.44,1045.13 L643.46,1043.69 L643.49,1042.25M557.30,1119.12 L557.99,1117.74 L558.69,1116.36 L559.40,1114.98 L560.12,1113.61 L560.84,1112.24 L561.57,1110.88 L562.31,1109.52 L563.06,1108.16 L563.81,1106.81 L564.57,1105.47 L565.34,1104.12 L566.12,1102.79 L566.90,1101.45 L567.69,1100.13 L568.49,1098.80 L569.30,1097.48 L570.12,1096.17 L570.94,1094.86 L571.77,1093.56 L572.62,1092.27 L573.47,1090.98 L574.32,1089.69 L575.19,1088.41 L576.07,1087.14 L576.95,1085.87 L577.84,1084.61 L578.75,1083.36 L579.66,1082.11 L580.58,1080.87 L581.51,1079.64 L582.45,1078.42 L583.40,1077.20 L584.36,1075.99 L585.33,1074.79 L586.31,1073.60 L587.30,1072.41 L588.30,1071.24 L589.31,1070.07 L590.34,1068.92 L591.37,1067.77 L592.42,1066.64 L593.48,1065.53 L594.55,1064.43 L595.64,1063.35 L596.74,1062.28 L597.85,1061.23 L598.97,1060.20 L600.11,1059.18 L601.26,1058.18 L602.43,1057.20 L603.61,1056.24 L604.80,1055.30 L606.00,1054.38 L607.22,1053.48 L608.45,1052.61 L609.69,1051.76 L610.95,1050.93 L612.22,1050.12 L613.50,1049.34 L614.80,1048.59 L616.11,1047.87 L617.43,1047.20 L618.77,1046.57 L620.12,1045.98 L621.49,1045.44 L622.86,1044.93 L624.25,1044.48 L625.64,1044.08 L627.05,1043.73 L628.47,1043.44 L629.89,1043.19 L631.31,1042.99 L632.74,1042.81 L634.17,1042.64 L635.60,1042.47 L637.03,1042.29 L638.46,1042.12 L639.89,1041.94 L641.32,1041.77 L642.75,1041.59M557.30,1119.12 L558.74,1118.57 L560.19,1118.02 L561.63,1117.46 L563.07,1116.89 L564.51,1116.31 L565.94,1115.73 L567.37,1115.13 L568.79,1114.53 L570.22,1113.93 L571.63,1113.31 L573.05,1112.69 L574.46,1112.05 L575.87,1111.41 L577.27,1110.76 L578.67,1110.11 L580.07,1109.44 L581.46,1108.77 L582.84,1108.08 L584.23,1107.39 L585.60,1106.69 L586.97,1105.98 L588.34,1105.26 L589.71,1104.53 L591.06,1103.79 L592.41,1103.05 L593.76,1102.29 L595.10,1101.52 L596.44,1100.75 L597.77,1099.96 L599.09,1099.16 L600.40,1098.35 L601.71,1097.54 L603.02,1096.71 L604.31,1095.87 L605.60,1095.02 L606.88,1094.16 L608.16,1093.29 L609.42,1092.40 L610.68,1091.51 L611.92,1090.60 L613.15,1089.68 L614.37,1088.74 L615.58,1087.78 L616.77,1086.82 L617.94,1085.83 L619.10,1084.84 L620.25,1083.83 L621.38,1082.80 L622.50,1081.76 L623.59,1080.71 L624.67,1079.64 L625.73,1078.55 L626.77,1077.45 L627.79,1076.33 L628.79,1075.20 L629.77,1074.05 L630.72,1072.89 L631.66,1071.71 L632.57,1070.51 L633.45,1069.31 L634.30,1068.08 L635.11,1066.83 L635.87,1065.56 L636.60,1064.28 L637.29,1062.98 L637.93,1061.67 L638.53,1060.34 L639.07,1058.99 L639.56,1057.63 L640.00,1056.25 L640.39,1054.86 L640.74,1053.46 L641.07,1052.06 L641.39,1050.66 L641.71,1049.25 L642.04,1047.85 L642.36,1046.45 L642.68,1045.04 L643.01,1043.64 L643.33,1042.23M543.04,1099.50 L544.01,1098.29 L544.98,1097.09 L545.96,1095.89 L546.95,1094.70 L547.94,1093.51 L548.94,1092.33 L549.94,1091.15 L550.95,1089.98 L551.97,1088.82 L553.00,1087.66 L554.03,1086.51 L555.07,1085.36 L556.11,1084.22 L557.16,1083.08 L558.22,1081.96 L559.28,1080.83 L560.35,1079.72 L561.43,1078.61 L562.52,1077.51 L563.61,1076.42 L564.71,1075.33 L565.82,1074.25 L566.93,1073.18 L568.05,1072.12 L569.18,1071.07 L570.32,1070.02 L571.46,1068.98 L572.61,1067.95 L573.77,1066.93 L574.94,1065.92 L576.11,1064.92 L577.29,1063.92 L578.48,1062.94 L579.68,1061.97 L580.89,1061.01 L582.10,1060.05 L583.33,1059.11 L584.56,1058.18 L585.80,1057.26 L587.05,1056.36 L588.31,1055.47 L589.57,1054.61 L590.85,1053.75 L592.14,1052.92 L593.44,1052.11 L594.74,1051.31 L596.06,1050.53 L597.38,1049.77 L598.72,1049.03 L600.06,1048.32 L601.41,1047.62 L602.77,1046.95 L604.14,1046.30 L605.52,1045.68 L606.91,1045.08 L608.30,1044.50 L609.70,1043.95 L611.11,1043.43 L612.53,1042.93 L613.95,1042.46 L615.38,1042.04 L616.82,1041.65 L618.26,1041.32 L619.70,1041.02 L621.15,1040.77 L622.60,1040.56 L624.05,1040.41 L625.50,1040.31 L626.95,1040.26 L628.39,1040.27 L629.83,1040.32 L631.27,1040.42 L632.70,1040.55 L634.14,1040.68 L635.57,1040.80 L637.01,1040.93 L638.44,1041.05 L639.88,1041.18 L641.31,1041.31 L642.75,1041.43M543.04,1099.50 L544.57,1099.27 L546.10,1099.02 L547.63,1098.78 L549.15,1098.52 L550.68,1098.25 L552.20,1097.98 L553.72,1097.70 L555.24,1097.41 L556.76,1097.11 L558.27,1096.80 L559.79,1096.48 L561.30,1096.16 L562.81,1095.82 L564.32,1095.48 L565.82,1095.13 L567.33,1094.77 L568.83,1094.40 L570.33,1094.02 L571.82,1093.63 L573.31,1093.23 L574.80,1092.82 L576.29,1092.40 L577.78,1091.97 L579.26,1091.53 L580.73,1091.08 L582.21,1090.62 L583.68,1090.15 L585.15,1089.67 L586.61,1089.17 L588.07,1088.67 L589.53,1088.15 L590.98,1087.62 L592.42,1087.09 L593.86,1086.53 L595.30,1085.97 L596.73,1085.39 L598.16,1084.81 L599.58,1084.21 L601.00,1083.59 L602.40,1082.96 L603.80,1082.31 L605.19,1081.65 L606.56,1080.97 L607.93,1080.27 L609.28,1079.55 L610.63,1078.82 L611.96,1078.07 L613.28,1077.30 L614.58,1076.52 L615.88,1075.71 L617.16,1074.89 L618.42,1074.05 L619.66,1073.18 L620.89,1072.30 L622.10,1071.40 L623.30,1070.48 L624.48,1069.54 L625.63,1068.58 L626.77,1067.61 L627.89,1066.61 L628.98,1065.58 L630.02,1064.53 L631.04,1063.45 L632.01,1062.35 L632.96,1061.22 L633.86,1060.07 L634.72,1058.89 L635.53,1057.68 L636.29,1056.45 L637.01,1055.20 L637.68,1053.92 L638.32,1052.63 L638.93,1051.32 L639.53,1050.02 L640.14,1048.71 L640.75,1047.41 L641.36,1046.10 L641.97,1044.79 L642.57,1043.49 L643.18,1042.18M533.18,1077.35 L534.37,1076.37 L535.58,1075.39 L536.78,1074.42 L538.00,1073.46 L539.21,1072.51 L540.44,1071.56 L541.66,1070.62 L542.90,1069.68 L544.13,1068.75 L545.38,1067.83 L546.63,1066.92 L547.88,1066.01 L549.14,1065.11 L550.40,1064.22 L551.67,1063.34 L552.94,1062.47 L554.22,1061.60 L555.51,1060.74 L556.80,1059.89 L558.10,1059.05 L559.40,1058.21 L560.70,1057.39 L562.02,1056.57 L563.33,1055.77 L564.66,1054.97 L565.99,1054.18 L567.32,1053.40 L568.66,1052.64 L570.01,1051.88 L571.36,1051.13 L572.71,1050.39 L574.08,1049.67 L575.45,1048.96 L576.82,1048.25 L578.20,1047.56 L579.59,1046.88 L580.98,1046.22 L582.38,1045.56 L583.78,1044.92 L585.19,1044.30 L586.61,1043.69 L588.03,1043.11 L589.46,1042.54 L590.89,1041.99 L592.33,1041.47 L593.77,1040.96 L595.22,1040.47 L596.67,1040.00 L598.13,1039.56 L599.59,1039.14 L601.06,1038.74 L602.53,1038.36 L604.00,1038.01 L605.48,1037.69 L606.96,1037.39 L608.45,1037.12 L609.93,1036.87 L611.42,1036.65 L612.91,1036.46 L614.40,1036.30 L615.88,1036.18 L617.37,1036.10 L618.85,1036.07 L620.32,1036.09 L621.79,1036.14 L623.25,1036.24 L624.70,1036.39 L626.14,1036.59 L627.57,1036.85 L628.98,1037.16 L630.38,1037.51 L631.76,1037.90 L633.14,1038.33 L634.52,1038.75 L635.89,1039.17 L637.27,1039.59 L638.65,1040.01 L640.02,1040.44 L641.40,1040.86 L642.78,1041.28M533.18,1077.35 L534.72,1077.44 L536.27,1077.52 L537.81,1077.59 L539.36,1077.66 L540.91,1077.71 L542.45,1077.76 L544.00,1077.80 L545.55,1077.83 L547.09,1077.86 L548.64,1077.87 L550.19,1077.88 L551.73,1077.87 L553.28,1077.86 L554.82,1077.84 L556.37,1077.81 L557.92,1077.77 L559.46,1077.72 L561.01,1077.66 L562.55,1077.58 L564.09,1077.50 L565.64,1077.41 L567.18,1077.31 L568.72,1077.20 L570.26,1077.08 L571.80,1076.95 L573.34,1076.80 L574.87,1076.65 L576.41,1076.48 L577.94,1076.30 L579.47,1076.11 L581.01,1075.91 L582.53,1075.70 L584.06,1075.47 L585.59,1075.23 L587.11,1074.98 L588.63,1074.71 L590.15,1074.43 L591.66,1074.14 L593.18,1073.83 L594.68,1073.51 L596.18,1073.17 L597.68,1072.81 L599.17,1072.43 L600.65,1072.03 L602.12,1071.61 L603.59,1071.17 L605.04,1070.71 L606.49,1070.23 L607.94,1069.74 L609.37,1069.22 L610.79,1068.68 L612.20,1068.12 L613.60,1067.54 L614.98,1066.93 L616.36,1066.30 L617.72,1065.65 L619.06,1064.98 L620.39,1064.28 L621.71,1063.56 L623.01,1062.81 L624.29,1062.04 L625.53,1061.23 L626.75,1060.38 L627.93,1059.50 L629.09,1058.60 L630.21,1057.66 L631.30,1056.68 L632.34,1055.67 L633.34,1054.63 L634.30,1053.55 L635.23,1052.44 L636.12,1051.31 L636.98,1050.16 L637.85,1049.01 L638.72,1047.86 L639.58,1046.71 L640.45,1045.55 L641.31,1044.40 L642.18,1043.25 L643.05,1042.10M528.14,1053.63 L529.51,1052.91 L530.89,1052.21 L532.27,1051.52 L533.66,1050.83 L535.05,1050.15 L536.44,1049.47 L537.84,1048.81 L539.24,1048.15 L540.64,1047.50 L542.05,1046.86 L543.46,1046.22 L544.87,1045.60 L546.29,1044.98 L547.71,1044.37 L549.14,1043.77 L550.56,1043.18 L552.00,1042.60 L553.43,1042.02 L554.87,1041.46 L556.31,1040.91 L557.76,1040.36 L559.21,1039.83 L560.66,1039.30 L562.12,1038.79 L563.58,1038.28 L565.04,1037.79 L566.51,1037.30 L567.98,1036.83 L569.45,1036.37 L570.93,1035.92 L572.41,1035.48 L573.90,1035.06 L575.38,1034.64 L576.87,1034.24 L578.37,1033.85 L579.86,1033.48 L581.36,1033.11 L582.87,1032.76 L584.37,1032.43 L585.88,1032.11 L587.39,1031.82 L588.91,1031.54 L590.42,1031.28 L591.94,1031.04 L593.45,1030.83 L594.97,1030.63 L596.49,1030.46 L598.01,1030.30 L599.53,1030.17 L601.04,1030.06 L602.56,1029.97 L604.08,1029.91 L605.59,1029.88 L607.11,1029.87 L608.62,1029.88 L610.12,1029.93 L611.63,1029.99 L613.13,1030.09 L614.62,1030.21 L616.11,1030.36 L617.59,1030.55 L619.06,1030.79 L620.51,1031.07 L621.95,1031.38 L623.38,1031.74 L624.79,1032.14 L626.18,1032.59 L627.54,1033.09 L628.88,1033.64 L630.20,1034.23 L631.49,1034.87 L632.76,1035.54 L634.02,1036.24 L635.28,1036.94 L636.54,1037.64 L637.80,1038.34 L639.06,1039.04 L640.32,1039.74 L641.58,1040.44 L642.84,1041.13M528.14,1053.63 L529.63,1054.03 L531.12,1054.44 L532.62,1054.83 L534.12,1055.21 L535.62,1055.59 L537.12,1055.96 L538.63,1056.32 L540.13,1056.67 L541.64,1057.02 L543.15,1057.35 L544.66,1057.68 L546.18,1058.00 L547.69,1058.31 L549.21,1058.61 L550.73,1058.90 L552.25,1059.18 L553.77,1059.45 L555.29,1059.71 L556.82,1059.97 L558.34,1060.21 L559.87,1060.44 L561.40,1060.66 L562.93,1060.87 L564.46,1061.07 L565.99,1061.26 L567.53,1061.44 L569.06,1061.61 L570.60,1061.77 L572.14,1061.91 L573.68,1062.04 L575.22,1062.17 L576.76,1062.27 L578.30,1062.37 L579.84,1062.45 L581.38,1062.52 L582.92,1062.58 L584.47,1062.62 L586.01,1062.65 L587.55,1062.66 L589.09,1062.66 L590.63,1062.64 L592.17,1062.59 L593.70,1062.53 L595.24,1062.45 L596.76,1062.35 L598.29,1062.22 L599.81,1062.08 L601.33,1061.91 L602.84,1061.73 L604.35,1061.52 L605.85,1061.29 L607.35,1061.03 L608.84,1060.75 L610.32,1060.44 L611.79,1060.11 L613.26,1059.76 L614.71,1059.38 L616.16,1058.98 L617.60,1058.55 L619.03,1058.09 L620.44,1057.59 L621.82,1057.06 L623.19,1056.49 L624.53,1055.87 L625.85,1055.23 L627.14,1054.54 L628.41,1053.82 L629.64,1053.04 L630.83,1052.23 L632.00,1051.38 L633.13,1050.49 L634.24,1049.56 L635.32,1048.61 L636.41,1047.67 L637.50,1046.72 L638.58,1045.78 L639.67,1044.83 L640.76,1043.89 L641.85,1042.94 L642.93,1041.99M528.14,1029.37 L529.63,1028.97 L531.12,1028.56 L532.62,1028.17 L534.12,1027.79 L535.62,1027.41 L537.12,1027.04 L538.63,1026.68 L540.13,1026.33 L541.64,1025.98 L543.15,1025.65 L544.66,1025.32 L546.18,1025.00 L547.69,1024.69 L549.21,1024.39 L550.73,1024.10 L552.25,1023.82 L553.77,1023.55 L555.29,1023.29 L556.82,1023.03 L558.34,1022.79 L559.87,1022.56 L561.40,1022.34 L562.93,1022.13 L564.46,1021.93 L565.99,1021.74 L567.53,1021.56 L569.06,1021.39 L570.60,1021.23 L572.14,1021.09 L573.68,1020.96 L575.22,1020.83 L576.76,1020.73 L578.30,1020.63 L579.84,1020.55 L581.38,1020.48 L582.92,1020.42 L584.47,1020.38 L586.01,1020.35 L587.55,1020.34 L589.09,1020.34 L590.63,1020.36 L592.17,1020.41 L593.70,1020.47 L595.24,1020.55 L596.76,1020.65 L598.29,1020.78 L599.81,1020.92 L601.33,1021.09 L602.84,1021.27 L604.35,1021.48 L605.85,1021.71 L607.35,1021.97 L608.84,1022.25 L610.32,1022.56 L611.79,1022.89 L613.26,1023.24 L614.71,1023.62 L616.16,1024.02 L617.60,1024.45 L619.03,1024.91 L620.44,1025.41 L621.82,1025.94 L623.19,1026.51 L624.53,1027.13 L625.85,1027.77 L627.14,1028.46 L628.41,1029.18 L629.64,1029.96 L630.83,1030.77 L632.00,1031.62 L633.13,1032.51 L634.24,1033.44 L635.32,1034.39 L636.41,1035.33 L637.50,1036.28 L638.58,1037.22 L639.67,1038.17 L640.76,1039.11 L641.85,1040.06 L642.93,1041.01M528.14,1029.37 L529.51,1030.09 L530.89,1030.79 L532.27,1031.48 L533.66,1032.17 L535.05,1032.85 L536.44,1033.53 L537.84,1034.19 L539.24,1034.85 L540.64,1035.50 L542.05,1036.14 L543.46,1036.78 L544.87,1037.40 L546.29,1038.02 L547.71,1038.63 L549.14,1039.23 L550.56,1039.82 L552.00,1040.40 L553.43,1040.98 L554.87,1041.54 L556.31,1042.09 L557.76,1042.64 L559.21,1043.17 L560.66,1043.70 L562.12,1044.21 L563.58,1044.72 L565.04,1045.21 L566.51,1045.70 L567.98,1046.17 L569.45,1046.63 L570.93,1047.08 L572.41,1047.52 L573.90,1047.94 L575.38,1048.36 L576.87,1048.76 L578.37,1049.15 L579.86,1049.52 L581.36,1049.89 L582.87,1050.24 L584.37,1050.57 L585.88,1050.89 L587.39,1051.18 L588.91,1051.46 L590.42,1051.72 L591.94,1051.96 L593.45,1052.17 L594.97,1052.37 L596.49,1052.54 L598.01,1052.70 L599.53,1052.83 L601.04,1052.94 L602.56,1053.03 L604.08,1053.09 L605.59,1053.12 L607.11,1053.13 L608.62,1053.12 L610.12,1053.07 L611.63,1053.01 L613.13,1052.91 L614.62,1052.79 L616.11,1052.64 L617.59,1052.45 L619.06,1052.21 L620.51,1051.93 L621.95,1051.62 L623.38,1051.26 L624.79,1050.86 L626.18,1050.41 L627.54,1049.91 L628.88,1049.36 L630.20,1048.77 L631.49,1048.13 L632.76,1047.46 L634.02,1046.76 L635.28,1046.06 L636.54,1045.36 L637.80,1044.66 L639.06,1043.96 L640.32,1043.26 L641.58,1042.56 L642.84,1041.87M533.18,1005.65 L534.72,1005.56 L536.27,1005.48 L537.81,1005.41 L539.36,1005.34 L540.91,1005.29 L542.45,1005.24 L544.00,1005.20 L545.55,1005.17 L547.09,1005.14 L548.64,1005.13 L550.19,1005.12 L551.73,1005.13 L553.28,1005.14 L554.82,1005.16 L556.37,1005.19 L557.92,1005.23 L559.46,1005.28 L561.01,1005.34 L562.55,1005.42 L564.09,1005.50 L565.64,1005.59 L567.18,1005.69 L568.72,1005.80 L570.26,1005.92 L571.80,1006.05 L573.34,1006.20 L574.87,1006.35 L576.41,1006.52 L577.94,1006.70 L579.47,1006.89 L581.01,1007.09 L582.53,1007.30 L584.06,1007.53 L585.59,1007.77 L587.11,1008.02 L588.63,1008.29 L590.15,1008.57 L591.66,1008.86 L593.18,1009.17 L594.68,1009.49 L596.18,1009.83 L597.68,1010.19 L599.17,1010.57 L600.65,1010.97 L602.12,1011.39 L603.59,1011.83 L605.04,1012.29 L606.49,1012.77 L607.94,1013.26 L609.37,1013.78 L610.79,1014.32 L612.20,1014.88 L613.60,1015.46 L614.98,1016.07 L616.36,1016.70 L617.72,1017.35 L619.06,1018.02 L620.39,1018.72 L621.71,1019.44 L623.01,1020.19 L624.29,1020.96 L625.53,1021.77 L626.75,1022.62 L627.93,1023.50 L629.09,1024.40 L630.21,1025.34 L631.30,1026.32 L632.34,1027.33 L633.34,1028.37 L634.30,1029.45 L635.23,1030.56 L636.12,1031.69 L636.98,1032.84 L637.85,1033.99 L638.72,1035.14 L639.58,1036.29 L640.45,1037.45 L641.31,1038.60 L642.18,1039.75 L643.05,1040.90M533.18,1005.65 L534.37,1006.63 L535.58,1007.61 L536.78,1008.58 L538.00,1009.54 L539.21,1010.49 L540.44,1011.44 L541.66,1012.38 L542.90,1013.32 L544.13,1014.25 L545.38,1015.17 L546.63,1016.08 L547.88,1016.99 L549.14,1017.89 L550.40,1018.78 L551.67,1019.66 L552.94,1020.53 L554.22,1021.40 L555.51,1022.26 L556.80,1023.11 L558.10,1023.95 L559.40,1024.79 L560.70,1025.61 L562.02,1026.43 L563.33,1027.23 L564.66,1028.03 L565.99,1028.82 L567.32,1029.60 L568.66,1030.36 L570.01,1031.12 L571.36,1031.87 L572.71,1032.61 L574.08,1033.33 L575.45,1034.04 L576.82,1034.75 L578.20,1035.44 L579.59,1036.12 L580.98,1036.78 L582.38,1037.44 L583.78,1038.08 L585.19,1038.70 L586.61,1039.31 L588.03,1039.89 L589.46,1040.46 L590.89,1041.01 L592.33,1041.53 L593.77,1042.04 L595.22,1042.53 L596.67,1043.00 L598.13,1043.44 L599.59,1043.86 L601.06,1044.26 L602.53,1044.64 L604.00,1044.99 L605.48,1045.31 L606.96,1045.61 L608.45,1045.88 L609.93,1046.13 L611.42,1046.35 L612.91,1046.54 L614.40,1046.70 L615.88,1046.82 L617.37,1046.90 L618.85,1046.93 L620.32,1046.91 L621.79,1046.86 L623.25,1046.76 L624.70,1046.61 L626.14,1046.41 L627.57,1046.15 L628.98,1045.84 L630.38,1045.49 L631.76,1045.10 L633.14,1044.67 L634.52,1044.25 L635.89,1043.83 L637.27,1043.41 L638.65,1042.99 L640.02,1042.56 L641.40,1042.14 L642.78,1041.72M543.04,983.50 L544.57,983.73 L546.10,983.98 L547.63,984.22 L549.15,984.48 L550.68,984.75 L552.20,985.02 L553.72,985.30 L555.24,985.59 L556.76,985.89 L558.27,986.20 L559.79,986.52 L561.30,986.84 L562.81,987.18 L564.32,987.52 L565.82,987.87 L567.33,988.23 L568.83,988.60 L570.33,988.98 L571.82,989.37 L573.31,989.77 L574.80,990.18 L576.29,990.60 L577.78,991.03 L579.26,991.47 L580.73,991.92 L582.21,992.38 L583.68,992.85 L585.15,993.33 L586.61,993.83 L588.07,994.33 L589.53,994.85 L590.98,995.38 L592.42,995.91 L593.86,996.47 L595.30,997.03 L596.73,997.61 L598.16,998.19 L599.58,998.79 L601.00,999.41 L602.40,1000.04 L603.80,1000.69 L605.19,1001.35 L606.56,1002.03 L607.93,1002.73 L609.28,1003.45 L610.63,1004.18 L611.96,1004.93 L613.28,1005.70 L614.58,1006.48 L615.88,1007.29 L617.16,1008.11 L618.42,1008.95 L619.66,1009.82 L620.89,1010.70 L622.10,1011.60 L623.30,1012.52 L624.48,1013.46 L625.63,1014.42 L626.77,1015.39 L627.89,1016.39 L628.98,1017.42 L630.02,1018.47 L631.04,1019.55 L632.01,1020.65 L632.96,1021.78 L633.86,1022.93 L634.72,1024.11 L635.53,1025.32 L636.29,1026.55 L637.01,1027.80 L637.68,1029.08 L638.32,1030.37 L638.93,1031.68 L639.53,1032.98 L640.14,1034.29 L640.75,1035.59 L641.36,1036.90 L641.97,1038.21 L642.57,1039.51 L643.18,1040.82M543.04,983.50 L544.01,984.71 L544.98,985.91 L545.96,987.11 L546.95,988.30 L547.94,989.49 L548.94,990.67 L549.94,991.85 L550.95,993.02 L551.97,994.18 L553.00,995.34 L554.03,996.49 L555.07,997.64 L556.11,998.78 L557.16,999.92 L558.22,1001.04 L559.28,1002.17 L560.35,1003.28 L561.43,1004.39 L562.52,1005.49 L563.61,1006.58 L564.71,1007.67 L565.82,1008.75 L566.93,1009.82 L568.05,1010.88 L569.18,1011.93 L570.32,1012.98 L571.46,1014.02 L572.61,1015.05 L573.77,1016.07 L574.94,1017.08 L576.11,1018.08 L577.29,1019.08 L578.48,1020.06 L579.68,1021.03 L580.89,1021.99 L582.10,1022.95 L583.33,1023.89 L584.56,1024.82 L585.80,1025.74 L587.05,1026.64 L588.31,1027.53 L589.57,1028.39 L590.85,1029.25 L592.14,1030.08 L593.44,1030.89 L594.74,1031.69 L596.06,1032.47 L597.38,1033.23 L598.72,1033.97 L600.06,1034.68 L601.41,1035.38 L602.77,1036.05 L604.14,1036.70 L605.52,1037.32 L606.91,1037.92 L608.30,1038.50 L609.70,1039.05 L611.11,1039.57 L612.53,1040.07 L613.95,1040.54 L615.38,1040.96 L616.82,1041.35 L618.26,1041.68 L619.70,1041.98 L621.15,1042.23 L622.60,1042.44 L624.05,1042.59 L625.50,1042.69 L626.95,1042.74 L628.39,1042.73 L629.83,1042.68 L631.27,1042.58 L632.70,1042.45 L634.14,1042.32 L635.57,1042.20 L637.01,1042.07 L638.44,1041.95 L639.88,1041.82 L641.31,1041.69 L642.75,1041.57M557.30,963.88 L558.74,964.43 L560.19,964.98 L561.63,965.54 L563.07,966.11 L564.51,966.69 L565.94,967.27 L567.37,967.87 L568.79,968.47 L570.22,969.07 L571.63,969.69 L573.05,970.31 L574.46,970.95 L575.87,971.59 L577.27,972.24 L578.67,972.89 L580.07,973.56 L581.46,974.23 L582.84,974.92 L584.23,975.61 L585.60,976.31 L586.97,977.02 L588.34,977.74 L589.71,978.47 L591.06,979.21 L592.41,979.95 L593.76,980.71 L595.10,981.48 L596.44,982.25 L597.77,983.04 L599.09,983.84 L600.40,984.65 L601.71,985.46 L603.02,986.29 L604.31,987.13 L605.60,987.98 L606.88,988.84 L608.16,989.71 L609.42,990.60 L610.68,991.49 L611.92,992.40 L613.15,993.32 L614.37,994.26 L615.58,995.22 L616.77,996.18 L617.94,997.17 L619.10,998.16 L620.25,999.17 L621.38,1000.20 L622.50,1001.24 L623.59,1002.29 L624.67,1003.36 L625.73,1004.45 L626.77,1005.55 L627.79,1006.67 L628.79,1007.80 L629.77,1008.95 L630.72,1010.11 L631.66,1011.29 L632.57,1012.49 L633.45,1013.69 L634.30,1014.92 L635.11,1016.17 L635.87,1017.44 L636.60,1018.72 L637.29,1020.02 L637.93,1021.33 L638.53,1022.66 L639.07,1024.01 L639.56,1025.37 L640.00,1026.75 L640.39,1028.14 L640.74,1029.54 L641.07,1030.94 L641.39,1032.34 L641.71,1033.75 L642.04,1035.15 L642.36,1036.55 L642.68,1037.96 L643.01,1039.36 L643.33,1040.77M557.30,963.88 L557.99,965.26 L558.69,966.64 L559.40,968.02 L560.12,969.39 L560.84,970.76 L561.57,972.12 L562.31,973.48 L563.06,974.84 L563.81,976.19 L564.57,977.53 L565.34,978.88 L566.12,980.21 L566.90,981.55 L567.69,982.87 L568.49,984.20 L569.30,985.52 L570.12,986.83 L570.94,988.14 L571.77,989.44 L572.62,990.73 L573.47,992.02 L574.32,993.31 L575.19,994.59 L576.07,995.86 L576.95,997.13 L577.84,998.39 L578.75,999.64 L579.66,1000.89 L580.58,1002.13 L581.51,1003.36 L582.45,1004.58 L583.40,1005.80 L584.36,1007.01 L585.33,1008.21 L586.31,1009.40 L587.30,1010.59 L588.30,1011.76 L589.31,1012.93 L590.34,1014.08 L591.37,1015.23 L592.42,1016.36 L593.48,1017.47 L594.55,1018.57 L595.64,1019.65 L596.74,1020.72 L597.85,1021.77 L598.97,1022.80 L600.11,1023.82 L601.26,1024.82 L602.43,1025.80 L603.61,1026.76 L604.80,1027.70 L606.00,1028.62 L607.22,1029.52 L608.45,1030.39 L609.69,1031.24 L610.95,1032.07 L612.22,1032.88 L613.50,1033.66 L614.80,1034.41 L616.11,1035.13 L617.43,1035.80 L618.77,1036.43 L620.12,1037.02 L621.49,1037.56 L622.86,1038.07 L624.25,1038.52 L625.64,1038.92 L627.05,1039.27 L628.47,1039.56 L629.89,1039.81 L631.31,1040.01 L632.74,1040.19 L634.17,1040.36 L635.60,1040.53 L637.03,1040.71 L638.46,1040.88 L639.89,1041.06 L641.32,1041.23 L642.75,1041.41M575.32,947.65 L576.62,948.49 L577.92,949.33 L579.21,950.18 L580.50,951.04 L581.79,951.90 L583.07,952.77 L584.34,953.65 L585.61,954.53 L586.88,955.42 L588.13,956.32 L589.39,957.22 L590.64,958.13 L591.88,959.05 L593.12,959.98 L594.35,960.91 L595.58,961.86 L596.80,962.80 L598.01,963.76 L599.22,964.73 L600.42,965.70 L601.62,966.68 L602.80,967.67 L603.99,968.66 L605.16,969.67 L606.33,970.68 L607.49,971.70 L608.64,972.73 L609.78,973.76 L610.92,974.81 L612.05,975.86 L613.17,976.93 L614.28,978.00 L615.38,979.08 L616.47,980.17 L617.56,981.27 L618.63,982.38 L619.70,983.50 L620.75,984.62 L621.79,985.76 L622.82,986.91 L623.83,988.07 L624.83,989.24 L625.81,990.42 L626.77,991.62 L627.72,992.82 L628.65,994.04 L629.56,995.26 L630.45,996.50 L631.33,997.75 L632.18,999.01 L633.01,1000.28 L633.82,1001.57 L634.61,1002.86 L635.38,1004.17 L636.12,1005.48 L636.83,1006.81 L637.53,1008.14 L638.20,1009.49 L638.84,1010.85 L639.45,1012.21 L640.03,1013.59 L640.56,1014.98 L641.04,1016.38 L641.49,1017.78 L641.89,1019.20 L642.25,1020.62 L642.55,1022.04 L642.80,1023.47 L643.00,1024.91 L643.14,1026.35 L643.24,1027.78 L643.29,1029.22 L643.32,1030.66 L643.34,1032.10 L643.37,1033.54 L643.39,1034.99 L643.41,1036.43 L643.44,1037.87 L643.46,1039.31 L643.49,1040.75M575.32,947.65 L575.71,949.15 L576.11,950.65 L576.52,952.14 L576.93,953.63 L577.36,955.12 L577.79,956.60 L578.23,958.09 L578.68,959.57 L579.13,961.05 L579.60,962.52 L580.07,963.99 L580.55,965.46 L581.04,966.93 L581.54,968.39 L582.05,969.85 L582.56,971.31 L583.09,972.77 L583.62,974.22 L584.17,975.66 L584.72,977.11 L585.28,978.54 L585.85,979.98 L586.44,981.41 L587.03,982.84 L587.63,984.26 L588.24,985.68 L588.87,987.09 L589.50,988.50 L590.14,989.91 L590.80,991.30 L591.46,992.70 L592.14,994.09 L592.83,995.47 L593.52,996.84 L594.23,998.21 L594.96,999.58 L595.69,1000.94 L596.44,1002.29 L597.20,1003.63 L597.97,1004.96 L598.76,1006.28 L599.57,1007.59 L600.39,1008.89 L601.23,1010.18 L602.08,1011.45 L602.95,1012.71 L603.83,1013.95 L604.74,1015.18 L605.65,1016.40 L606.59,1017.60 L607.54,1018.79 L608.51,1019.96 L609.50,1021.11 L610.50,1022.24 L611.53,1023.35 L612.57,1024.44 L613.62,1025.51 L614.70,1026.56 L615.79,1027.59 L616.90,1028.60 L618.03,1029.57 L619.19,1030.51 L620.37,1031.40 L621.57,1032.26 L622.79,1033.07 L624.03,1033.85 L625.29,1034.59 L626.57,1035.27 L627.87,1035.90 L629.20,1036.48 L630.54,1037.01 L631.89,1037.51 L633.25,1037.98 L634.61,1038.45 L635.98,1038.91 L637.34,1039.38 L638.70,1039.85 L640.06,1040.32 L641.43,1040.79 L642.79,1041.26M596.32,935.53 L597.42,936.62 L598.51,937.71 L599.60,938.81 L600.69,939.92 L601.76,941.03 L602.83,942.14 L603.90,943.27 L604.96,944.39 L606.01,945.53 L607.05,946.67 L608.09,947.81 L609.13,948.97 L610.15,950.12 L611.17,951.29 L612.18,952.46 L613.18,953.63 L614.18,954.81 L615.17,956.00 L616.15,957.20 L617.12,958.40 L618.09,959.60 L619.04,960.82 L619.99,962.04 L620.93,963.26 L621.86,964.50 L622.79,965.74 L623.70,966.98 L624.60,968.23 L625.50,969.49 L626.38,970.76 L627.25,972.03 L628.12,973.31 L628.97,974.60 L629.81,975.89 L630.65,977.19 L631.47,978.50 L632.27,979.81 L633.07,981.14 L633.86,982.47 L634.62,983.80 L635.37,985.15 L636.10,986.50 L636.82,987.86 L637.51,989.23 L638.19,990.60 L638.84,991.99 L639.48,993.38 L640.09,994.77 L640.69,996.18 L641.26,997.59 L641.81,999.00 L642.34,1000.43 L642.84,1001.86 L643.32,1003.29 L643.77,1004.73 L644.19,1006.18 L644.59,1007.63 L644.97,1009.09 L645.31,1010.55 L645.63,1012.01 L645.91,1013.48 L646.14,1014.95 L646.32,1016.41 L646.46,1017.88 L646.56,1019.35 L646.61,1020.81 L646.62,1022.27 L646.57,1023.72 L646.46,1025.17 L646.30,1026.60 L646.10,1028.03 L645.85,1029.45 L645.57,1030.86 L645.30,1032.28 L645.02,1033.69 L644.75,1035.10 L644.47,1036.52 L644.20,1037.93 L643.92,1039.35 L643.64,1040.76M596.32,935.53 L596.39,937.07 L596.47,938.62 L596.56,940.17 L596.66,941.71 L596.76,943.25 L596.87,944.80 L597.00,946.34 L597.13,947.88 L597.26,949.42 L597.41,950.96 L597.57,952.50 L597.73,954.04 L597.91,955.57 L598.09,957.11 L598.28,958.64 L598.49,960.18 L598.70,961.71 L598.92,963.24 L599.15,964.76 L599.39,966.29 L599.64,967.82 L599.91,969.34 L600.18,970.86 L600.46,972.38 L600.75,973.90 L601.06,975.41 L601.37,976.92 L601.70,978.43 L602.04,979.94 L602.38,981.44 L602.75,982.94 L603.12,984.44 L603.50,985.94 L603.90,987.43 L604.31,988.92 L604.73,990.40 L605.17,991.88 L605.62,993.36 L606.08,994.83 L606.56,996.30 L607.06,997.75 L607.58,999.20 L608.11,1000.64 L608.66,1002.07 L609.23,1003.49 L609.82,1004.91 L610.43,1006.31 L611.05,1007.70 L611.70,1009.08 L612.36,1010.45 L613.05,1011.81 L613.75,1013.15 L614.48,1014.48 L615.23,1015.80 L616.00,1017.10 L616.79,1018.38 L617.60,1019.65 L618.43,1020.90 L619.28,1022.14 L620.16,1023.35 L621.07,1024.54 L622.00,1025.69 L622.97,1026.81 L623.97,1027.90 L624.99,1028.95 L626.04,1029.97 L627.12,1030.95 L628.24,1031.88 L629.38,1032.77 L630.55,1033.61 L631.75,1034.42 L632.97,1035.18 L634.21,1035.92 L635.44,1036.66 L636.68,1037.41 L637.91,1038.15 L639.15,1038.89 L640.38,1039.63 L641.62,1040.37 L642.85,1041.11M619.38,928.03 L620.23,929.33 L621.08,930.63 L621.91,931.93 L622.74,933.23 L623.56,934.54 L624.38,935.86 L625.19,937.18 L625.99,938.50 L626.78,939.83 L627.57,941.16 L628.35,942.50 L629.12,943.84 L629.88,945.19 L630.63,946.54 L631.38,947.89 L632.12,949.25 L632.84,950.61 L633.56,951.98 L634.28,953.35 L634.98,954.73 L635.67,956.11 L636.35,957.50 L637.03,958.89 L637.69,960.28 L638.35,961.68 L638.99,963.08 L639.62,964.49 L640.25,965.91 L640.86,967.32 L641.46,968.75 L642.05,970.17 L642.63,971.60 L643.20,973.04 L643.75,974.48 L644.30,975.93 L644.83,977.37 L645.35,978.83 L645.85,980.29 L646.34,981.75 L646.81,983.22 L647.27,984.69 L647.70,986.16 L648.11,987.64 L648.51,989.12 L648.88,990.61 L649.24,992.10 L649.57,993.59 L649.88,995.08 L650.17,996.58 L650.44,998.08 L650.68,999.58 L650.90,1001.08 L651.10,1002.59 L651.26,1004.09 L651.41,1005.59 L651.52,1007.10 L651.61,1008.60 L651.67,1010.10 L651.71,1011.60 L651.72,1013.10 L651.68,1014.59 L651.60,1016.08 L651.47,1017.55 L651.31,1019.01 L651.10,1020.47 L650.85,1021.91 L650.55,1023.34 L650.19,1024.75 L649.79,1026.14 L649.34,1027.51 L648.84,1028.86 L648.30,1030.20 L647.74,1031.53 L647.18,1032.85 L646.61,1034.18 L646.05,1035.50 L645.49,1036.83 L644.92,1038.16 L644.36,1039.48 L643.79,1040.81M619.38,928.03 L619.13,929.56 L618.89,931.09 L618.65,932.62 L618.43,934.15 L618.21,935.68 L618.00,937.22 L617.80,938.75 L617.60,940.28 L617.42,941.82 L617.24,943.36 L617.08,944.89 L616.92,946.43 L616.77,947.97 L616.63,949.51 L616.50,951.05 L616.38,952.59 L616.27,954.14 L616.17,955.68 L616.07,957.22 L615.99,958.76 L615.92,960.31 L615.86,961.85 L615.81,963.40 L615.77,964.94 L615.74,966.49 L615.72,968.03 L615.72,969.57 L615.72,971.12 L615.74,972.66 L615.77,974.21 L615.81,975.75 L615.86,977.29 L615.93,978.84 L616.01,980.38 L616.10,981.92 L616.20,983.46 L616.32,985.00 L616.46,986.54 L616.60,988.07 L616.77,989.60 L616.95,991.13 L617.16,992.66 L617.38,994.18 L617.62,995.69 L617.88,997.20 L618.17,998.70 L618.47,1000.20 L618.79,1001.69 L619.13,1003.18 L619.50,1004.66 L619.89,1006.13 L620.30,1007.59 L620.73,1009.04 L621.19,1010.48 L621.67,1011.91 L622.18,1013.33 L622.71,1014.74 L623.26,1016.14 L623.84,1017.52 L624.44,1018.90 L625.08,1020.24 L625.76,1021.57 L626.47,1022.86 L627.22,1024.13 L628.00,1025.38 L628.82,1026.59 L629.67,1027.78 L630.57,1028.92 L631.51,1030.03 L632.48,1031.09 L633.48,1032.13 L634.52,1033.13 L635.57,1034.11 L636.62,1035.10 L637.68,1036.08 L638.73,1037.06 L639.79,1038.04 L640.84,1039.02 L641.89,1040.00 L642.95,1040.99"/><path d="M655.81,1021.13 L655.31,1022.51 L654.76,1023.87 L654.17,1025.20 L653.53,1026.51 L652.85,1027.78 L652.12,1029.03 L651.35,1030.25 L650.55,1031.45 L649.72,1032.63 L648.89,1033.81 L648.07,1034.99 L647.24,1036.16 L646.41,1037.34 L645.59,1038.52 L644.76,1039.70 L643.93,1040.88M631.19,1021.13 L631.69,1022.51 L632.24,1023.87 L632.83,1025.20 L633.47,1026.51 L634.15,1027.78 L634.88,1029.03 L635.65,1030.25 L636.45,1031.45 L637.28,1032.63 L638.11,1033.81 L638.93,1034.99 L639.76,1036.16 L640.59,1037.34 L641.41,1038.52 L642.24,1039.70 L643.07,1040.88M659.78,1024.13 L659.00,1025.38 L658.18,1026.59 L657.33,1027.78 L656.43,1028.92 L655.49,1030.03 L654.52,1031.09 L653.52,1032.13 L652.48,1033.13 L651.43,1034.11 L650.38,1035.10 L649.32,1036.08 L648.27,1037.06 L647.21,1038.04 L646.16,1039.02 L645.11,1040.00 L644.05,1040.99M635.69,1019.01 L635.90,1020.47 L636.15,1021.91 L636.45,1023.34 L636.81,1024.75 L637.21,1026.14 L637.66,1027.51 L638.16,1028.86 L638.70,1030.20 L639.26,1031.53 L639.82,1032.85 L640.39,1034.18 L640.95,1035.50 L641.51,1036.83 L642.08,1038.16 L642.64,1039.48 L643.21,1040.81M663.03,1027.90 L662.01,1028.95 L660.96,1029.97 L659.88,1030.95 L658.76,1031.88 L657.62,1032.77 L656.45,1033.61 L655.25,1034.42 L654.03,1035.18 L652.79,1035.92 L651.56,1036.66 L650.32,1037.41 L649.09,1038.15 L647.85,1038.89 L646.62,1039.63 L645.38,1040.37 L644.15,1041.11M640.54,1017.88 L640.44,1019.35 L640.39,1020.81 L640.38,1022.27 L640.43,1023.72 L640.54,1025.17 L640.70,1026.60 L640.90,1028.03 L641.15,1029.45 L641.43,1030.86 L641.70,1032.28 L641.98,1033.69 L642.25,1035.10 L642.53,1036.52 L642.80,1037.93 L643.08,1039.35 L643.36,1040.76M665.43,1032.26 L664.21,1033.07 L662.97,1033.85 L661.71,1034.59 L660.43,1035.27 L659.13,1035.90 L657.80,1036.48 L656.46,1037.01 L655.11,1037.51 L653.75,1037.98 L652.39,1038.45 L651.02,1038.91 L649.66,1039.38 L648.30,1039.85 L646.94,1040.32 L645.57,1040.79 L644.21,1041.26M645.51,1017.78 L645.11,1019.20 L644.75,1020.62 L644.45,1022.04 L644.20,1023.47 L644.00,1024.91 L643.86,1026.35 L643.76,1027.78 L643.71,1029.22 L643.68,1030.66 L643.66,1032.10 L643.63,1033.54 L643.61,1034.99 L643.59,1036.43 L643.56,1037.87 L643.54,1039.31 L643.51,1040.75M666.88,1037.02 L665.51,1037.56 L664.14,1038.07 L662.75,1038.52 L661.36,1038.92 L659.95,1039.27 L658.53,1039.56 L657.11,1039.81 L655.69,1040.01 L654.26,1040.19 L652.83,1040.36 L651.40,1040.53 L649.97,1040.71 L648.54,1040.88 L647.11,1041.06 L645.68,1041.23 L644.25,1041.41M650.40,1018.72 L649.71,1020.02 L649.07,1021.33 L648.47,1022.66 L647.93,1024.01 L647.44,1025.37 L647.00,1026.75 L646.61,1028.14 L646.26,1029.54 L645.93,1030.94 L645.61,1032.34 L645.29,1033.75 L644.96,1035.15 L644.64,1036.55 L644.32,1037.96 L643.99,1039.36 L643.67,1040.77M667.30,1041.98 L665.85,1042.23 L664.40,1042.44 L662.95,1042.59 L661.50,1042.69 L660.05,1042.74 L658.61,1042.73 L657.17,1042.68 L655.73,1042.58 L654.30,1042.45 L652.86,1042.32 L651.43,1042.20 L649.99,1042.07 L648.56,1041.95 L647.12,1041.82 L645.69,1041.69 L644.25,1041.57M654.99,1020.65 L654.04,1021.78 L653.14,1022.93 L652.28,1024.11 L651.47,1025.32 L650.71,1026.55 L649.99,1027.80 L649.32,1029.08 L648.68,1030.37 L648.07,1031.68 L647.47,1032.98 L646.86,1034.29 L646.25,1035.59 L645.64,1036.90 L645.03,1038.21 L644.43,1039.51 L643.82,1040.82M666.68,1046.91 L665.21,1046.86 L663.75,1046.76 L662.30,1046.61 L660.86,1046.41 L659.43,1046.15 L658.02,1045.84 L656.62,1045.49 L655.24,1045.10 L653.86,1044.67 L652.48,1044.25 L651.11,1043.83 L649.73,1043.41 L648.35,1042.99 L646.98,1042.56 L645.60,1042.14 L644.22,1041.72M659.07,1023.50 L657.91,1024.40 L656.79,1025.34 L655.70,1026.32 L654.66,1027.33 L653.66,1028.37 L652.70,1029.45 L651.77,1030.56 L650.88,1031.69 L650.02,1032.84 L649.15,1033.99 L648.28,1035.14 L647.42,1036.29 L646.55,1037.45 L645.69,1038.60 L644.82,1039.75 L643.95,1040.90M665.05,1051.62 L663.62,1051.26 L662.21,1050.86 L660.82,1050.41 L659.46,1049.91 L658.12,1049.36 L656.80,1048.77 L655.51,1048.13 L654.24,1047.46 L652.98,1046.76 L651.72,1046.06 L650.46,1045.36 L649.20,1044.66 L647.94,1043.96 L646.68,1043.26 L645.42,1042.56 L644.16,1041.87M662.47,1027.13 L661.15,1027.77 L659.86,1028.46 L658.59,1029.18 L657.36,1029.96 L656.17,1030.77 L655.00,1031.62 L653.87,1032.51 L652.76,1033.44 L651.68,1034.39 L650.59,1035.33 L649.50,1036.28 L648.42,1037.22 L647.33,1038.17 L646.24,1039.11 L645.15,1040.06 L644.07,1041.01M662.47,1055.87 L661.15,1055.23 L659.86,1054.54 L658.59,1053.82 L657.36,1053.04 L656.17,1052.23 L655.00,1051.38 L653.87,1050.49 L652.76,1049.56 L651.68,1048.61 L650.59,1047.67 L649.50,1046.72 L648.42,1045.78 L647.33,1044.83 L646.24,1043.89 L645.15,1042.94 L644.07,1041.99M665.05,1031.38 L663.62,1031.74 L662.21,1032.14 L660.82,1032.59 L659.46,1033.09 L658.12,1033.64 L656.80,1034.23 L655.51,1034.87 L654.24,1035.54 L652.98,1036.24 L651.72,1036.94 L650.46,1037.64 L649.20,1038.34 L647.94,1039.04 L646.68,1039.74 L645.42,1040.44 L644.16,1041.13M659.07,1059.50 L657.91,1058.60 L656.79,1057.66 L655.70,1056.68 L654.66,1055.67 L653.66,1054.63 L652.70,1053.55 L651.77,1052.44 L650.88,1051.31 L650.02,1050.16 L649.15,1049.01 L648.28,1047.86 L647.42,1046.71 L646.55,1045.55 L645.69,1044.40 L644.82,1043.25 L643.95,1042.10M666.68,1036.09 L665.21,1036.14 L663.75,1036.24 L662.30,1036.39 L660.86,1036.59 L659.43,1036.85 L658.02,1037.16 L656.62,1037.51 L655.24,1037.90 L653.86,1038.33 L652.48,1038.75 L651.11,1039.17 L649.73,1039.59 L648.35,1040.01 L646.98,1040.44 L645.60,1040.86 L644.22,1041.28M654.99,1062.35 L654.04,1061.22 L653.14,1060.07 L652.28,1058.89 L651.47,1057.68 L650.71,1056.45 L649.99,1055.20 L649.32,1053.92 L648.68,1052.63 L648.07,1051.32 L647.47,1050.02 L646.86,1048.71 L646.25,1047.41 L645.64,1046.10 L645.03,1044.79 L644.43,1043.49 L643.82,1042.18M667.30,1041.02 L665.85,1040.77 L664.40,1040.56 L662.95,1040.41 L661.50,1040.31 L660.05,1040.26 L658.61,1040.27 L657.17,1040.32 L655.73,1040.42 L654.30,1040.55 L652.86,1040.68 L651.43,1040.80 L649.99,1040.93 L648.56,1041.05 L647.12,1041.18 L645.69,1041.31 L644.25,1041.43M650.40,1064.28 L649.71,1062.98 L649.07,1061.67 L648.47,1060.34 L647.93,1058.99 L647.44,1057.63 L647.00,1056.25 L646.61,1054.86 L646.26,1053.46 L645.93,1052.06 L645.61,1050.66 L645.29,1049.25 L644.96,1047.85 L644.64,1046.45 L644.32,1045.04 L643.99,1043.64 L643.67,1042.23M666.88,1045.98 L665.51,1045.44 L664.14,1044.93 L662.75,1044.48 L661.36,1044.08 L659.95,1043.73 L658.53,1043.44 L657.11,1043.19 L655.69,1042.99 L654.26,1042.81 L652.83,1042.64 L651.40,1042.47 L649.97,1042.29 L648.54,1042.12 L647.11,1041.94 L645.68,1041.77 L644.25,1041.59M645.51,1065.22 L645.11,1063.80 L644.75,1062.38 L644.45,1060.96 L644.20,1059.53 L644.00,1058.09 L643.86,1056.65 L643.76,1055.22 L643.71,1053.78 L643.68,1052.34 L643.66,1050.90 L643.63,1049.46 L643.61,1048.01 L643.59,1046.57 L643.56,1045.13 L643.54,1043.69 L643.51,1042.25M665.43,1050.74 L664.21,1049.93 L662.97,1049.15 L661.71,1048.41 L660.43,1047.73 L659.13,1047.10 L657.80,1046.52 L656.46,1045.99 L655.11,1045.49 L653.75,1045.02 L652.39,1044.55 L651.02,1044.09 L649.66,1043.62 L648.30,1043.15 L646.94,1042.68 L645.57,1042.21 L644.21,1041.74M640.54,1065.12 L640.44,1063.65 L640.39,1062.19 L640.38,1060.73 L640.43,1059.28 L640.54,1057.83 L640.70,1056.40 L640.90,1054.97 L641.15,1053.55 L641.43,1052.14 L641.70,1050.72 L641.98,1049.31 L642.25,1047.90 L642.53,1046.48 L642.80,1045.07 L643.08,1043.65 L643.36,1042.24M663.03,1055.10 L662.01,1054.05 L660.96,1053.03 L659.88,1052.05 L658.76,1051.12 L657.62,1050.23 L656.45,1049.39 L655.25,1048.58 L654.03,1047.82 L652.79,1047.08 L651.56,1046.34 L650.32,1045.59 L649.09,1044.85 L647.85,1044.11 L646.62,1043.37 L645.38,1042.63 L644.15,1041.89M635.69,1063.99 L635.90,1062.53 L636.15,1061.09 L636.45,1059.66 L636.81,1058.25 L637.21,1056.86 L637.66,1055.49 L638.16,1054.14 L638.70,1052.80 L639.26,1051.47 L639.82,1050.15 L640.39,1048.82 L640.95,1047.50 L641.51,1046.17 L642.08,1044.84 L642.64,1043.52 L643.21,1042.19M659.78,1058.87 L659.00,1057.62 L658.18,1056.41 L657.33,1055.22 L656.43,1054.08 L655.49,1052.97 L654.52,1051.91 L653.52,1050.87 L652.48,1049.87 L651.43,1048.89 L650.38,1047.90 L649.32,1046.92 L648.27,1045.94 L647.21,1044.96 L646.16,1043.98 L645.11,1043.00 L644.05,1042.01M631.19,1061.87 L631.69,1060.49 L632.24,1059.13 L632.83,1057.80 L633.47,1056.49 L634.15,1055.22 L634.88,1053.97 L635.65,1052.75 L636.45,1051.55 L637.28,1050.37 L638.11,1049.19 L638.93,1048.01 L639.76,1046.84 L640.59,1045.66 L641.41,1044.48 L642.24,1043.30 L643.07,1042.12M655.81,1061.87 L655.31,1060.49 L654.76,1059.13 L654.17,1057.80 L653.53,1056.49 L652.85,1055.22 L652.12,1053.97 L651.35,1052.75 L650.55,1051.55 L649.72,1050.37 L648.89,1049.19 L648.07,1048.01 L647.24,1046.84 L646.41,1045.66 L645.59,1044.48 L644.76,1043.30 L643.93,1042.12M627.22,1058.87 L628.00,1057.62 L628.82,1056.41 L629.67,1055.22 L630.57,1054.08 L631.51,1052.97 L632.48,1051.91 L633.48,1050.87 L634.52,1049.87 L635.57,1048.89 L636.62,1047.90 L637.68,1046.92 L638.73,1045.94 L639.79,1044.96 L640.84,1043.98 L641.89,1043.00 L642.95,1042.01M651.31,1063.99 L651.10,1062.53 L650.85,1061.09 L650.55,1059.66 L650.19,1058.25 L649.79,1056.86 L649.34,1055.49 L648.84,1054.14 L648.30,1052.80 L647.74,1051.47 L647.18,1050.15 L646.61,1048.82 L646.05,1047.50 L645.49,1046.17 L644.92,1044.84 L644.36,1043.52 L643.79,1042.19M623.97,1055.10 L624.99,1054.05 L626.04,1053.03 L627.12,1052.05 L628.24,1051.12 L629.38,1050.23 L630.55,1049.39 L631.75,1048.58 L632.97,1047.82 L634.21,1047.08 L635.44,1046.34 L636.68,1045.59 L637.91,1044.85 L639.15,1044.11 L640.38,1043.37 L641.62,1042.63 L642.85,1041.89M646.46,1065.12 L646.56,1063.65 L646.61,1062.19 L646.62,1060.73 L646.57,1059.28 L646.46,1057.83 L646.30,1056.40 L646.10,1054.97 L645.85,1053.55 L645.57,1052.14 L645.30,1050.72 L645.02,1049.31 L644.75,1047.90 L644.47,1046.48 L644.20,1045.07 L643.92,1043.65 L643.64,1042.24M621.57,1050.74 L622.79,1049.93 L624.03,1049.15 L625.29,1048.41 L626.57,1047.73 L627.87,1047.10 L629.20,1046.52 L630.54,1045.99 L631.89,1045.49 L633.25,1045.02 L634.61,1044.55 L635.98,1044.09 L637.34,1043.62 L638.70,1043.15 L640.06,1042.68 L641.43,1042.21 L642.79,1041.74M641.49,1065.22 L641.89,1063.80 L642.25,1062.38 L642.55,1060.96 L642.80,1059.53 L643.00,1058.09 L643.14,1056.65 L643.24,1055.22 L643.29,1053.78 L643.32,1052.34 L643.34,1050.90 L643.37,1049.46 L643.39,1048.01 L643.41,1046.57 L643.44,1045.13 L643.46,1043.69 L643.49,1042.25M620.12,1045.98 L621.49,1045.44 L622.86,1044.93 L624.25,1044.48 L625.64,1044.08 L627.05,1043.73 L628.47,1043.44 L629.89,1043.19 L631.31,1042.99 L632.74,1042.81 L634.17,1042.64 L635.60,1042.47 L637.03,1042.29 L638.46,1042.12 L639.89,1041.94 L641.32,1041.77 L642.75,1041.59M636.60,1064.28 L637.29,1062.98 L637.93,1061.67 L638.53,1060.34 L639.07,1058.99 L639.56,1057.63 L640.00,1056.25 L640.39,1054.86 L640.74,1053.46 L641.07,1052.06 L641.39,1050.66 L641.71,1049.25 L642.04,1047.85 L642.36,1046.45 L642.68,1045.04 L643.01,1043.64 L643.33,1042.23M619.70,1041.02 L621.15,1040.77 L622.60,1040.56 L624.05,1040.41 L625.50,1040.31 L626.95,1040.26 L628.39,1040.27 L629.83,1040.32 L631.27,1040.42 L632.70,1040.55 L634.14,1040.68 L635.57,1040.80 L637.01,1040.93 L638.44,1041.05 L639.88,1041.18 L641.31,1041.31 L642.75,1041.43M632.01,1062.35 L632.96,1061.22 L633.86,1060.07 L634.72,1058.89 L635.53,1057.68 L636.29,1056.45 L637.01,1055.20 L637.68,1053.92 L638.32,1052.63 L638.93,1051.32 L639.53,1050.02 L640.14,1048.71 L640.75,1047.41 L641.36,1046.10 L641.97,1044.79 L642.57,1043.49 L643.18,1042.18M620.32,1036.09 L621.79,1036.14 L623.25,1036.24 L624.70,1036.39 L626.14,1036.59 L627.57,1036.85 L628.98,1037.16 L630.38,1037.51 L631.76,1037.90 L633.14,1038.33 L634.52,1038.75 L635.89,1039.17 L637.27,1039.59 L638.65,1040.01 L640.02,1040.44 L641.40,1040.86 L642.78,1041.28M627.93,1059.50 L629.09,1058.60 L630.21,1057.66 L631.30,1056.68 L632.34,1055.67 L633.34,1054.63 L634.30,1053.55 L635.23,1052.44 L636.12,1051.31 L636.98,1050.16 L637.85,1049.01 L638.72,1047.86 L639.58,1046.71 L640.45,1045.55 L641.31,1044.40 L642.18,1043.25 L643.05,1042.10M621.95,1031.38 L623.38,1031.74 L624.79,1032.14 L626.18,1032.59 L627.54,1033.09 L628.88,1033.64 L630.20,1034.23 L631.49,1034.87 L632.76,1035.54 L634.02,1036.24 L635.28,1036.94 L636.54,1037.64 L637.80,1038.34 L639.06,1039.04 L640.32,1039.74 L641.58,1040.44 L642.84,1041.13M624.53,1055.87 L625.85,1055.23 L627.14,1054.54 L628.41,1053.82 L629.64,1053.04 L630.83,1052.23 L632.00,1051.38 L633.13,1050.49 L634.24,1049.56 L635.32,1048.61 L636.41,1047.67 L637.50,1046.72 L638.58,1045.78 L639.67,1044.83 L640.76,1043.89 L641.85,1042.94 L642.93,1041.99M624.53,1027.13 L625.85,1027.77 L627.14,1028.46 L628.41,1029.18 L629.64,1029.96 L630.83,1030.77 L632.00,1031.62 L633.13,1032.51 L634.24,1033.44 L635.32,1034.39 L636.41,1035.33 L637.50,1036.28 L638.58,1037.22 L639.67,1038.17 L640.76,1039.11 L641.85,1040.06 L642.93,1041.01M621.95,1051.62 L623.38,1051.26 L624.79,1050.86 L626.18,1050.41 L627.54,1049.91 L628.88,1049.36 L630.20,1048.77 L631.49,1048.13 L632.76,1047.46 L634.02,1046.76 L635.28,1046.06 L636.54,1045.36 L637.80,1044.66 L639.06,1043.96 L640.32,1043.26 L641.58,1042.56 L642.84,1041.87M627.93,1023.50 L629.09,1024.40 L630.21,1025.34 L631.30,1026.32 L632.34,1027.33 L633.34,1028.37 L634.30,1029.45 L635.23,1030.56 L636.12,1031.69 L636.98,1032.84 L637.85,1033.99 L638.72,1035.14 L639.58,1036.29 L640.45,1037.45 L641.31,1038.60 L642.18,1039.75 L643.05,1040.90M620.32,1046.91 L621.79,1046.86 L623.25,1046.76 L624.70,1046.61 L626.14,1046.41 L627.57,1046.15 L628.98,1045.84 L630.38,1045.49 L631.76,1045.10 L633.14,1044.67 L634.52,1044.25 L635.89,1043.83 L637.27,1043.41 L638.65,1042.99 L640.02,1042.56 L641.40,1042.14 L642.78,1041.72M632.01,1020.65 L632.96,1021.78 L633.86,1022.93 L634.72,1024.11 L635.53,1025.32 L636.29,1026.55 L637.01,1027.80 L637.68,1029.08 L638.32,1030.37 L638.93,1031.68 L639.53,1032.98 L640.14,1034.29 L640.75,1035.59 L641.36,1036.90 L641.97,1038.21 L642.57,1039.51 L643.18,1040.82M619.70,1041.98 L621.15,1042.23 L622.60,1042.44 L624.05,1042.59 L625.50,1042.69 L626.95,1042.74 L628.39,1042.73 L629.83,1042.68 L631.27,1042.58 L632.70,1042.45 L634.14,1042.32 L635.57,1042.20 L637.01,1042.07 L638.44,1041.95 L639.88,1041.82 L641.31,1041.69 L642.75,1041.57M636.60,1018.72 L637.29,1020.02 L637.93,1021.33 L638.53,1022.66 L639.07,1024.01 L639.56,1025.37 L640.00,1026.75 L640.39,1028.14 L640.74,1029.54 L641.07,1030.94 L641.39,1032.34 L641.71,1033.75 L642.04,1035.15 L642.36,1036.55 L642.68,1037.96 L643.01,1039.36 L643.33,1040.77M620.12,1037.02 L621.49,1037.56 L622.86,1038.07 L624.25,1038.52 L625.64,1038.92 L627.05,1039.27 L628.47,1039.56 L629.89,1039.81 L631.31,1040.01 L632.74,1040.19 L634.17,1040.36 L635.60,1040.53 L637.03,1040.71 L638.46,1040.88 L639.89,1041.06 L641.32,1041.23 L642.75,1041.41M641.49,1017.78 L641.89,1019.20 L642.25,1020.62 L642.55,1022.04 L642.80,1023.47 L643.00,1024.91 L643.14,1026.35 L643.24,1027.78 L643.29,1029.22 L643.32,1030.66 L643.34,1032.10 L643.37,1033.54 L643.39,1034.99 L643.41,1036.43 L643.44,1037.87 L643.46,1039.31 L643.49,1040.75M621.57,1032.26 L622.79,1033.07 L624.03,1033.85 L625.29,1034.59 L626.57,1035.27 L627.87,1035.90 L629.20,1036.48 L630.54,1037.01 L631.89,1037.51 L633.25,1037.98 L634.61,1038.45 L635.98,1038.91 L637.34,1039.38 L638.70,1039.85 L640.06,1040.32 L641.43,1040.79 L642.79,1041.26M646.46,1017.88 L646.56,1019.35 L646.61,1020.81 L646.62,1022.27 L646.57,1023.72 L646.46,1025.17 L646.30,1026.60 L646.10,1028.03 L645.85,1029.45 L645.57,1030.86 L645.30,1032.28 L645.02,1033.69 L644.75,1035.10 L644.47,1036.52 L644.20,1037.93 L643.92,1039.35 L643.64,1040.76M623.97,1027.90 L624.99,1028.95 L626.04,1029.97 L627.12,1030.95 L628.24,1031.88 L629.38,1032.77 L630.55,1033.61 L631.75,1034.42 L632.97,1035.18 L634.21,1035.92 L635.44,1036.66 L636.68,1037.41 L637.91,1038.15 L639.15,1038.89 L640.38,1039.63 L641.62,1040.37 L642.85,1041.11M651.31,1019.01 L651.10,1020.47 L650.85,1021.91 L650.55,1023.34 L650.19,1024.75 L649.79,1026.14 L649.34,1027.51 L648.84,1028.86 L648.30,1030.20 L647.74,1031.53 L647.18,1032.85 L646.61,1034.18 L646.05,1035.50 L645.49,1036.83 L644.92,1038.16 L644.36,1039.48 L643.79,1040.81M627.22,1024.13 L628.00,1025.38 L628.82,1026.59 L629.67,1027.78 L630.57,1028.92 L631.51,1030.03 L632.48,1031.09 L633.48,1032.13 L634.52,1033.13 L635.57,1034.11 L636.62,1035.10 L637.68,1036.08 L638.73,1037.06 L639.79,1038.04 L640.84,1039.02 L641.89,1040.00 L642.95,1040.99" stroke-width="2.6"/></g>
<circle cx="643.5" cy="1041.5" r="9.3" fill="#fff"/>
<circle cx="643.5" cy="1041.5" r="104.75" fill="none" stroke="#000" stroke-width="2.5"/>
<circle cx="643.5" cy="1041.5" r="10.6" fill="none" stroke="#000" stroke-width="2.6"/>
<line x1="518.8" y1="733.6" x2="518.8" y2="887.4" stroke="#6a6a6a" stroke-width="1.7" stroke-linecap="butt"/>
<line x1="508.5" y1="733.6" x2="529.6" y2="733.6" stroke="#2a2a2a" stroke-width="1.25" stroke-linecap="butt"/>
<line x1="508.5" y1="887.4" x2="529.6" y2="887.4" stroke="#2a2a2a" stroke-width="1.25" stroke-linecap="butt"/>
<text transform="translate(508.60,887.49) rotate(-90) scale(0.9886,1)" font-size="37.80" stroke="#111" stroke-width="0.4">Ø150 мм</text>
<line x1="820.2" y1="672.5" x2="820.2" y2="1146.5" stroke="#6a6a6a" stroke-width="1.7" stroke-linecap="butt"/>
<line x1="809.5" y1="672.5" x2="831.5" y2="672.5" stroke="#2a2a2a" stroke-width="1.25" stroke-linecap="butt"/>
<line x1="809.5" y1="1146.5" x2="831.5" y2="1146.5" stroke="#2a2a2a" stroke-width="1.25" stroke-linecap="butt"/>
<text transform="translate(855.00,976.35) rotate(-90) scale(0.9980,1)" font-size="37.80" stroke="#111" stroke-width="0.4">450 мм</text>
<line x1="538.1" y1="1182.5" x2="749.7" y2="1182.5" stroke="#2a2a2a" stroke-width="1.25" stroke-linecap="butt"/>
<line x1="538.1" y1="1171.6" x2="538.1" y2="1193.5" stroke="#6a6a6a" stroke-width="1.7" stroke-linecap="butt"/>
<line x1="749.7" y1="1171.6" x2="749.7" y2="1193.5" stroke="#6a6a6a" stroke-width="1.7" stroke-linecap="butt"/>
<text transform="translate(569.51,1217.10) scale(0.9859,1)" font-size="37.80" stroke="#111" stroke-width="0.4">Ø200 мм</text>
<rect x="984.40" y="204.00" width="63.40" height="126.80" rx="0" fill="none" stroke="#000" stroke-width="2.4"/>
<line x1="1112.2" y1="203.2" x2="1112.2" y2="1146.6" stroke="#6a6a6a" stroke-width="1.7" stroke-linecap="butt"/>
<line x1="1100.6" y1="203.2" x2="1123.6" y2="203.2" stroke="#2a2a2a" stroke-width="1.25" stroke-linecap="butt"/>
<line x1="1100.6" y1="1146.6" x2="1123.6" y2="1146.6" stroke="#2a2a2a" stroke-width="1.25" stroke-linecap="butt"/>
<text transform="translate(1147.00,761.38) rotate(-90) scale(0.9949,1)" font-size="37.80" stroke="#111" stroke-width="0.4">2070 мм</text>
<path d="M1017.80,333.00C1017.77,336.17 1018.03,345.83 1017.60,352.00C1017.17,358.17 1016.30,362.83 1015.20,370.00C1014.10,377.17 1012.13,385.83 1011.00,395.00C1009.87,404.17 1008.98,415.50 1008.40,425.00C1007.82,434.50 1007.52,442.83 1007.50,452.00C1007.48,461.17 1007.72,470.67 1008.30,480.00C1008.88,489.33 1009.63,498.83 1011.00,508.00C1012.37,517.17 1014.75,525.50 1016.50,535.00C1018.25,544.50 1020.42,555.50 1021.50,565.00C1022.58,574.50 1022.88,583.33 1023.00,592.00C1023.12,600.67 1022.73,608.67 1022.20,617.00C1021.67,625.33 1020.70,634.50 1019.80,642.00C1018.90,649.50 1017.52,656.83 1016.80,662.00C1016.08,667.17 1015.72,671.17 1015.50,673.00" fill="none" stroke="#000" stroke-width="5.6"/>
<path d="M1017.80,333.00C1017.77,336.17 1018.03,345.83 1017.60,352.00C1017.17,358.17 1016.30,362.83 1015.20,370.00C1014.10,377.17 1012.13,385.83 1011.00,395.00C1009.87,404.17 1008.98,415.50 1008.40,425.00C1007.82,434.50 1007.52,442.83 1007.50,452.00C1007.48,461.17 1007.72,470.67 1008.30,480.00C1008.88,489.33 1009.63,498.83 1011.00,508.00C1012.37,517.17 1014.75,525.50 1016.50,535.00C1018.25,544.50 1020.42,555.50 1021.50,565.00C1022.58,574.50 1022.88,583.33 1023.00,592.00C1023.12,600.67 1022.73,608.67 1022.20,617.00C1021.67,625.33 1020.70,634.50 1019.80,642.00C1018.90,649.50 1017.52,656.83 1016.80,662.00C1016.08,667.17 1015.72,671.17 1015.50,673.00" fill="none" stroke="#fff" stroke-width="1.5"/>
<line x1="1015.8" y1="331" x2="1015.8" y2="672" stroke="#000" stroke-width="3.6" stroke-linecap="butt"/>
<path d="M1012.9,331 L1020.7,331 L1020.2,360 L1013.6,370 Z" fill="#000"/>
<path d="M1007.5,331.6 Q1011.5,332.8 1012.3,334.6 L1020.3,334.6 Q1021.0999999999999,332.8 1025.1,331.6 Z" fill="#000"/>
<circle cx="1015.9" cy="335.9" r="1.2" fill="#fff"/>
<rect x="1003.15" y="478.75" width="14.80" height="3.90" rx="0" fill="#fff" stroke="#000" stroke-width="1.5"/>
<circle cx="1016" cy="711.2" r="12.9" fill="#fff" stroke="#000" stroke-width="2.1"/>
<rect x="1009.35" y="673.65" width="13.90" height="25.50" rx="2" fill="#fff" stroke="#000" stroke-width="2.1"/>
<rect x="1009.70" y="723.20" width="13.20" height="14.80" rx="0" fill="#fff" stroke="#000" stroke-width="2.0"/>
<rect x="989.50" y="801.40" width="3.00" height="19.50" rx="0" fill="#fff" stroke="#000" stroke-width="1.6"/>
<rect x="1040.80" y="801.40" width="3.40" height="19.50" rx="0" fill="#fff" stroke="#000" stroke-width="1.6"/>
<rect x="993.30" y="733.20" width="6.50" height="156.60" rx="1.5" fill="#fff" stroke="#000" stroke-width="2.0"/>
<rect x="1033.00" y="733.20" width="7.00" height="156.60" rx="1.5" fill="#fff" stroke="#000" stroke-width="2.0"/>
<line x1="999.8" y1="739.3" x2="1033" y2="739.3" stroke="#000" stroke-width="2.0" stroke-linecap="butt"/>
<line x1="999.8" y1="883" x2="1033" y2="883" stroke="#000" stroke-width="2.0" stroke-linecap="butt"/>
<circle cx="1016.5" cy="914.3" r="15.8" fill="#fff" stroke="#000" stroke-width="2.1"/>
<rect x="1009.70" y="884.00" width="13.20" height="15.60" rx="0" fill="#fff" stroke="#000" stroke-width="2.0"/>
<rect x="1009.70" y="929.60" width="13.20" height="13.90" rx="0" fill="#fff" stroke="#000" stroke-width="2.0"/>
<rect x="987.70" y="1030.80" width="3.30" height="20.80" rx="0" fill="#fff" stroke="#000" stroke-width="1.6"/>
<rect x="1042.20" y="1030.80" width="3.20" height="20.80" rx="0" fill="#fff" stroke="#000" stroke-width="1.6"/>
<rect x="991.80" y="936.20" width="8.00" height="210.10" rx="1.5" fill="#fff" stroke="#000" stroke-width="2.0"/>
<rect x="1033.00" y="936.20" width="8.40" height="210.10" rx="1.5" fill="#fff" stroke="#000" stroke-width="2.0"/>
<line x1="999.8" y1="945" x2="1033" y2="945" stroke="#000" stroke-width="2.0" stroke-linecap="butt"/>
<line x1="999.8" y1="1138.5" x2="1033" y2="1138.5" stroke="#000" stroke-width="2.0" stroke-linecap="butt"/>
<line x1="991" y1="1182.5" x2="1159.7" y2="1182.5" stroke="#2a2a2a" stroke-width="1.25" stroke-linecap="butt"/>
<line x1="991" y1="1171.6" x2="991" y2="1193.4" stroke="#6a6a6a" stroke-width="1.7" stroke-linecap="butt"/>
<line x1="1043" y1="1171.6" x2="1043" y2="1193.4" stroke="#6a6a6a" stroke-width="1.7" stroke-linecap="butt"/>
<text transform="translate(1052.65,1217.50) scale(1.0223,1)" font-size="36.50" stroke="#111" stroke-width="0.4">48 мм</text>
</svg></body></html>
